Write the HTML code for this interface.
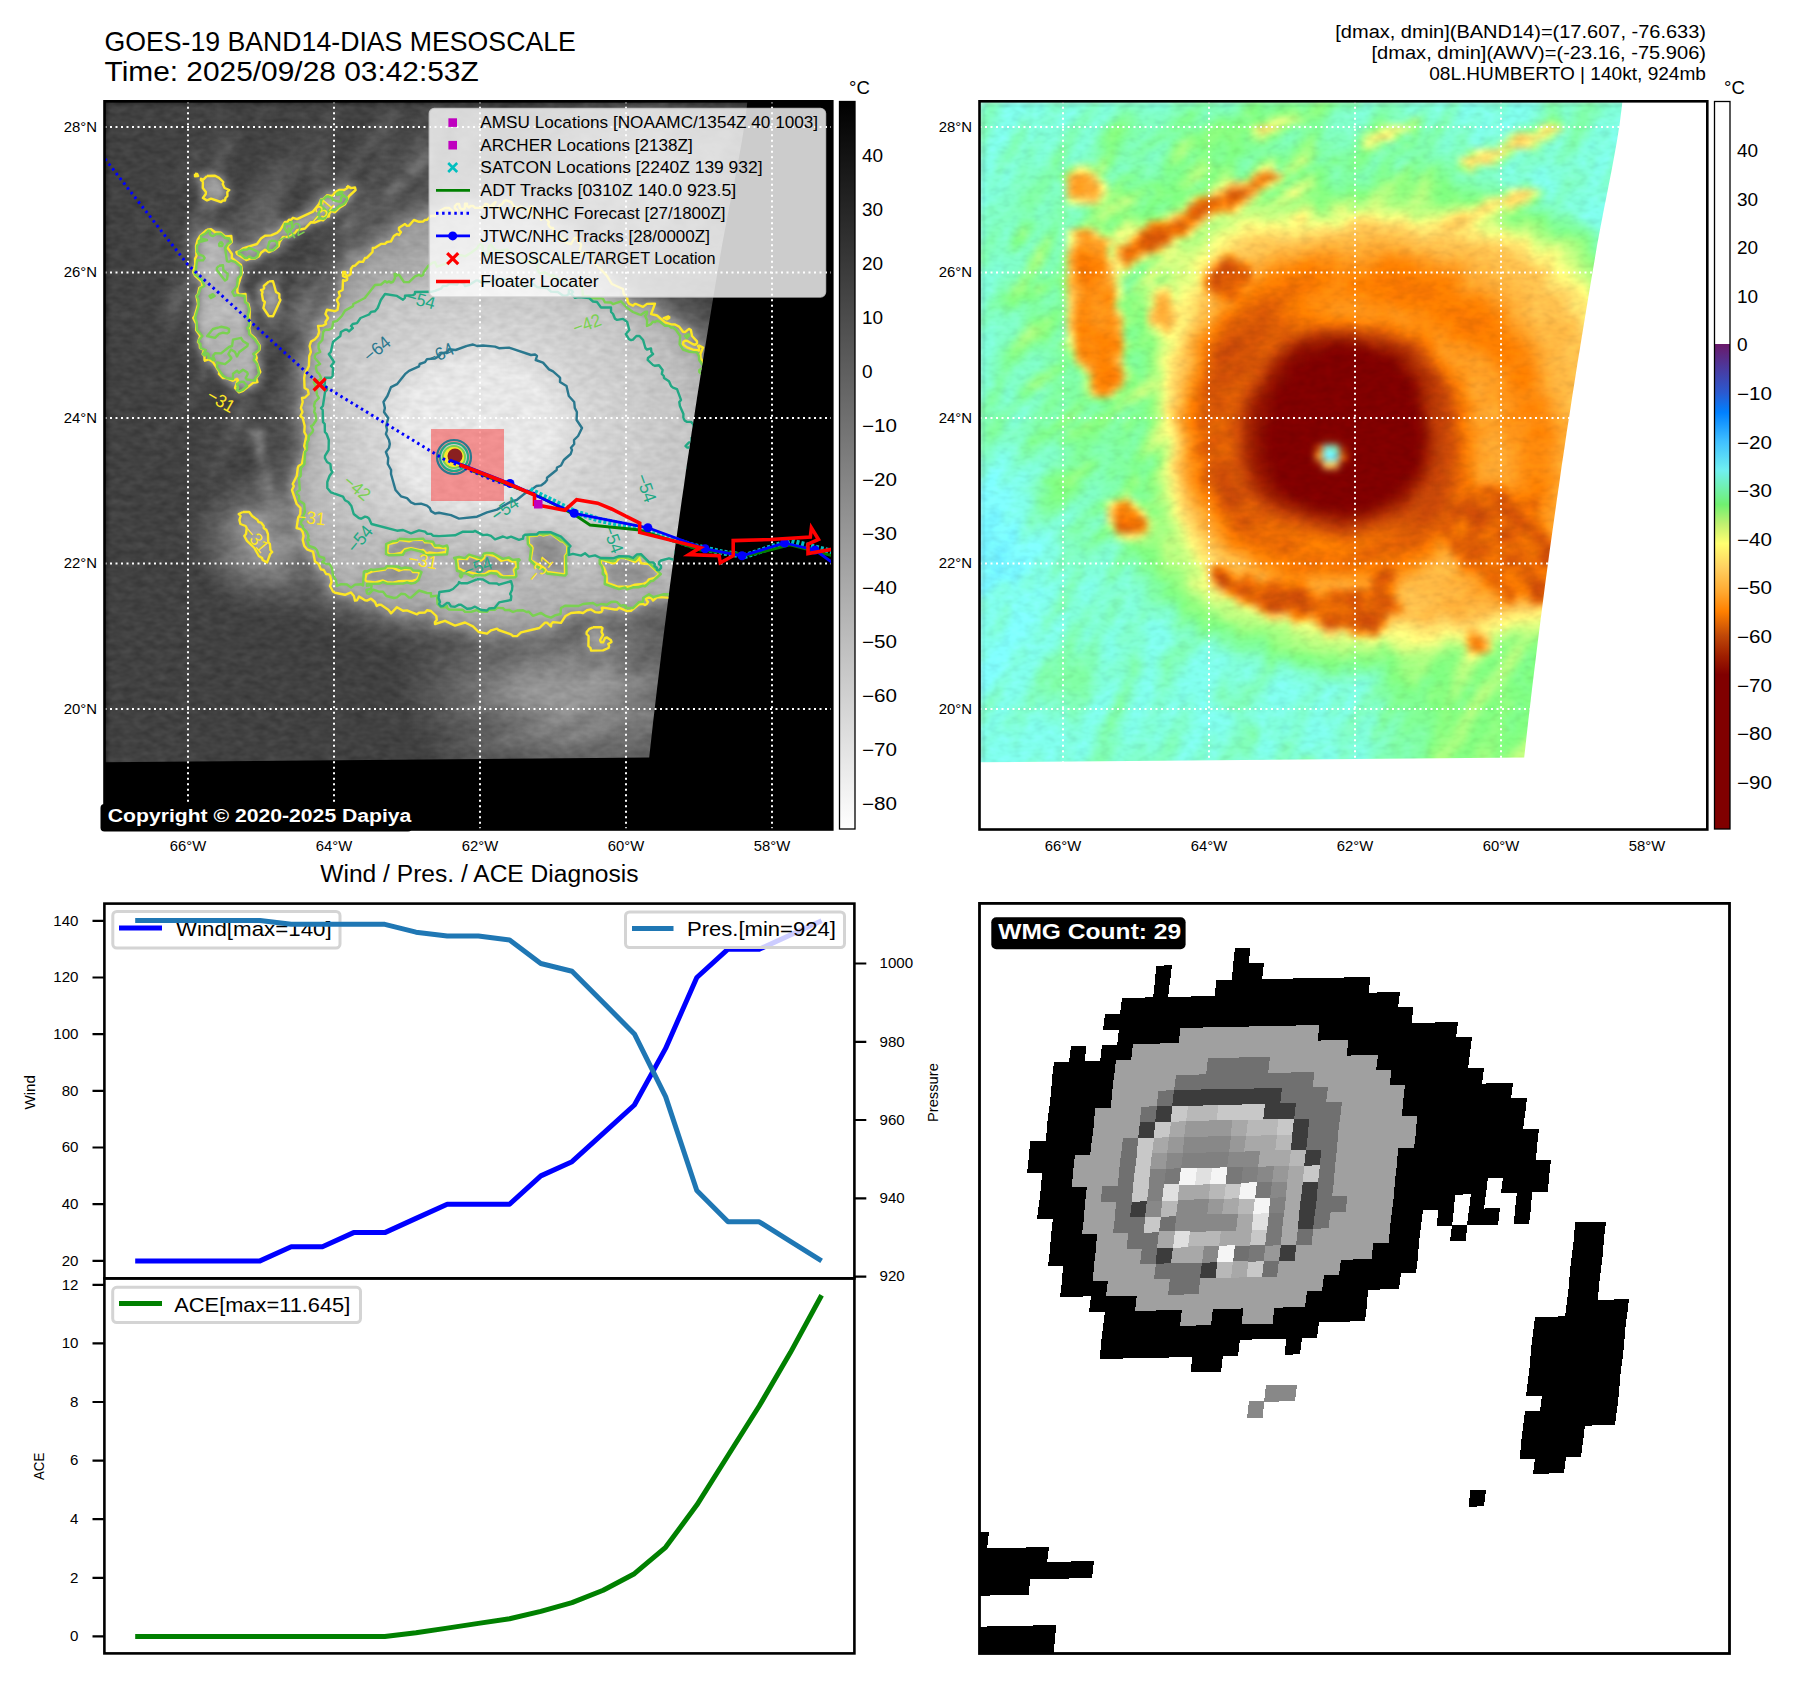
<!DOCTYPE html><html><head><meta charset="utf-8"><title>GOES-19 BAND14 Humberto</title><style>html,body{margin:0;padding:0;background:#fff;overflow:hidden}svg{display:block}</style></head><body>
<svg xmlns="http://www.w3.org/2000/svg" width="1797" height="1690" viewBox="0 0 1797 1690" font-family="'Liberation Sans', sans-serif">
<defs>
<clipPath id="clip0"><rect x="104.5" y="101.3" width="727.8" height="728.2"/></clipPath>
<clipPath id="clip1"><rect x="979.5" y="101.3" width="727.8" height="728.2"/></clipPath>
<clipPath id="clipw"><rect x="979.5" y="903.4" width="750" height="750.1"/></clipPath>
<linearGradient id="cb0" x1="0" y1="0" x2="0" y2="1"><stop offset="0" stop-color="#000"/><stop offset="1" stop-color="#fff"/></linearGradient>
<linearGradient id="cb1" x1="0" y1="0" x2="0" y2="1"><stop offset="0.0000" stop-color="#ffffff"/><stop offset="0.3337" stop-color="#ffffff"/><stop offset="0.3338" stop-color="#6a1a6a"/><stop offset="0.3672" stop-color="#4a3aa0"/><stop offset="0.4005" stop-color="#2a5ad0"/><stop offset="0.4273" stop-color="#0080ff"/><stop offset="0.4673" stop-color="#40c0ff"/><stop offset="0.5074" stop-color="#70f0f0"/><stop offset="0.5541" stop-color="#70f070"/><stop offset="0.5808" stop-color="#c0f070"/><stop offset="0.6075" stop-color="#ffff70"/><stop offset="0.6409" stop-color="#ffd060"/><stop offset="0.6743" stop-color="#ffa830"/><stop offset="0.7010" stop-color="#ff8000"/><stop offset="0.7343" stop-color="#c04808"/><stop offset="0.7610" stop-color="#a02000"/><stop offset="0.7877" stop-color="#800000"/><stop offset="1.0000" stop-color="#800000"/></linearGradient>
<clipPath id="data0"><path d="M100.0 90.0 L748.5 90.0 L746.8 107.1 L744.6 124.2 L741.9 141.3 L738.8 158.5 L735.6 175.6 L732.2 192.7 L728.8 209.8 L725.5 226.9 L722.3 244.0 L719.4 261.2 L716.5 278.3 L713.6 295.4 L710.8 312.5 L708.0 329.6 L705.2 346.7 L702.4 363.8 L699.7 381.0 L697.0 398.1 L694.4 415.2 L691.7 432.3 L689.2 449.4 L686.6 466.5 L684.2 483.7 L681.7 500.8 L679.3 517.9 L676.9 535.0 L674.5 552.1 L672.2 569.2 L669.9 586.3 L667.7 603.5 L665.5 620.6 L663.3 637.7 L661.2 654.8 L659.1 671.9 L657.0 689.0 L655.0 706.2 L653.0 723.3 L651.1 740.4 L649.2 757.5 L100.0 762.3Z"/></clipPath><clipPath id="data1"><path d="M975.0 90.0 L1623.5 90.0 L1621.8 107.1 L1619.6 124.2 L1616.9 141.3 L1613.8 158.5 L1610.6 175.6 L1607.2 192.7 L1603.8 209.8 L1600.5 226.9 L1597.3 244.0 L1594.4 261.2 L1591.5 278.3 L1588.6 295.4 L1585.8 312.5 L1583.0 329.6 L1580.2 346.7 L1577.4 363.8 L1574.7 381.0 L1572.0 398.1 L1569.4 415.2 L1566.7 432.3 L1564.2 449.4 L1561.6 466.5 L1559.2 483.7 L1556.7 500.8 L1554.3 517.9 L1551.9 535.0 L1549.5 552.1 L1547.2 569.2 L1544.9 586.3 L1542.7 603.5 L1540.5 620.6 L1538.3 637.7 L1536.2 654.8 L1534.1 671.9 L1532.0 689.0 L1530.0 706.2 L1528.0 723.3 L1526.1 740.4 L1524.2 757.5 L975.0 762.3Z"/></clipPath><filter id="blur0" filterUnits="userSpaceOnUse" x="100" y="95" width="740" height="740" color-interpolation-filters="sRGB"><feGaussianBlur in="SourceGraphic" stdDeviation="3.5" result="b"/><feTurbulence type="fractalNoise" baseFrequency="0.09 0.16" numOctaves="2" seed="7" result="n"/><feColorMatrix in="n" type="matrix" values="1 0 0 0 0 1 0 0 0 0 1 0 0 0 0 0 0 0 0 1" result="ng"/><feComposite in="b" in2="ng" operator="arithmetic" k1="0" k2="1" k3="0.11" k4="-0.055"/></filter><filter id="blur1" filterUnits="userSpaceOnUse" x="975" y="95" width="740" height="740" color-interpolation-filters="sRGB"><feGaussianBlur in="SourceGraphic" stdDeviation="3.5" result="b"/><feTurbulence type="fractalNoise" baseFrequency="0.09 0.16" numOctaves="2" seed="9" result="n"/><feColorMatrix in="n" type="matrix" values="1 0 0 0 0 1 0 0 0 0 1 0 0 0 0 0 0 0 0 1" result="ng"/><feComposite in="b" in2="ng" operator="arithmetic" k1="0.16" k2="0.92" k3="0" k4="0"/></filter>
</defs>
<rect width="1797" height="1690" fill="#fff"/>
<text x="104.5" y="51.0" font-size="27.56" textLength="471.3" lengthAdjust="spacingAndGlyphs">GOES-19 BAND14-DIAS MESOSCALE</text>
<text x="104.5" y="81.0" font-size="27.56" textLength="374.2" lengthAdjust="spacingAndGlyphs">Time: 2025/09/28 03:42:53Z</text>
<text x="1706.0" y="38.4" font-size="18.44" textLength="370.7" lengthAdjust="spacingAndGlyphs" text-anchor="end">[dmax, dmin](BAND14)=(17.607, -76.633)</text>
<text x="1706.0" y="59.2" font-size="18.44" textLength="334.5" lengthAdjust="spacingAndGlyphs" text-anchor="end">[dmax, dmin](AWV)=(-23.16, -75.906)</text>
<text x="1706.0" y="80.0" font-size="18.44" textLength="276.8" lengthAdjust="spacingAndGlyphs" text-anchor="end">08L.HUMBERTO | 140kt, 924mb</text>
<g clip-path="url(#clip0)">
<rect x="104" y="101" width="729" height="729" fill="#000"/><g clip-path="url(#data0)"><g filter="url(#blur0)"><path fill="#414141" d="M104 101h112v8h-112zM232 101h32v8h-32zM280 101h24v8h-24zM312 101h16v8h-16zM344 101h32v8h-32zM384 101h8v8h-8zM408 101h16v8h-16zM456 101h16v8h-16zM488 101h48v8h-48zM736 101h96v8h-96zM104 109h96v8h-96zM232 109h24v8h-24zM272 109h24v8h-24zM304 109h16v8h-16zM336 109h40v8h-40zM408 109h8v8h-8zM456 109h16v8h-16zM480 109h56v8h-56zM744 109h88v8h-88zM104 117h88v8h-88zM200 117h8v8h-8zM232 117h24v8h-24zM264 117h32v8h-32zM304 117h16v8h-16zM336 117h32v8h-32zM400 117h8v8h-8zM448 117h16v8h-16zM488 117h40v8h-40zM744 117h88v8h-88zM104 125h112v8h-112zM240 125h48v8h-48zM304 125h8v8h-8zM336 125h32v8h-32zM448 125h8v8h-8zM496 125h32v8h-32zM752 125h80v8h-80zM104 133h96v8h-96zM208 133h8v8h-8zM240 133h32v8h-32zM280 133h8v8h-8zM336 133h24v8h-24zM440 133h16v8h-16zM496 133h24v8h-24zM760 133h72v8h-72zM104 141h96v8h-96zM240 141h16v8h-16zM264 141h8v8h-8zM336 141h16v8h-16zM440 141h16v8h-16zM496 141h16v8h-16zM768 141h64v8h-64zM104 149h88v8h-88zM232 149h32v8h-32zM272 149h8v8h-8zM336 149h16v8h-16zM440 149h8v8h-8zM472 149h8v8h-8zM768 149h64v8h-64zM104 157h80v8h-80zM200 157h8v8h-8zM232 157h32v8h-32zM328 157h8v8h-8zM368 157h8v8h-8zM432 157h16v8h-16zM768 157h64v8h-64zM104 165h72v8h-72zM232 165h24v8h-24zM360 165h8v8h-8zM768 165h64v8h-64zM104 173h64v8h-64zM232 173h24v8h-24zM360 173h8v8h-8zM776 173h56v8h-56zM104 181h64v8h-64zM184 181h8v8h-8zM232 181h16v8h-16zM296 181h16v8h-16zM776 181h56v8h-56zM104 189h56v8h-56zM176 189h24v8h-24zM232 189h8v8h-8zM296 189h16v8h-16zM776 189h56v8h-56zM104 197h56v8h-56zM168 197h24v8h-24zM232 197h8v8h-8zM288 197h16v8h-16zM776 197h56v8h-56zM104 205h40v8h-40zM160 205h16v8h-16zM184 205h8v8h-8zM224 205h8v8h-8zM288 205h8v8h-8zM776 205h56v8h-56zM104 213h32v8h-32zM160 213h16v8h-16zM768 213h64v8h-64zM104 221h32v8h-32zM152 221h16v8h-16zM176 221h8v8h-8zM768 221h64v8h-64zM104 229h32v8h-32zM144 229h16v8h-16zM168 229h8v8h-8zM312 229h8v8h-8zM768 229h64v8h-64zM104 237h32v8h-32zM144 237h8v8h-8zM160 237h16v8h-16zM296 237h16v8h-16zM760 237h72v8h-72zM104 245h48v8h-48zM160 245h16v8h-16zM288 245h24v8h-24zM760 245h72v8h-72zM104 253h40v8h-40zM160 253h16v8h-16zM288 253h16v8h-16zM752 253h80v8h-80zM104 261h40v8h-40zM152 261h16v8h-16zM288 261h16v8h-16zM736 261h96v8h-96zM104 269h32v8h-32zM144 269h24v8h-24zM288 269h8v8h-8zM728 269h104v8h-104zM104 277h32v8h-32zM144 277h24v8h-24zM248 277h8v8h-8zM728 277h104v8h-104zM104 285h56v8h-56zM280 285h8v8h-8zM712 285h120v8h-120zM104 293h56v8h-56zM712 293h120v8h-120zM104 301h56v8h-56zM728 301h104v8h-104zM104 309h16v8h-16zM128 309h24v8h-24zM728 309h104v8h-104zM104 317h8v8h-8zM128 317h16v8h-16zM152 317h8v8h-8zM744 317h88v8h-88zM104 325h8v8h-8zM120 325h24v8h-24zM152 325h8v8h-8zM176 325h16v8h-16zM744 325h88v8h-88zM104 333h32v8h-32zM144 333h16v8h-16zM168 333h24v8h-24zM760 333h72v8h-72zM104 341h32v8h-32zM144 341h8v8h-8zM168 341h16v8h-16zM760 341h72v8h-72zM104 349h48v8h-48zM160 349h24v8h-24zM760 349h72v8h-72zM104 357h96v8h-96zM264 357h16v8h-16zM760 357h72v8h-72zM104 365h96v8h-96zM264 365h8v8h-8zM760 365h72v8h-72zM104 373h88v8h-88zM208 373h8v8h-8zM264 373h8v8h-8zM768 373h64v8h-64zM104 381h56v8h-56zM168 381h24v8h-24zM208 381h16v8h-16zM264 381h8v8h-8zM776 381h56v8h-56zM104 389h56v8h-56zM168 389h16v8h-16zM200 389h24v8h-24zM768 389h64v8h-64zM104 397h72v8h-72zM200 397h32v8h-32zM768 397h64v8h-64zM104 405h72v8h-72zM192 405h40v8h-40zM256 405h8v8h-8zM776 405h56v8h-56zM104 413h64v8h-64zM184 413h40v8h-40zM768 413h64v8h-64zM104 421h64v8h-64zM176 421h32v8h-32zM768 421h8v8h-8zM784 421h48v8h-48zM104 429h56v8h-56zM168 429h40v8h-40zM784 429h48v8h-48zM104 437h48v8h-48zM168 437h32v8h-32zM784 437h48v8h-48zM104 445h48v8h-48zM160 445h40v8h-40zM208 445h8v8h-8zM232 445h16v8h-16zM784 445h48v8h-48zM104 453h88v8h-88zM208 453h8v8h-8zM232 453h16v8h-16zM784 453h48v8h-48zM104 461h88v8h-88zM200 461h8v8h-8zM224 461h32v8h-32zM784 461h48v8h-48zM104 469h96v8h-96zM224 469h16v8h-16zM792 469h40v8h-40zM104 477h96v8h-96zM216 477h8v8h-8zM792 477h40v8h-40zM104 485h96v8h-96zM792 485h40v8h-40zM104 493h96v8h-96zM792 493h40v8h-40zM104 501h96v8h-96zM784 501h48v8h-48zM104 509h88v8h-88zM784 509h48v8h-48zM104 517h88v8h-88zM776 517h56v8h-56zM104 525h88v8h-88zM776 525h56v8h-56zM104 533h88v8h-88zM776 533h56v8h-56zM104 541h88v8h-88zM776 541h56v8h-56zM104 549h88v8h-88zM776 549h56v8h-56zM104 557h88v8h-88zM776 557h56v8h-56zM104 565h96v8h-96zM776 565h56v8h-56zM104 573h96v8h-96zM776 573h56v8h-56zM104 581h104v8h-104zM768 581h64v8h-64zM104 589h112v8h-112zM760 589h72v8h-72zM104 597h120v8h-120zM752 597h8v8h-8zM768 597h64v8h-64zM104 605h136v8h-136zM760 605h72v8h-72zM104 613h200v8h-200zM760 613h72v8h-72zM104 621h200v8h-200zM312 621h16v8h-16zM760 621h72v8h-72zM104 629h240v8h-240zM752 629h80v8h-80zM104 637h264v8h-264zM736 637h96v8h-96zM104 645h288v8h-288zM736 645h96v8h-96zM104 653h304v8h-304zM744 653h88v8h-88zM104 661h296v8h-296zM744 661h88v8h-88zM104 669h296v8h-296zM752 669h80v8h-80zM104 677h296v8h-296zM752 677h80v8h-80zM104 685h296v8h-296zM752 685h80v8h-80zM104 693h296v8h-296zM752 693h80v8h-80zM104 701h296v8h-296zM752 701h80v8h-80zM104 709h304v8h-304zM744 709h88v8h-88zM104 717h304v8h-304zM744 717h88v8h-88zM104 725h312v8h-312zM736 725h96v8h-96zM104 733h312v8h-312zM736 733h96v8h-96zM104 741h320v8h-320zM728 741h104v8h-104zM104 749h328v8h-328zM720 749h112v8h-112zM104 757h336v8h-336zM704 757h128v8h-128zM104 765h352v8h-352zM696 765h136v8h-136zM104 773h360v8h-360zM680 773h152v8h-152zM104 781h384v8h-384zM656 781h176v8h-176zM104 789h424v8h-424zM640 789h192v8h-192zM104 797h728v8h-728zM104 805h728v8h-728zM104 813h728v8h-728zM104 821h728v8h-728z"/>
<path fill="#454545" d="M216 101h16v8h-16zM264 101h16v8h-16zM304 101h8v8h-8zM336 101h8v8h-8zM376 101h8v8h-8zM400 101h8v8h-8zM440 101h16v8h-16zM472 101h16v8h-16zM536 101h16v8h-16zM568 101h8v8h-8zM688 101h8v8h-8zM712 101h24v8h-24zM200 109h16v8h-16zM224 109h8v8h-8zM256 109h16v8h-16zM296 109h8v8h-8zM320 109h8v8h-8zM400 109h8v8h-8zM432 109h8v8h-8zM448 109h8v8h-8zM536 109h8v8h-8zM736 109h8v8h-8zM192 117h8v8h-8zM208 117h8v8h-8zM224 117h8v8h-8zM256 117h8v8h-8zM296 117h8v8h-8zM368 117h8v8h-8zM408 117h8v8h-8zM424 117h8v8h-8zM480 117h8v8h-8zM528 117h8v8h-8zM216 125h24v8h-24zM288 125h16v8h-16zM328 125h8v8h-8zM400 125h8v8h-8zM416 125h8v8h-8zM440 125h8v8h-8zM456 125h8v8h-8zM480 125h16v8h-16zM528 125h8v8h-8zM744 125h8v8h-8zM200 133h8v8h-8zM272 133h8v8h-8zM296 133h8v8h-8zM328 133h8v8h-8zM408 133h8v8h-8zM480 133h8v8h-8zM520 133h8v8h-8zM744 133h16v8h-16zM208 141h8v8h-8zM256 141h8v8h-8zM272 141h16v8h-16zM296 141h8v8h-8zM352 141h8v8h-8zM400 141h8v8h-8zM432 141h8v8h-8zM472 141h16v8h-16zM512 141h8v8h-8zM744 141h24v8h-24zM264 149h8v8h-8zM280 149h16v8h-16zM328 149h8v8h-8zM368 149h8v8h-8zM448 149h8v8h-8zM488 149h32v8h-32zM760 149h8v8h-8zM336 157h16v8h-16zM488 157h24v8h-24zM760 157h8v8h-8zM192 165h16v8h-16zM224 165h8v8h-8zM328 165h8v8h-8zM440 165h8v8h-8zM168 173h8v8h-8zM184 173h8v8h-8zM296 173h16v8h-16zM352 173h8v8h-8zM768 173h8v8h-8zM176 181h8v8h-8zM768 181h8v8h-8zM160 189h16v8h-16zM240 189h8v8h-8zM288 189h8v8h-8zM768 189h8v8h-8zM160 197h8v8h-8zM192 197h8v8h-8zM760 197h16v8h-16zM144 205h16v8h-16zM176 205h8v8h-8zM296 205h8v8h-8zM760 205h16v8h-16zM136 213h8v8h-8zM152 213h8v8h-8zM176 213h16v8h-16zM216 213h8v8h-8zM280 213h8v8h-8zM760 213h8v8h-8zM136 221h16v8h-16zM168 221h8v8h-8zM760 221h8v8h-8zM136 229h8v8h-8zM160 229h8v8h-8zM176 229h8v8h-8zM304 229h8v8h-8zM752 229h16v8h-16zM136 237h8v8h-8zM152 237h8v8h-8zM744 237h16v8h-16zM152 245h8v8h-8zM312 245h8v8h-8zM744 245h16v8h-16zM144 253h16v8h-16zM184 253h8v8h-8zM736 253h16v8h-16zM144 261h8v8h-8zM168 261h8v8h-8zM184 261h8v8h-8zM264 261h8v8h-8zM728 261h8v8h-8zM136 269h8v8h-8zM168 269h8v8h-8zM264 269h8v8h-8zM280 269h8v8h-8zM136 277h8v8h-8zM280 277h16v8h-16zM712 277h16v8h-16zM160 285h8v8h-8zM240 285h16v8h-16zM696 285h16v8h-16zM160 293h8v8h-8zM704 293h8v8h-8zM184 301h8v8h-8zM280 301h8v8h-8zM704 301h24v8h-24zM120 309h8v8h-8zM152 309h8v8h-8zM184 309h8v8h-8zM112 317h16v8h-16zM144 317h8v8h-8zM160 317h8v8h-8zM184 317h8v8h-8zM728 317h16v8h-16zM112 325h8v8h-8zM144 325h8v8h-8zM160 325h8v8h-8zM744 333h16v8h-16zM136 341h8v8h-8zM152 341h16v8h-16zM184 341h8v8h-8zM264 341h8v8h-8zM752 341h8v8h-8zM152 349h8v8h-8zM192 349h8v8h-8zM264 349h24v8h-24zM272 365h8v8h-8zM760 373h8v8h-8zM160 381h8v8h-8zM760 381h16v8h-16zM160 389h8v8h-8zM184 389h8v8h-8zM224 389h8v8h-8zM264 389h8v8h-8zM760 389h8v8h-8zM176 397h8v8h-8zM192 397h8v8h-8zM232 397h8v8h-8zM256 397h8v8h-8zM760 397h8v8h-8zM184 405h8v8h-8zM760 405h16v8h-16zM168 413h16v8h-16zM248 413h16v8h-16zM760 413h8v8h-8zM168 421h8v8h-8zM208 421h16v8h-16zM776 421h8v8h-8zM768 429h16v8h-16zM160 437h8v8h-8zM200 437h8v8h-8zM216 437h8v8h-8zM240 437h8v8h-8zM776 437h8v8h-8zM152 445h8v8h-8zM776 445h8v8h-8zM192 453h16v8h-16zM248 453h8v8h-8zM192 461h8v8h-8zM200 469h8v8h-8zM216 469h8v8h-8zM240 469h8v8h-8zM224 477h8v8h-8zM784 477h8v8h-8zM208 485h16v8h-16zM784 485h8v8h-8zM200 493h8v8h-8zM784 493h8v8h-8zM200 501h8v8h-8zM192 509h8v8h-8zM776 509h8v8h-8zM768 517h8v8h-8zM768 533h8v8h-8zM768 541h8v8h-8zM192 549h8v8h-8zM768 549h8v8h-8zM192 557h8v8h-8zM768 557h8v8h-8zM768 565h8v8h-8zM200 573h8v8h-8zM760 573h16v8h-16zM208 581h8v8h-8zM760 581h8v8h-8zM216 589h8v8h-8zM752 589h8v8h-8zM224 597h8v8h-8zM744 597h8v8h-8zM760 597h8v8h-8zM240 605h24v8h-24zM752 605h8v8h-8zM752 613h8v8h-8zM304 621h8v8h-8zM328 621h16v8h-16zM752 621h8v8h-8zM344 629h16v8h-16zM720 629h32v8h-32zM368 637h8v8h-8zM728 637h8v8h-8zM392 645h8v8h-8zM728 645h8v8h-8zM408 653h8v8h-8zM736 653h8v8h-8zM400 661h8v8h-8zM400 669h8v8h-8zM744 669h8v8h-8zM400 677h8v8h-8zM744 677h8v8h-8zM400 685h8v8h-8zM744 685h8v8h-8zM400 693h8v8h-8zM744 693h8v8h-8zM400 701h8v8h-8zM744 701h8v8h-8zM408 709h8v8h-8zM736 709h8v8h-8zM408 717h8v8h-8zM736 717h8v8h-8zM416 725h8v8h-8zM728 725h8v8h-8zM416 733h16v8h-16zM728 733h8v8h-8zM424 741h8v8h-8zM712 741h16v8h-16zM432 749h8v8h-8zM712 749h8v8h-8zM440 757h8v8h-8zM696 757h8v8h-8zM456 765h8v8h-8zM688 765h8v8h-8zM464 773h16v8h-16zM664 773h16v8h-16zM488 781h24v8h-24zM648 781h8v8h-8zM528 789h32v8h-32zM608 789h32v8h-32z"/>
<path fill="#494949" d="M392 101h8v8h-8zM432 101h8v8h-8zM552 101h16v8h-16zM680 101h8v8h-8zM696 101h16v8h-16zM216 109h8v8h-8zM376 109h8v8h-8zM416 109h8v8h-8zM440 109h8v8h-8zM472 109h8v8h-8zM544 109h8v8h-8zM560 109h16v8h-16zM680 109h8v8h-8zM696 109h40v8h-40zM216 117h8v8h-8zM416 117h8v8h-8zM464 117h8v8h-8zM536 117h8v8h-8zM560 117h8v8h-8zM696 117h8v8h-8zM736 117h8v8h-8zM312 125h8v8h-8zM392 125h8v8h-8zM408 125h8v8h-8zM536 125h8v8h-8zM736 125h8v8h-8zM232 133h8v8h-8zM288 133h8v8h-8zM304 133h8v8h-8zM320 133h8v8h-8zM360 133h8v8h-8zM392 133h16v8h-16zM456 133h8v8h-8zM488 133h8v8h-8zM528 133h8v8h-8zM736 133h8v8h-8zM200 141h8v8h-8zM232 141h8v8h-8zM288 141h8v8h-8zM328 141h8v8h-8zM488 141h8v8h-8zM520 141h16v8h-16zM544 141h8v8h-8zM736 141h8v8h-8zM200 149h16v8h-16zM304 149h16v8h-16zM392 149h8v8h-8zM480 149h8v8h-8zM520 149h8v8h-8zM736 149h24v8h-24zM184 157h8v8h-8zM208 157h8v8h-8zM224 157h8v8h-8zM264 157h8v8h-8zM304 157h8v8h-8zM360 157h8v8h-8zM448 157h8v8h-8zM464 157h16v8h-16zM512 157h32v8h-32zM736 157h8v8h-8zM752 157h8v8h-8zM176 165h16v8h-16zM256 165h16v8h-16zM304 165h8v8h-8zM336 165h8v8h-8zM368 165h8v8h-8zM384 165h8v8h-8zM424 165h16v8h-16zM736 165h8v8h-8zM752 165h16v8h-16zM176 173h8v8h-8zM224 173h8v8h-8zM320 173h16v8h-16zM760 173h8v8h-8zM168 181h8v8h-8zM248 181h8v8h-8zM360 181h8v8h-8zM728 181h8v8h-8zM760 181h8v8h-8zM400 189h8v8h-8zM760 189h8v8h-8zM728 197h8v8h-8zM216 205h8v8h-8zM232 205h8v8h-8zM144 213h8v8h-8zM224 213h8v8h-8zM720 213h8v8h-8zM752 213h8v8h-8zM216 221h8v8h-8zM752 221h8v8h-8zM232 229h8v8h-8zM328 229h8v8h-8zM176 237h8v8h-8zM312 237h16v8h-16zM320 245h8v8h-8zM736 245h8v8h-8zM280 253h8v8h-8zM304 253h16v8h-16zM728 253h8v8h-8zM272 261h16v8h-16zM312 261h8v8h-8zM176 269h8v8h-8zM248 269h16v8h-16zM720 269h8v8h-8zM168 277h8v8h-8zM256 277h8v8h-8zM672 277h8v8h-8zM688 277h24v8h-24zM168 285h8v8h-8zM680 285h16v8h-16zM248 293h8v8h-8zM280 293h8v8h-8zM696 293h8v8h-8zM696 301h8v8h-8zM720 309h8v8h-8zM176 317h8v8h-8zM256 317h8v8h-8zM736 325h8v8h-8zM136 333h8v8h-8zM160 333h8v8h-8zM280 333h8v8h-8zM736 333h8v8h-8zM280 341h8v8h-8zM744 341h8v8h-8zM184 349h8v8h-8zM752 349h8v8h-8zM280 357h8v8h-8zM752 357h8v8h-8zM280 365h8v8h-8zM752 365h8v8h-8zM192 373h8v8h-8zM272 373h8v8h-8zM752 373h8v8h-8zM200 381h8v8h-8zM272 381h8v8h-8zM752 381h8v8h-8zM248 389h16v8h-16zM752 389h8v8h-8zM264 397h8v8h-8zM752 397h8v8h-8zM176 405h8v8h-8zM264 405h8v8h-8zM752 405h8v8h-8zM224 413h8v8h-8zM264 413h8v8h-8zM248 421h8v8h-8zM264 421h8v8h-8zM760 421h8v8h-8zM160 429h8v8h-8zM208 429h16v8h-16zM264 429h8v8h-8zM760 429h8v8h-8zM152 437h8v8h-8zM208 437h8v8h-8zM264 437h16v8h-16zM768 437h8v8h-8zM200 445h8v8h-8zM248 445h8v8h-8zM264 445h16v8h-16zM768 445h8v8h-8zM224 453h8v8h-8zM776 453h8v8h-8zM776 461h8v8h-8zM248 469h8v8h-8zM776 469h16v8h-16zM200 477h8v8h-8zM776 477h8v8h-8zM200 485h8v8h-8zM208 493h8v8h-8zM776 493h8v8h-8zM776 501h8v8h-8zM768 509h8v8h-8zM192 517h8v8h-8zM192 525h8v8h-8zM768 525h8v8h-8zM192 533h8v8h-8zM192 541h8v8h-8zM760 541h8v8h-8zM760 549h8v8h-8zM760 557h8v8h-8zM200 565h8v8h-8zM760 565h8v8h-8zM208 573h8v8h-8zM752 573h8v8h-8zM216 581h8v8h-8zM752 581h8v8h-8zM744 589h8v8h-8zM232 597h16v8h-16zM264 605h48v8h-48zM744 605h8v8h-8zM304 613h24v8h-24zM736 613h16v8h-16zM344 621h8v8h-8zM736 621h16v8h-16zM360 629h8v8h-8zM712 629h8v8h-8zM376 637h32v8h-32zM712 637h16v8h-16zM400 645h24v8h-24zM728 653h8v8h-8zM408 661h8v8h-8zM736 661h8v8h-8zM408 669h8v8h-8zM736 669h8v8h-8zM408 677h8v8h-8zM736 677h8v8h-8zM408 701h8v8h-8zM736 701h8v8h-8zM416 709h8v8h-8zM416 717h8v8h-8zM728 717h8v8h-8zM424 725h8v8h-8zM720 725h8v8h-8zM432 733h8v8h-8zM712 733h16v8h-16zM432 741h8v8h-8zM704 741h8v8h-8zM696 749h16v8h-16zM448 757h16v8h-16zM688 757h8v8h-8zM464 765h16v8h-16zM672 765h16v8h-16zM480 773h16v8h-16zM648 773h16v8h-16zM512 781h24v8h-24zM552 781h16v8h-16zM624 781h24v8h-24zM560 789h48v8h-48z"/>
<path fill="#4d4d4d" d="M328 101h8v8h-8zM424 101h8v8h-8zM576 101h8v8h-8zM592 101h24v8h-24zM328 109h8v8h-8zM384 109h8v8h-8zM424 109h8v8h-8zM552 109h8v8h-8zM688 109h8v8h-8zM320 117h16v8h-16zM392 117h8v8h-8zM432 117h16v8h-16zM472 117h8v8h-8zM544 117h16v8h-16zM680 117h8v8h-8zM704 117h32v8h-32zM368 125h8v8h-8zM432 125h8v8h-8zM552 125h8v8h-8zM688 125h32v8h-32zM216 133h8v8h-8zM312 133h8v8h-8zM384 133h8v8h-8zM432 133h8v8h-8zM472 133h8v8h-8zM536 133h24v8h-24zM216 141h8v8h-8zM304 141h24v8h-24zM376 141h24v8h-24zM408 141h8v8h-8zM536 141h8v8h-8zM728 141h8v8h-8zM192 149h8v8h-8zM296 149h8v8h-8zM352 149h8v8h-8zM376 149h8v8h-8zM400 149h8v8h-8zM432 149h8v8h-8zM528 149h24v8h-24zM728 149h8v8h-8zM192 157h8v8h-8zM272 157h24v8h-24zM376 157h8v8h-8zM392 157h8v8h-8zM720 157h16v8h-16zM744 157h8v8h-8zM392 165h8v8h-8zM464 165h8v8h-8zM488 165h56v8h-56zM720 165h16v8h-16zM744 165h8v8h-8zM256 173h8v8h-8zM376 173h24v8h-24zM416 173h24v8h-24zM536 173h8v8h-8zM712 173h48v8h-48zM192 181h8v8h-8zM288 181h8v8h-8zM312 181h16v8h-16zM376 181h16v8h-16zM408 181h16v8h-16zM736 181h8v8h-8zM752 181h8v8h-8zM408 189h8v8h-8zM720 189h24v8h-24zM752 189h8v8h-8zM240 197h8v8h-8zM352 197h8v8h-8zM392 197h8v8h-8zM720 197h8v8h-8zM752 197h8v8h-8zM280 205h8v8h-8zM720 205h16v8h-16zM752 205h8v8h-8zM336 213h8v8h-8zM712 213h8v8h-8zM320 221h16v8h-16zM720 221h8v8h-8zM744 229h8v8h-8zM328 237h8v8h-8zM736 237h8v8h-8zM176 245h8v8h-8zM264 253h16v8h-16zM320 253h8v8h-8zM176 261h8v8h-8zM256 261h8v8h-8zM720 261h8v8h-8zM184 269h8v8h-8zM312 269h8v8h-8zM664 269h24v8h-24zM704 269h16v8h-16zM176 277h8v8h-8zM304 277h8v8h-8zM656 277h16v8h-16zM680 277h8v8h-8zM680 293h16v8h-16zM160 301h8v8h-8zM160 309h8v8h-8zM704 309h16v8h-16zM712 317h16v8h-16zM168 325h8v8h-8zM728 325h8v8h-8zM272 333h8v8h-8zM728 333h8v8h-8zM272 341h8v8h-8zM288 341h8v8h-8zM736 341h8v8h-8zM736 349h16v8h-16zM736 357h16v8h-16zM192 381h8v8h-8zM192 389h8v8h-8zM272 389h8v8h-8zM184 397h8v8h-8zM272 397h8v8h-8zM248 405h8v8h-8zM272 413h8v8h-8zM752 413h8v8h-8zM224 421h8v8h-8zM240 421h8v8h-8zM272 421h8v8h-8zM240 429h8v8h-8zM272 429h8v8h-8zM232 437h8v8h-8zM280 437h8v8h-8zM760 437h8v8h-8zM216 445h8v8h-8zM760 445h8v8h-8zM768 453h8v8h-8zM208 461h8v8h-8zM768 461h8v8h-8zM768 469h8v8h-8zM208 477h8v8h-8zM232 477h8v8h-8zM224 485h8v8h-8zM768 485h16v8h-16zM216 493h8v8h-8zM760 493h16v8h-16zM208 501h8v8h-8zM760 501h16v8h-16zM200 509h8v8h-8zM752 509h16v8h-16zM760 517h8v8h-8zM752 525h16v8h-16zM760 533h8v8h-8zM200 549h8v8h-8zM752 549h8v8h-8zM200 557h8v8h-8zM752 557h8v8h-8zM752 565h8v8h-8zM744 581h8v8h-8zM224 589h8v8h-8zM248 597h8v8h-8zM264 597h16v8h-16zM736 597h8v8h-8zM312 605h8v8h-8zM728 605h16v8h-16zM328 613h8v8h-8zM344 613h8v8h-8zM728 613h8v8h-8zM352 621h8v8h-8zM688 621h16v8h-16zM712 621h24v8h-24zM368 629h8v8h-8zM384 629h16v8h-16zM704 629h8v8h-8zM408 637h8v8h-8zM704 637h8v8h-8zM424 645h8v8h-8zM712 645h16v8h-16zM416 653h16v8h-16zM416 661h8v8h-8zM728 661h8v8h-8zM416 669h8v8h-8zM728 669h8v8h-8zM416 677h8v8h-8zM728 677h8v8h-8zM408 685h8v8h-8zM728 685h16v8h-16zM408 693h8v8h-8zM736 693h8v8h-8zM416 701h8v8h-8zM424 709h8v8h-8zM728 709h8v8h-8zM424 717h8v8h-8zM720 717h8v8h-8zM432 725h16v8h-16zM440 733h8v8h-8zM440 741h8v8h-8zM696 741h8v8h-8zM440 749h16v8h-16zM680 749h16v8h-16zM464 757h16v8h-16zM672 757h16v8h-16zM480 765h8v8h-8zM656 765h16v8h-16zM496 773h16v8h-16zM624 773h24v8h-24zM536 781h16v8h-16zM568 781h8v8h-8zM600 781h24v8h-24z"/>
<path fill="#515151" d="M584 101h8v8h-8zM616 101h16v8h-16zM664 101h16v8h-16zM392 109h8v8h-8zM592 109h16v8h-16zM376 117h8v8h-8zM568 117h8v8h-8zM584 117h8v8h-8zM688 117h8v8h-8zM320 125h8v8h-8zM424 125h8v8h-8zM464 125h8v8h-8zM544 125h8v8h-8zM560 125h8v8h-8zM672 125h8v8h-8zM728 125h8v8h-8zM224 133h8v8h-8zM416 133h16v8h-16zM696 133h8v8h-8zM728 133h8v8h-8zM360 141h8v8h-8zM216 149h8v8h-8zM384 149h8v8h-8zM464 149h8v8h-8zM296 157h8v8h-8zM312 157h16v8h-16zM384 157h8v8h-8zM400 157h8v8h-8zM480 157h8v8h-8zM544 157h8v8h-8zM288 165h8v8h-8zM320 165h8v8h-8zM352 165h8v8h-8zM400 165h8v8h-8zM448 165h8v8h-8zM472 165h16v8h-16zM264 173h8v8h-8zM440 173h8v8h-8zM456 173h16v8h-16zM480 173h24v8h-24zM520 173h16v8h-16zM264 181h8v8h-8zM368 181h8v8h-8zM424 181h16v8h-16zM528 181h8v8h-8zM712 181h16v8h-16zM744 181h8v8h-8zM248 189h8v8h-8zM280 189h8v8h-8zM368 189h16v8h-16zM416 189h16v8h-16zM704 189h8v8h-8zM744 189h8v8h-8zM280 197h8v8h-8zM400 197h8v8h-8zM696 197h8v8h-8zM736 197h16v8h-16zM192 205h8v8h-8zM344 205h8v8h-8zM376 205h8v8h-8zM712 205h8v8h-8zM208 213h8v8h-8zM240 213h8v8h-8zM368 213h16v8h-16zM680 213h8v8h-8zM728 213h8v8h-8zM184 221h8v8h-8zM232 221h8v8h-8zM672 221h8v8h-8zM704 221h16v8h-16zM744 221h8v8h-8zM320 229h8v8h-8zM352 229h8v8h-8zM712 229h8v8h-8zM736 229h8v8h-8zM288 237h8v8h-8zM336 237h8v8h-8zM328 245h8v8h-8zM728 245h8v8h-8zM176 253h8v8h-8zM328 253h8v8h-8zM624 253h8v8h-8zM672 253h8v8h-8zM720 253h8v8h-8zM320 261h8v8h-8zM616 261h8v8h-8zM664 261h32v8h-32zM712 261h8v8h-8zM296 269h8v8h-8zM656 269h8v8h-8zM688 269h16v8h-16zM648 277h8v8h-8zM288 285h8v8h-8zM648 285h32v8h-32zM672 293h8v8h-8zM688 301h8v8h-8zM176 309h8v8h-8zM256 309h8v8h-8zM720 325h8v8h-8zM288 333h8v8h-8zM720 333h8v8h-8zM728 341h8v8h-8zM208 365h8v8h-8zM736 365h16v8h-16zM280 373h8v8h-8zM744 373h8v8h-8zM744 381h8v8h-8zM744 389h8v8h-8zM240 397h16v8h-16zM744 397h8v8h-8zM232 405h8v8h-8zM272 405h16v8h-16zM280 413h8v8h-8zM744 413h8v8h-8zM256 421h8v8h-8zM280 421h8v8h-8zM752 421h8v8h-8zM224 429h8v8h-8zM280 429h8v8h-8zM744 429h16v8h-16zM752 437h8v8h-8zM224 445h8v8h-8zM280 445h8v8h-8zM752 445h8v8h-8zM264 453h24v8h-24zM752 453h16v8h-16zM216 461h8v8h-8zM256 461h16v8h-16zM760 461h8v8h-8zM208 469h8v8h-8zM272 469h8v8h-8zM760 469h8v8h-8zM240 477h16v8h-16zM760 477h16v8h-16zM232 485h8v8h-8zM760 485h8v8h-8zM200 517h8v8h-8zM752 517h8v8h-8zM200 525h8v8h-8zM200 533h8v8h-8zM752 533h8v8h-8zM752 541h8v8h-8zM744 557h8v8h-8zM216 573h8v8h-8zM744 573h8v8h-8zM224 581h8v8h-8zM736 581h8v8h-8zM736 589h8v8h-8zM256 597h8v8h-8zM280 597h32v8h-32zM728 597h8v8h-8zM320 605h8v8h-8zM336 613h8v8h-8zM720 613h8v8h-8zM360 621h24v8h-24zM672 621h16v8h-16zM704 621h8v8h-8zM376 629h8v8h-8zM696 629h8v8h-8zM416 637h24v8h-24zM696 637h8v8h-8zM432 645h16v8h-16zM704 645h8v8h-8zM432 653h8v8h-8zM720 653h8v8h-8zM424 661h8v8h-8zM720 661h8v8h-8zM424 669h16v8h-16zM720 669h8v8h-8zM424 677h8v8h-8zM720 677h8v8h-8zM416 685h8v8h-8zM720 685h8v8h-8zM416 693h8v8h-8zM728 693h8v8h-8zM424 701h8v8h-8zM728 701h8v8h-8zM432 709h8v8h-8zM720 709h8v8h-8zM432 717h8v8h-8zM448 725h8v8h-8zM712 725h8v8h-8zM448 733h8v8h-8zM704 733h8v8h-8zM688 741h8v8h-8zM456 749h8v8h-8zM672 749h8v8h-8zM480 757h16v8h-16zM504 757h8v8h-8zM656 757h16v8h-16zM488 765h16v8h-16zM632 765h24v8h-24zM512 773h32v8h-32zM568 773h8v8h-8zM608 773h16v8h-16zM576 781h24v8h-24z"/>
<path fill="#555555" d="M632 101h8v8h-8zM648 101h16v8h-16zM576 109h16v8h-16zM608 109h16v8h-16zM656 109h24v8h-24zM672 117h8v8h-8zM376 125h16v8h-16zM472 125h8v8h-8zM680 125h8v8h-8zM720 125h8v8h-8zM376 133h8v8h-8zM560 133h8v8h-8zM680 133h16v8h-16zM704 133h16v8h-16zM224 141h8v8h-8zM368 141h8v8h-8zM424 141h8v8h-8zM456 141h8v8h-8zM552 141h8v8h-8zM688 141h8v8h-8zM224 149h8v8h-8zM320 149h8v8h-8zM408 149h8v8h-8zM456 149h8v8h-8zM720 149h8v8h-8zM208 165h8v8h-8zM296 165h8v8h-8zM312 165h8v8h-8zM344 165h8v8h-8zM376 165h8v8h-8zM456 165h8v8h-8zM544 165h8v8h-8zM712 165h8v8h-8zM280 173h16v8h-16zM336 173h8v8h-8zM368 173h8v8h-8zM448 173h8v8h-8zM504 173h8v8h-8zM576 173h8v8h-8zM256 181h8v8h-8zM280 181h8v8h-8zM456 181h8v8h-8zM520 181h8v8h-8zM536 181h8v8h-8zM568 181h8v8h-8zM704 181h8v8h-8zM256 189h8v8h-8zM360 189h8v8h-8zM528 189h8v8h-8zM568 189h8v8h-8zM712 189h8v8h-8zM272 197h8v8h-8zM304 197h8v8h-8zM368 197h16v8h-16zM560 197h8v8h-8zM712 197h8v8h-8zM384 205h8v8h-8zM560 205h16v8h-16zM688 205h8v8h-8zM736 205h16v8h-16zM344 213h8v8h-8zM624 213h8v8h-8zM736 213h16v8h-16zM240 221h8v8h-8zM336 221h8v8h-8zM360 221h16v8h-16zM728 221h16v8h-16zM336 229h8v8h-8zM704 229h8v8h-8zM720 229h16v8h-16zM712 237h8v8h-8zM728 237h8v8h-8zM184 245h8v8h-8zM280 245h8v8h-8zM680 245h8v8h-8zM720 245h8v8h-8zM616 253h8v8h-8zM680 253h24v8h-24zM712 253h8v8h-8zM248 261h8v8h-8zM696 261h16v8h-16zM304 269h8v8h-8zM240 277h8v8h-8zM640 277h8v8h-8zM296 285h8v8h-8zM640 285h8v8h-8zM168 293h8v8h-8zM184 293h8v8h-8zM288 293h8v8h-8zM680 301h8v8h-8zM280 309h8v8h-8zM696 309h8v8h-8zM168 317h8v8h-8zM696 317h16v8h-16zM264 325h8v8h-8zM280 325h8v8h-8zM712 325h8v8h-8zM264 333h8v8h-8zM288 349h8v8h-8zM728 349h8v8h-8zM728 357h8v8h-8zM200 373h8v8h-8zM280 381h8v8h-8zM736 381h8v8h-8zM280 389h8v8h-8zM736 389h8v8h-8zM280 397h8v8h-8zM736 405h8v8h-8zM240 413h8v8h-8zM744 421h8v8h-8zM232 429h8v8h-8zM224 437h8v8h-8zM288 437h8v8h-8zM744 437h8v8h-8zM288 445h8v8h-8zM216 453h8v8h-8zM272 461h16v8h-16zM752 461h8v8h-8zM752 469h8v8h-8zM272 477h8v8h-8zM752 477h8v8h-8zM752 485h8v8h-8zM224 493h8v8h-8zM752 493h8v8h-8zM216 501h8v8h-8zM752 501h8v8h-8zM208 509h8v8h-8zM744 525h8v8h-8zM744 533h8v8h-8zM200 541h8v8h-8zM208 549h8v8h-8zM744 549h8v8h-8zM208 565h8v8h-8zM744 565h8v8h-8zM736 573h8v8h-8zM728 581h8v8h-8zM232 589h48v8h-48zM728 589h8v8h-8zM312 597h8v8h-8zM328 605h8v8h-8zM352 613h8v8h-8zM672 613h16v8h-16zM696 613h8v8h-8zM712 613h8v8h-8zM400 629h24v8h-24zM688 629h8v8h-8zM440 637h16v8h-16zM448 645h8v8h-8zM696 645h8v8h-8zM440 653h8v8h-8zM696 653h24v8h-24zM432 661h16v8h-16zM440 669h8v8h-8zM432 677h8v8h-8zM712 677h8v8h-8zM424 685h8v8h-8zM712 685h8v8h-8zM424 693h8v8h-8zM720 693h8v8h-8zM432 701h16v8h-16zM720 701h8v8h-8zM440 709h8v8h-8zM440 717h8v8h-8zM704 717h16v8h-16zM456 725h8v8h-8zM704 725h8v8h-8zM456 733h8v8h-8zM696 733h8v8h-8zM448 741h16v8h-16zM680 741h8v8h-8zM464 749h8v8h-8zM496 757h8v8h-8zM648 757h8v8h-8zM504 765h8v8h-8zM536 765h16v8h-16zM544 773h8v8h-8zM560 773h8v8h-8zM576 773h32v8h-32z"/>
<path fill="#595959" d="M640 101h8v8h-8zM624 109h8v8h-8zM640 109h16v8h-16zM384 117h8v8h-8zM592 117h24v8h-24zM632 117h16v8h-16zM656 117h8v8h-8zM568 125h24v8h-24zM368 133h8v8h-8zM464 133h8v8h-8zM624 133h8v8h-8zM672 133h8v8h-8zM416 141h8v8h-8zM464 141h8v8h-8zM616 141h8v8h-8zM680 141h8v8h-8zM704 141h8v8h-8zM720 141h8v8h-8zM360 149h8v8h-8zM416 149h8v8h-8zM552 149h8v8h-8zM616 149h8v8h-8zM688 149h8v8h-8zM216 157h8v8h-8zM352 157h8v8h-8zM408 157h8v8h-8zM456 157h8v8h-8zM216 165h8v8h-8zM272 165h16v8h-16zM576 165h8v8h-8zM688 165h8v8h-8zM272 173h8v8h-8zM408 173h8v8h-8zM680 173h16v8h-16zM224 181h8v8h-8zM328 181h8v8h-8zM440 181h16v8h-16zM464 181h16v8h-16zM496 181h8v8h-8zM688 181h8v8h-8zM536 189h8v8h-8zM224 197h8v8h-8zM248 197h16v8h-16zM360 197h8v8h-8zM408 197h8v8h-8zM568 197h8v8h-8zM680 197h8v8h-8zM704 197h8v8h-8zM240 205h16v8h-16zM264 205h8v8h-8zM352 205h16v8h-16zM392 205h8v8h-8zM680 205h8v8h-8zM696 205h8v8h-8zM192 213h8v8h-8zM232 213h8v8h-8zM672 213h8v8h-8zM688 213h8v8h-8zM704 213h8v8h-8zM200 221h8v8h-8zM224 221h8v8h-8zM584 221h16v8h-16zM616 221h8v8h-8zM680 221h8v8h-8zM184 229h8v8h-8zM296 229h8v8h-8zM584 229h8v8h-8zM664 229h16v8h-16zM696 229h8v8h-8zM344 237h16v8h-16zM608 237h8v8h-8zM664 237h8v8h-8zM696 237h16v8h-16zM720 237h8v8h-8zM336 245h8v8h-8zM624 245h8v8h-8zM688 245h32v8h-32zM704 253h8v8h-8zM304 261h8v8h-8zM608 261h8v8h-8zM624 261h8v8h-8zM656 261h8v8h-8zM272 269h8v8h-8zM624 269h32v8h-32zM312 277h8v8h-8zM304 285h8v8h-8zM296 293h8v8h-8zM664 293h8v8h-8zM672 301h8v8h-8zM168 309h8v8h-8zM680 309h16v8h-16zM264 317h24v8h-24zM272 325h8v8h-8zM288 325h8v8h-8zM296 341h8v8h-8zM712 341h8v8h-8zM712 349h8v8h-8zM288 357h8v8h-8zM200 365h8v8h-8zM728 365h8v8h-8zM736 373h8v8h-8zM224 381h8v8h-8zM256 381h8v8h-8zM736 397h8v8h-8zM744 405h8v8h-8zM232 413h8v8h-8zM736 413h8v8h-8zM288 421h8v8h-8zM288 429h8v8h-8zM736 437h8v8h-8zM288 453h8v8h-8zM744 453h8v8h-8zM744 461h8v8h-8zM280 469h8v8h-8zM280 477h8v8h-8zM240 485h16v8h-16zM232 493h8v8h-8zM224 501h8v8h-8zM216 509h8v8h-8zM208 517h8v8h-8zM208 525h8v8h-8zM208 541h8v8h-8zM208 557h8v8h-8zM224 573h8v8h-8zM232 581h8v8h-8zM312 581h8v8h-8zM280 589h40v8h-40zM336 605h16v8h-16zM720 605h8v8h-8zM704 613h8v8h-8zM384 621h16v8h-16zM424 629h8v8h-8zM672 629h16v8h-16zM456 637h8v8h-8zM688 637h8v8h-8zM456 645h8v8h-8zM688 645h8v8h-8zM448 653h8v8h-8zM448 661h8v8h-8zM712 661h8v8h-8zM712 669h8v8h-8zM704 677h8v8h-8zM432 685h8v8h-8zM704 685h8v8h-8zM432 693h8v8h-8zM712 693h8v8h-8zM448 701h8v8h-8zM712 701h8v8h-8zM704 709h16v8h-16zM448 717h16v8h-16zM696 717h8v8h-8zM464 725h16v8h-16zM696 725h8v8h-8zM464 733h8v8h-8zM680 733h16v8h-16zM464 741h16v8h-16zM672 741h8v8h-8zM472 749h16v8h-16zM504 749h24v8h-24zM664 749h8v8h-8zM512 757h8v8h-8zM552 757h8v8h-8zM640 757h8v8h-8zM512 765h24v8h-24zM552 765h8v8h-8zM608 765h24v8h-24zM552 773h8v8h-8z"/>
<path fill="#5d5d5d" d="M632 109h8v8h-8zM576 117h8v8h-8zM616 117h8v8h-8zM592 125h16v8h-16zM624 125h16v8h-16zM568 133h16v8h-16zM720 133h8v8h-8zM560 141h8v8h-8zM672 141h8v8h-8zM696 141h8v8h-8zM680 149h8v8h-8zM696 149h8v8h-8zM552 157h8v8h-8zM680 157h24v8h-24zM712 157h8v8h-8zM680 165h8v8h-8zM696 165h8v8h-8zM344 173h8v8h-8zM472 173h8v8h-8zM512 173h8v8h-8zM544 173h8v8h-8zM696 173h16v8h-16zM400 181h8v8h-8zM480 181h8v8h-8zM576 181h8v8h-8zM672 181h16v8h-16zM264 189h16v8h-16zM312 189h8v8h-8zM432 189h8v8h-8zM552 189h16v8h-16zM688 189h16v8h-16zM384 197h8v8h-8zM416 197h8v8h-8zM552 197h8v8h-8zM632 197h8v8h-8zM688 197h8v8h-8zM200 205h16v8h-16zM400 205h8v8h-8zM600 205h8v8h-8zM624 205h8v8h-8zM704 205h8v8h-8zM200 213h8v8h-8zM256 213h8v8h-8zM328 213h8v8h-8zM360 213h8v8h-8zM384 213h8v8h-8zM568 213h8v8h-8zM592 213h8v8h-8zM192 221h8v8h-8zM208 221h8v8h-8zM312 221h8v8h-8zM376 221h8v8h-8zM240 229h8v8h-8zM360 229h8v8h-8zM616 229h8v8h-8zM184 237h8v8h-8zM232 237h8v8h-8zM648 237h8v8h-8zM688 237h8v8h-8zM600 245h24v8h-24zM648 245h8v8h-8zM672 245h8v8h-8zM336 253h8v8h-8zM600 253h16v8h-16zM648 253h8v8h-8zM664 253h8v8h-8zM328 261h8v8h-8zM640 261h16v8h-16zM328 269h8v8h-8zM616 269h8v8h-8zM184 277h8v8h-8zM296 277h8v8h-8zM328 277h8v8h-8zM632 277h8v8h-8zM176 285h8v8h-8zM320 293h8v8h-8zM656 293h8v8h-8zM168 301h16v8h-16zM288 309h8v8h-8zM256 325h8v8h-8zM192 333h8v8h-8zM296 333h8v8h-8zM712 333h8v8h-8zM720 341h8v8h-8zM720 357h8v8h-8zM288 373h8v8h-8zM232 389h8v8h-8zM288 389h8v8h-8zM240 405h8v8h-8zM232 421h8v8h-8zM736 429h8v8h-8zM248 437h8v8h-8zM744 445h8v8h-8zM256 469h8v8h-8zM744 469h8v8h-8zM256 485h8v8h-8zM240 493h24v8h-24zM232 501h8v8h-8zM744 509h8v8h-8zM744 517h8v8h-8zM208 533h8v8h-8zM736 549h8v8h-8zM216 565h8v8h-8zM728 573h8v8h-8zM288 581h24v8h-24zM320 597h8v8h-8zM720 597h8v8h-8zM688 613h8v8h-8zM648 621h24v8h-24zM664 629h8v8h-8zM464 637h8v8h-8zM672 637h16v8h-16zM464 645h8v8h-8zM680 645h8v8h-8zM456 653h8v8h-8zM688 653h8v8h-8zM456 661h8v8h-8zM688 661h24v8h-24zM448 669h8v8h-8zM696 669h16v8h-16zM440 677h8v8h-8zM696 677h8v8h-8zM440 685h8v8h-8zM696 685h8v8h-8zM440 693h8v8h-8zM704 693h8v8h-8zM704 701h8v8h-8zM448 709h8v8h-8zM696 709h8v8h-8zM464 717h24v8h-24zM680 717h16v8h-16zM480 725h16v8h-16zM664 725h32v8h-32zM472 733h16v8h-16zM672 733h8v8h-8zM664 741h8v8h-8zM488 749h16v8h-16zM648 749h16v8h-16zM520 757h8v8h-8zM544 757h8v8h-8zM560 757h16v8h-16zM624 757h16v8h-16zM560 765h32v8h-32z"/>
<path fill="#616161" d="M624 117h8v8h-8zM648 117h8v8h-8zM664 117h8v8h-8zM608 125h8v8h-8zM592 133h16v8h-16zM616 133h8v8h-8zM664 133h8v8h-8zM568 141h8v8h-8zM664 141h8v8h-8zM712 141h8v8h-8zM560 149h8v8h-8zM672 149h8v8h-8zM704 149h16v8h-16zM584 157h8v8h-8zM704 165h8v8h-8zM312 173h8v8h-8zM400 173h8v8h-8zM272 181h8v8h-8zM336 181h8v8h-8zM352 181h8v8h-8zM488 181h8v8h-8zM552 181h8v8h-8zM696 181h8v8h-8zM440 189h8v8h-8zM456 189h8v8h-8zM472 189h8v8h-8zM520 189h8v8h-8zM544 189h8v8h-8zM576 189h8v8h-8zM672 189h16v8h-16zM424 197h8v8h-8zM576 197h8v8h-8zM608 197h8v8h-8zM272 205h8v8h-8zM632 205h8v8h-8zM248 213h8v8h-8zM272 213h8v8h-8zM584 213h8v8h-8zM600 213h8v8h-8zM616 213h8v8h-8zM696 213h8v8h-8zM248 221h16v8h-16zM352 221h8v8h-8zM696 221h8v8h-8zM248 229h8v8h-8zM344 229h8v8h-8zM592 229h8v8h-8zM240 237h8v8h-8zM360 237h8v8h-8zM624 237h16v8h-16zM656 237h8v8h-8zM672 237h16v8h-16zM632 245h8v8h-8zM656 245h16v8h-16zM632 253h16v8h-16zM656 253h8v8h-8zM632 261h8v8h-8zM320 269h8v8h-8zM624 277h8v8h-8zM184 285h16v8h-16zM320 285h8v8h-8zM648 293h8v8h-8zM248 301h8v8h-8zM288 301h8v8h-8zM312 309h8v8h-8zM688 317h8v8h-8zM704 325h8v8h-8zM720 349h8v8h-8zM288 365h8v8h-8zM288 397h8v8h-8zM288 413h8v8h-8zM736 421h8v8h-8zM744 477h8v8h-8zM272 485h16v8h-16zM744 485h8v8h-8zM240 501h8v8h-8zM224 509h8v8h-8zM216 517h8v8h-8zM216 541h8v8h-8zM216 549h8v8h-8zM736 557h8v8h-8zM304 573h8v8h-8zM240 581h8v8h-8zM368 613h16v8h-16zM648 613h16v8h-16zM640 621h8v8h-8zM432 629h16v8h-16zM576 629h8v8h-8zM656 629h8v8h-8zM656 637h16v8h-16zM472 645h8v8h-8zM648 645h32v8h-32zM464 653h8v8h-8zM640 653h8v8h-8zM664 653h8v8h-8zM680 653h8v8h-8zM464 661h8v8h-8zM456 669h8v8h-8zM688 669h8v8h-8zM448 677h8v8h-8zM672 677h24v8h-24zM688 685h8v8h-8zM448 693h8v8h-8zM456 701h8v8h-8zM688 709h8v8h-8zM488 717h8v8h-8zM496 725h8v8h-8zM488 733h8v8h-8zM664 733h8v8h-8zM480 741h8v8h-8zM656 741h8v8h-8zM528 749h8v8h-8zM568 749h16v8h-16zM632 749h16v8h-16zM528 757h16v8h-16zM576 757h8v8h-8zM616 757h8v8h-8zM592 765h16v8h-16z"/>
<path fill="#656565" d="M640 125h32v8h-32zM584 133h8v8h-8zM632 133h8v8h-8zM648 133h8v8h-8zM576 141h8v8h-8zM592 141h8v8h-8zM624 141h8v8h-8zM568 149h8v8h-8zM584 149h8v8h-8zM568 157h8v8h-8zM608 157h8v8h-8zM704 157h8v8h-8zM560 165h8v8h-8zM584 165h8v8h-8zM608 165h8v8h-8zM552 173h16v8h-16zM584 173h8v8h-8zM504 181h16v8h-16zM544 181h8v8h-8zM320 189h8v8h-8zM352 189h8v8h-8zM392 189h8v8h-8zM464 189h8v8h-8zM504 189h8v8h-8zM608 189h8v8h-8zM264 197h8v8h-8zM312 197h8v8h-8zM536 197h8v8h-8zM600 197h8v8h-8zM256 205h8v8h-8zM408 205h8v8h-8zM552 205h8v8h-8zM592 205h8v8h-8zM672 205h8v8h-8zM264 213h8v8h-8zM288 213h8v8h-8zM352 213h8v8h-8zM392 213h8v8h-8zM560 213h8v8h-8zM272 221h8v8h-8zM576 221h8v8h-8zM624 221h8v8h-8zM664 221h8v8h-8zM192 229h8v8h-8zM608 229h8v8h-8zM632 229h8v8h-8zM648 229h16v8h-16zM680 229h16v8h-16zM248 237h8v8h-8zM616 237h8v8h-8zM640 245h8v8h-8zM240 261h8v8h-8zM336 261h8v8h-8zM192 277h8v8h-8zM272 277h8v8h-8zM320 277h8v8h-8zM328 285h8v8h-8zM632 285h8v8h-8zM176 293h8v8h-8zM312 293h8v8h-8zM640 293h8v8h-8zM312 301h8v8h-8zM664 301h8v8h-8zM288 317h8v8h-8zM296 325h8v8h-8zM696 325h8v8h-8zM256 333h8v8h-8zM704 333h8v8h-8zM192 341h8v8h-8zM704 341h8v8h-8zM256 357h8v8h-8zM712 357h8v8h-8zM216 373h8v8h-8zM240 389h8v8h-8zM296 445h8v8h-8zM736 461h8v8h-8zM248 501h8v8h-8zM744 501h8v8h-8zM744 541h8v8h-8zM216 557h8v8h-8zM224 565h8v8h-8zM304 565h8v8h-8zM736 565h8v8h-8zM232 573h8v8h-8zM296 573h8v8h-8zM248 581h24v8h-24zM280 581h8v8h-8zM328 597h8v8h-8zM352 605h8v8h-8zM664 605h8v8h-8zM680 605h8v8h-8zM360 613h8v8h-8zM640 613h8v8h-8zM416 621h8v8h-8zM608 621h8v8h-8zM632 621h8v8h-8zM448 629h8v8h-8zM568 629h8v8h-8zM648 629h8v8h-8zM472 637h8v8h-8zM648 637h8v8h-8zM480 645h8v8h-8zM496 645h16v8h-16zM640 645h8v8h-8zM472 653h40v8h-40zM648 653h16v8h-16zM672 653h8v8h-8zM472 661h16v8h-16zM680 661h8v8h-8zM680 669h8v8h-8zM448 685h8v8h-8zM664 685h24v8h-24zM456 693h16v8h-16zM656 693h8v8h-8zM696 693h8v8h-8zM696 701h8v8h-8zM456 709h24v8h-24zM672 717h8v8h-8zM504 725h8v8h-8zM656 725h8v8h-8zM648 733h16v8h-16zM488 741h8v8h-8zM520 741h16v8h-16zM640 741h16v8h-16zM552 749h16v8h-16zM584 749h32v8h-32zM584 757h16v8h-16z"/>
<path fill="#696969" d="M616 125h8v8h-8zM584 141h8v8h-8zM576 149h8v8h-8zM592 149h8v8h-8zM608 149h8v8h-8zM664 149h8v8h-8zM560 157h8v8h-8zM576 157h8v8h-8zM552 165h8v8h-8zM568 173h8v8h-8zM560 181h8v8h-8zM584 181h8v8h-8zM600 181h8v8h-8zM448 189h8v8h-8zM600 189h8v8h-8zM616 189h8v8h-8zM632 189h8v8h-8zM432 197h8v8h-8zM544 197h8v8h-8zM672 197h8v8h-8zM304 205h8v8h-8zM576 205h8v8h-8zM264 221h8v8h-8zM600 221h8v8h-8zM632 221h8v8h-8zM656 221h8v8h-8zM688 221h8v8h-8zM256 229h8v8h-8zM624 229h8v8h-8zM640 237h8v8h-8zM344 245h8v8h-8zM240 269h8v8h-8zM296 301h8v8h-8zM304 309h8v8h-8zM672 309h8v8h-8zM304 317h8v8h-8zM248 325h8v8h-8zM256 349h8v8h-8zM720 365h8v8h-8zM728 373h8v8h-8zM288 381h8v8h-8zM728 389h8v8h-8zM728 397h8v8h-8zM288 405h8v8h-8zM728 405h8v8h-8zM736 469h8v8h-8zM280 493h8v8h-8zM744 493h8v8h-8zM216 525h8v8h-8zM736 525h8v8h-8zM216 533h8v8h-8zM224 541h8v8h-8zM736 541h8v8h-8zM296 557h8v8h-8zM296 565h8v8h-8zM240 573h8v8h-8zM288 573h8v8h-8zM272 581h8v8h-8zM672 605h8v8h-8zM696 605h8v8h-8zM664 613h8v8h-8zM408 621h8v8h-8zM424 621h8v8h-8zM576 621h16v8h-16zM616 621h16v8h-16zM456 629h8v8h-8zM608 629h8v8h-8zM640 629h8v8h-8zM552 637h24v8h-24zM640 637h8v8h-8zM488 645h8v8h-8zM512 645h8v8h-8zM632 645h8v8h-8zM512 653h8v8h-8zM632 653h8v8h-8zM488 661h16v8h-16zM632 661h32v8h-32zM464 669h8v8h-8zM456 677h8v8h-8zM664 677h8v8h-8zM456 685h8v8h-8zM664 693h16v8h-16zM480 709h16v8h-16zM496 717h24v8h-24zM512 725h8v8h-8zM496 733h8v8h-8zM608 733h8v8h-8zM640 733h8v8h-8zM496 741h8v8h-8zM512 741h8v8h-8zM536 741h8v8h-8zM584 741h32v8h-32zM624 741h16v8h-16zM536 749h16v8h-16zM616 749h16v8h-16zM600 757h16v8h-16z"/>
<path fill="#6d6d6d" d="M608 133h8v8h-8zM600 141h16v8h-16zM656 149h8v8h-8zM592 157h8v8h-8zM616 157h8v8h-8zM664 157h16v8h-16zM568 165h8v8h-8zM592 165h8v8h-8zM672 173h8v8h-8zM496 189h8v8h-8zM512 189h8v8h-8zM640 189h8v8h-8zM664 189h8v8h-8zM528 197h8v8h-8zM592 197h8v8h-8zM624 197h8v8h-8zM664 197h8v8h-8zM368 205h8v8h-8zM608 205h16v8h-16zM656 205h8v8h-8zM400 213h8v8h-8zM576 213h8v8h-8zM632 213h8v8h-8zM384 221h8v8h-8zM608 221h8v8h-8zM648 221h8v8h-8zM368 229h8v8h-8zM576 229h8v8h-8zM368 237h8v8h-8zM584 237h24v8h-24zM616 277h8v8h-8zM312 285h8v8h-8zM256 301h8v8h-8zM320 301h8v8h-8zM248 309h8v8h-8zM248 317h8v8h-8zM296 317h8v8h-8zM296 349h8v8h-8zM704 349h8v8h-8zM256 373h8v8h-8zM728 381h8v8h-8zM296 421h8v8h-8zM728 421h8v8h-8zM296 437h8v8h-8zM288 461h8v8h-8zM256 477h8v8h-8zM736 477h8v8h-8zM736 485h8v8h-8zM256 501h8v8h-8zM736 501h8v8h-8zM224 517h8v8h-8zM736 533h8v8h-8zM728 549h8v8h-8zM304 557h8v8h-8zM232 565h8v8h-8zM248 573h8v8h-8zM312 573h8v8h-8zM320 581h8v8h-8zM320 589h8v8h-8zM720 589h8v8h-8zM344 597h8v8h-8zM360 605h8v8h-8zM656 605h8v8h-8zM712 605h8v8h-8zM632 613h8v8h-8zM400 621h8v8h-8zM568 621h8v8h-8zM560 629h8v8h-8zM616 629h24v8h-24zM496 637h16v8h-16zM520 637h8v8h-8zM576 637h8v8h-8zM520 645h8v8h-8zM536 645h24v8h-24zM520 653h8v8h-8zM624 661h8v8h-8zM664 661h16v8h-16zM472 669h16v8h-16zM672 669h8v8h-8zM464 677h8v8h-8zM464 685h16v8h-16zM656 685h8v8h-8zM472 693h8v8h-8zM648 693h8v8h-8zM680 693h16v8h-16zM464 701h8v8h-8zM688 701h8v8h-8zM496 709h8v8h-8zM680 709h8v8h-8zM520 717h8v8h-8zM656 717h16v8h-16zM600 733h8v8h-8zM616 733h8v8h-8zM504 741h8v8h-8zM576 741h8v8h-8zM616 741h8v8h-8z"/>
<path fill="#717171" d="M640 133h8v8h-8zM656 133h8v8h-8zM648 141h8v8h-8zM424 149h8v8h-8zM600 149h8v8h-8zM424 157h8v8h-8zM600 157h8v8h-8zM656 157h8v8h-8zM416 165h8v8h-8zM192 173h8v8h-8zM216 173h8v8h-8zM600 173h8v8h-8zM344 181h8v8h-8zM624 181h8v8h-8zM480 189h16v8h-16zM584 189h8v8h-8zM520 197h8v8h-8zM616 197h8v8h-8zM640 197h8v8h-8zM416 205h8v8h-8zM584 205h8v8h-8zM608 213h8v8h-8zM640 213h8v8h-8zM656 213h16v8h-16zM640 221h8v8h-8zM224 229h8v8h-8zM376 229h8v8h-8zM600 229h8v8h-8zM640 229h8v8h-8zM280 237h8v8h-8zM592 245h8v8h-8zM256 253h8v8h-8zM600 261h8v8h-8zM608 269h8v8h-8zM624 285h8v8h-8zM304 293h8v8h-8zM192 301h8v8h-8zM680 317h8v8h-8zM696 333h8v8h-8zM200 357h8v8h-8zM720 373h8v8h-8zM720 381h8v8h-8zM296 389h8v8h-8zM728 413h8v8h-8zM248 429h8v8h-8zM256 453h8v8h-8zM736 453h8v8h-8zM264 469h8v8h-8zM264 493h8v8h-8zM736 509h8v8h-8zM224 533h8v8h-8zM224 549h8v8h-8zM296 549h8v8h-8zM224 557h8v8h-8zM288 557h8v8h-8zM728 557h8v8h-8zM288 565h8v8h-8zM728 565h8v8h-8zM256 573h16v8h-16zM336 597h8v8h-8zM712 597h8v8h-8zM368 605h8v8h-8zM648 605h8v8h-8zM688 605h8v8h-8zM704 605h8v8h-8zM584 613h8v8h-8zM608 613h8v8h-8zM480 637h16v8h-16zM512 637h8v8h-8zM528 637h8v8h-8zM544 637h8v8h-8zM632 637h8v8h-8zM528 645h8v8h-8zM560 645h8v8h-8zM624 645h8v8h-8zM624 653h8v8h-8zM504 661h8v8h-8zM472 677h8v8h-8zM480 685h8v8h-8zM640 701h16v8h-16zM680 701h8v8h-8zM664 709h16v8h-16zM648 717h8v8h-8zM616 725h40v8h-40zM504 733h8v8h-8zM624 733h16v8h-16zM544 741h8v8h-8z"/>
<path fill="#757575" d="M632 141h16v8h-16zM656 141h8v8h-8zM640 149h8v8h-8zM672 165h8v8h-8zM592 173h8v8h-8zM608 173h8v8h-8zM624 173h8v8h-8zM608 181h16v8h-16zM640 181h8v8h-8zM384 189h8v8h-8zM592 189h8v8h-8zM200 197h8v8h-8zM440 197h8v8h-8zM584 197h8v8h-8zM656 197h8v8h-8zM336 205h8v8h-8zM640 205h8v8h-8zM664 205h8v8h-8zM552 213h8v8h-8zM648 213h8v8h-8zM568 221h8v8h-8zM384 229h8v8h-8zM352 245h8v8h-8zM592 253h8v8h-8zM264 277h8v8h-8zM256 293h8v8h-8zM328 293h8v8h-8zM632 293h8v8h-8zM304 301h8v8h-8zM272 309h8v8h-8zM304 325h8v8h-8zM304 333h8v8h-8zM296 381h8v8h-8zM296 429h8v8h-8zM736 445h8v8h-8zM288 469h8v8h-8zM272 493h8v8h-8zM736 493h8v8h-8zM280 501h8v8h-8zM232 509h8v8h-8zM736 517h8v8h-8zM224 525h8v8h-8zM280 525h16v8h-16zM720 557h8v8h-8zM240 565h8v8h-8zM720 565h8v8h-8zM280 573h8v8h-8zM720 573h8v8h-8zM384 613h8v8h-8zM576 613h8v8h-8zM592 613h8v8h-8zM600 621h8v8h-8zM552 629h8v8h-8zM536 637h8v8h-8zM624 637h8v8h-8zM568 645h8v8h-8zM616 645h8v8h-8zM528 653h8v8h-8zM592 653h16v8h-16zM616 653h8v8h-8zM512 661h8v8h-8zM488 669h8v8h-8zM632 669h40v8h-40zM480 677h8v8h-8zM656 677h8v8h-8zM648 685h8v8h-8zM640 693h8v8h-8zM472 701h16v8h-16zM496 701h8v8h-8zM656 701h24v8h-24zM504 709h8v8h-8zM656 709h8v8h-8zM528 717h8v8h-8zM520 725h8v8h-8zM560 725h16v8h-16zM512 733h8v8h-8zM528 733h32v8h-32zM552 741h8v8h-8zM568 741h8v8h-8z"/>
<path fill="#797979" d="M624 149h16v8h-16zM648 149h8v8h-8zM416 157h8v8h-8zM632 157h8v8h-8zM648 157h8v8h-8zM408 165h8v8h-8zM600 165h8v8h-8zM624 165h16v8h-16zM664 165h8v8h-8zM624 189h8v8h-8zM648 189h8v8h-8zM448 197h8v8h-8zM472 197h8v8h-8zM424 205h8v8h-8zM544 205h8v8h-8zM568 229h8v8h-8zM232 245h8v8h-8zM360 245h8v8h-8zM192 293h8v8h-8zM328 301h8v8h-8zM656 301h8v8h-8zM296 309h8v8h-8zM664 309h8v8h-8zM264 477h8v8h-8zM728 477h8v8h-8zM728 493h8v8h-8zM264 501h8v8h-8zM288 501h8v8h-8zM728 501h8v8h-8zM288 517h8v8h-8zM232 533h8v8h-8zM232 541h8v8h-8zM728 541h8v8h-8zM232 557h8v8h-8zM280 565h8v8h-8zM272 573h8v8h-8zM640 605h8v8h-8zM392 613h8v8h-8zM560 621h8v8h-8zM464 629h8v8h-8zM616 637h8v8h-8zM576 645h8v8h-8zM608 645h8v8h-8zM536 653h16v8h-16zM608 653h8v8h-8zM616 661h8v8h-8zM496 669h8v8h-8zM624 669h8v8h-8zM488 677h16v8h-16zM488 685h8v8h-8zM480 693h8v8h-8zM632 693h8v8h-8zM488 701h8v8h-8zM632 701h8v8h-8zM512 709h16v8h-16zM576 717h16v8h-16zM640 717h8v8h-8zM608 725h8v8h-8zM520 733h8v8h-8zM560 733h8v8h-8zM592 733h8v8h-8zM560 741h8v8h-8z"/>
<path fill="#7d7d7d" d="M624 157h8v8h-8zM640 157h8v8h-8zM616 165h8v8h-8zM648 165h16v8h-16zM616 173h8v8h-8zM632 173h8v8h-8zM392 181h8v8h-8zM592 181h8v8h-8zM224 189h8v8h-8zM208 197h8v8h-8zM344 197h8v8h-8zM512 197h8v8h-8zM648 205h8v8h-8zM408 213h8v8h-8zM344 221h8v8h-8zM392 221h8v8h-8zM560 221h8v8h-8zM272 245h8v8h-8zM344 261h8v8h-8zM272 285h8v8h-8zM304 341h8v8h-8zM256 365h8v8h-8zM296 365h8v8h-8zM712 365h8v8h-8zM296 373h8v8h-8zM712 381h8v8h-8zM720 389h8v8h-8zM256 437h8v8h-8zM296 453h8v8h-8zM272 501h8v8h-8zM728 509h8v8h-8zM232 517h8v8h-8zM272 525h8v8h-8zM232 549h8v8h-8zM720 549h8v8h-8zM248 565h8v8h-8zM264 565h16v8h-16zM720 581h8v8h-8zM408 613h8v8h-8zM568 613h8v8h-8zM600 613h8v8h-8zM616 613h16v8h-16zM536 629h8v8h-8zM552 653h8v8h-8zM576 653h16v8h-16zM520 661h8v8h-8zM536 661h8v8h-8zM584 661h16v8h-16zM504 669h8v8h-8zM616 669h8v8h-8zM504 677h8v8h-8zM648 677h8v8h-8zM640 685h8v8h-8zM624 693h8v8h-8zM504 701h8v8h-8zM616 701h16v8h-16zM528 709h8v8h-8zM624 709h16v8h-16zM648 709h8v8h-8zM536 717h8v8h-8zM568 717h8v8h-8zM624 717h16v8h-16zM528 725h8v8h-8zM552 725h8v8h-8zM576 725h8v8h-8z"/>
<path fill="#828282" d="M648 173h16v8h-16zM632 181h8v8h-8zM648 181h8v8h-8zM664 181h8v8h-8zM328 189h8v8h-8zM648 197h8v8h-8zM432 205h8v8h-8zM416 213h8v8h-8zM264 229h8v8h-8zM192 237h8v8h-8zM344 253h8v8h-8zM336 269h8v8h-8zM256 285h8v8h-8zM672 317h8v8h-8zM192 325h8v8h-8zM688 325h8v8h-8zM296 357h8v8h-8zM704 357h8v8h-8zM256 429h8v8h-8zM728 429h8v8h-8zM256 445h8v8h-8zM728 469h8v8h-8zM288 477h8v8h-8zM264 485h8v8h-8zM272 509h24v8h-24zM280 517h8v8h-8zM232 525h8v8h-8zM240 549h8v8h-8zM288 549h8v8h-8zM240 557h8v8h-8zM280 557h8v8h-8zM312 565h8v8h-8zM320 573h8v8h-8zM712 589h8v8h-8zM656 597h16v8h-16zM376 605h8v8h-8zM424 613h8v8h-8zM440 621h8v8h-8zM592 621h8v8h-8zM496 629h8v8h-8zM528 629h8v8h-8zM560 653h16v8h-16zM528 661h8v8h-8zM544 661h8v8h-8zM560 661h24v8h-24zM512 669h8v8h-8zM640 677h8v8h-8zM496 685h8v8h-8zM488 693h8v8h-8zM608 701h8v8h-8zM536 709h16v8h-16zM584 709h16v8h-16zM608 709h16v8h-16zM640 709h8v8h-8zM592 717h8v8h-8zM616 717h8v8h-8zM536 725h16v8h-16zM568 733h8v8h-8zM584 733h8v8h-8z"/>
<path fill="#868686" d="M640 165h8v8h-8zM200 173h8v8h-8zM640 173h8v8h-8zM664 173h8v8h-8zM656 181h8v8h-8zM200 189h8v8h-8zM456 197h8v8h-8zM376 237h8v8h-8zM192 245h8v8h-8zM320 309h8v8h-8zM656 309h8v8h-8zM312 317h8v8h-8zM256 341h8v8h-8zM304 349h8v8h-8zM296 397h8v8h-8zM728 445h8v8h-8zM288 493h8v8h-8zM248 509h24v8h-24zM272 517h8v8h-8zM728 517h8v8h-8zM728 525h8v8h-8zM272 533h16v8h-16zM728 533h8v8h-8zM240 541h8v8h-8zM296 541h8v8h-8zM720 541h8v8h-8zM248 557h8v8h-8zM272 557h8v8h-8zM256 565h8v8h-8zM328 589h8v8h-8zM704 589h8v8h-8zM680 597h8v8h-8zM704 597h8v8h-8zM400 613h8v8h-8zM416 613h8v8h-8zM488 629h8v8h-8zM544 629h8v8h-8zM608 637h8v8h-8zM584 645h8v8h-8zM552 661h8v8h-8zM600 661h16v8h-16zM520 669h24v8h-24zM576 669h8v8h-8zM624 677h16v8h-16zM632 685h8v8h-8zM496 693h16v8h-16zM616 693h8v8h-8zM600 701h8v8h-8zM600 709h8v8h-8zM544 717h8v8h-8zM600 717h16v8h-16zM584 725h8v8h-8zM600 725h8v8h-8zM576 733h8v8h-8z"/>
<path fill="#8a8a8a" d="M656 189h8v8h-8zM216 197h8v8h-8zM464 197h8v8h-8zM480 197h8v8h-8zM536 205h8v8h-8zM296 213h8v8h-8zM560 229h8v8h-8zM232 253h8v8h-8zM336 277h8v8h-8zM336 285h8v8h-8zM624 293h8v8h-8zM312 325h8v8h-8zM720 397h8v8h-8zM296 405h8v8h-8zM296 413h8v8h-8zM728 485h8v8h-8zM264 525h8v8h-8zM248 549h8v8h-8zM280 549h8v8h-8zM304 549h8v8h-8zM352 597h16v8h-16zM432 621h8v8h-8zM472 629h8v8h-8zM600 629h8v8h-8zM584 637h8v8h-8zM544 669h16v8h-16zM568 669h8v8h-8zM584 669h8v8h-8zM512 677h8v8h-8zM616 677h8v8h-8zM616 685h16v8h-16zM512 693h8v8h-8zM608 693h8v8h-8zM512 701h8v8h-8zM528 701h8v8h-8zM592 701h8v8h-8zM560 717h8v8h-8zM592 725h8v8h-8z"/>
<path fill="#8e8e8e" d="M488 197h16v8h-16zM304 221h8v8h-8zM392 229h8v8h-8zM384 237h8v8h-8zM368 245h8v8h-8zM584 245h8v8h-8zM192 253h8v8h-8zM352 253h16v8h-16zM192 309h8v8h-8zM680 325h8v8h-8zM200 349h8v8h-8zM304 357h8v8h-8zM232 381h8v8h-8zM248 381h8v8h-8zM728 437h8v8h-8zM720 493h8v8h-8zM264 517h8v8h-8zM240 525h8v8h-8zM240 533h8v8h-8zM288 533h8v8h-8zM288 541h8v8h-8zM392 541h40v8h-40zM536 541h24v8h-24zM272 549h8v8h-8zM536 549h24v8h-24zM488 557h8v8h-8zM536 557h24v8h-24zM472 565h16v8h-16zM504 565h8v8h-8zM712 565h8v8h-8zM368 573h48v8h-48zM712 581h8v8h-8zM368 597h8v8h-8zM632 605h8v8h-8zM448 621h16v8h-16zM552 621h8v8h-8zM520 629h8v8h-8zM584 629h8v8h-8zM560 669h8v8h-8zM608 669h8v8h-8zM504 685h8v8h-8zM520 701h8v8h-8zM536 701h8v8h-8zM552 709h8v8h-8zM576 709h8v8h-8zM552 717h8v8h-8z"/>
<path fill="#929292" d="M504 197h8v8h-8zM312 205h8v8h-8zM440 205h8v8h-8zM528 205h8v8h-8zM424 213h8v8h-8zM544 213h8v8h-8zM280 221h8v8h-8zM552 221h8v8h-8zM216 229h8v8h-8zM272 229h8v8h-8zM568 237h16v8h-16zM600 269h8v8h-8zM608 277h8v8h-8zM640 301h8v8h-8zM320 317h8v8h-8zM696 341h8v8h-8zM712 373h8v8h-8zM304 389h8v8h-8zM728 453h8v8h-8zM296 461h8v8h-8zM728 461h8v8h-8zM720 477h8v8h-8zM288 485h8v8h-8zM720 501h8v8h-8zM720 509h8v8h-8zM256 517h8v8h-8zM296 533h8v8h-8zM544 533h8v8h-8zM720 533h8v8h-8zM256 557h16v8h-16zM464 557h24v8h-24zM464 565h8v8h-8zM488 565h16v8h-16zM544 565h16v8h-16zM608 565h40v8h-40zM608 573h40v8h-40zM704 581h8v8h-8zM648 597h8v8h-8zM672 597h8v8h-8zM464 621h8v8h-8zM544 621h8v8h-8zM480 629h8v8h-8zM504 629h8v8h-8zM592 669h16v8h-16zM520 677h56v8h-56zM608 677h8v8h-8zM512 685h16v8h-16zM608 685h8v8h-8zM520 693h8v8h-8zM600 693h8v8h-8zM544 701h16v8h-16z"/>
<path fill="#969696" d="M208 173h8v8h-8zM200 181h8v8h-8zM448 205h8v8h-8zM472 205h8v8h-8zM520 205h8v8h-8zM400 221h8v8h-8zM544 221h8v8h-8zM200 229h8v8h-8zM552 229h8v8h-8zM256 237h8v8h-8zM224 245h8v8h-8zM240 245h8v8h-8zM576 245h8v8h-8zM352 261h8v8h-8zM592 261h8v8h-8zM344 269h8v8h-8zM272 301h8v8h-8zM632 301h8v8h-8zM648 301h8v8h-8zM264 309h8v8h-8zM192 317h8v8h-8zM664 317h8v8h-8zM312 333h8v8h-8zM688 341h8v8h-8zM208 357h8v8h-8zM304 365h8v8h-8zM720 405h8v8h-8zM720 413h8v8h-8zM720 485h8v8h-8zM240 509h8v8h-8zM296 509h8v8h-8zM264 533h8v8h-8zM536 533h8v8h-8zM272 541h16v8h-16zM528 541h8v8h-8zM560 541h8v8h-8zM560 549h8v8h-8zM456 557h8v8h-8zM496 557h8v8h-8zM616 557h8v8h-8zM712 557h8v8h-8zM648 573h8v8h-8zM712 573h8v8h-8zM688 597h16v8h-16zM600 605h8v8h-8zM432 613h8v8h-8zM592 645h16v8h-16zM576 677h32v8h-32zM528 685h80v8h-80zM528 693h72v8h-72zM560 701h32v8h-32zM560 709h16v8h-16z"/>
<path fill="#9a9a9a" d="M456 205h16v8h-16zM480 205h24v8h-24zM512 205h8v8h-8zM432 213h8v8h-8zM528 213h16v8h-16zM408 221h16v8h-16zM560 237h8v8h-8zM576 253h16v8h-16zM344 277h8v8h-8zM232 285h8v8h-8zM616 285h8v8h-8zM336 293h8v8h-8zM648 309h8v8h-8zM248 333h8v8h-8zM688 333h8v8h-8zM696 349h8v8h-8zM296 525h8v8h-8zM248 541h8v8h-8zM392 549h8v8h-8zM712 549h8v8h-8zM312 557h8v8h-8zM504 557h8v8h-8zM560 557h8v8h-8zM624 557h8v8h-8zM384 565h8v8h-8zM560 565h8v8h-8zM648 565h8v8h-8zM704 573h8v8h-8zM616 581h16v8h-16zM696 581h8v8h-8zM336 589h16v8h-16zM696 589h8v8h-8zM384 605h24v8h-24zM424 605h8v8h-8zM608 605h16v8h-16zM560 613h8v8h-8zM536 621h8v8h-8zM512 629h8v8h-8zM600 637h8v8h-8z"/>
<path fill="#9e9e9e" d="M208 181h8v8h-8zM208 189h8v8h-8zM504 205h8v8h-8zM320 213h8v8h-8zM440 213h24v8h-24zM472 213h8v8h-8zM488 213h40v8h-40zM424 221h8v8h-8zM520 221h24v8h-24zM288 229h8v8h-8zM400 229h24v8h-24zM536 229h16v8h-16zM392 237h32v8h-32zM264 245h8v8h-8zM376 245h24v8h-24zM568 245h8v8h-8zM248 253h8v8h-8zM368 253h8v8h-8zM192 261h8v8h-8zM360 261h8v8h-8zM584 261h8v8h-8zM352 269h8v8h-8zM592 269h8v8h-8zM352 277h8v8h-8zM264 285h8v8h-8zM344 285h8v8h-8zM608 285h8v8h-8zM240 293h8v8h-8zM264 293h8v8h-8zM264 301h8v8h-8zM336 301h8v8h-8zM328 309h8v8h-8zM680 341h8v8h-8zM720 421h8v8h-8zM720 469h8v8h-8zM712 485h8v8h-8zM248 517h8v8h-8zM720 517h8v8h-8zM248 525h8v8h-8zM720 525h8v8h-8zM528 533h8v8h-8zM264 541h8v8h-8zM712 541h8v8h-8zM264 549h8v8h-8zM424 549h16v8h-16zM704 549h8v8h-8zM632 557h8v8h-8zM704 557h8v8h-8zM320 565h8v8h-8zM392 565h8v8h-8zM456 565h8v8h-8zM696 565h16v8h-16zM696 573h8v8h-8zM328 581h8v8h-8zM632 581h8v8h-8zM688 581h8v8h-8zM352 589h8v8h-8zM680 589h16v8h-16zM408 605h16v8h-16zM432 605h8v8h-8zM584 605h8v8h-8zM440 613h8v8h-8zM456 613h8v8h-8zM472 621h8v8h-8zM488 621h8v8h-8zM512 621h16v8h-16z"/>
<path fill="#a2a2a2" d="M216 181h8v8h-8zM216 189h8v8h-8zM336 189h16v8h-16zM464 213h8v8h-8zM480 213h8v8h-8zM432 221h48v8h-48zM488 221h32v8h-32zM424 229h16v8h-16zM520 229h16v8h-16zM424 237h16v8h-16zM536 237h24v8h-24zM400 245h16v8h-16zM536 245h32v8h-32zM240 253h8v8h-8zM376 253h24v8h-24zM552 253h24v8h-24zM368 261h16v8h-16zM568 261h16v8h-16zM192 269h8v8h-8zM360 269h8v8h-8zM576 269h16v8h-16zM592 277h16v8h-16zM352 285h8v8h-8zM600 285h8v8h-8zM624 301h8v8h-8zM304 373h8v8h-8zM304 381h8v8h-8zM712 389h8v8h-8zM304 397h8v8h-8zM304 413h8v8h-8zM304 429h8v8h-8zM720 453h8v8h-8zM720 461h8v8h-8zM296 501h8v8h-8zM712 501h8v8h-8zM712 509h8v8h-8zM240 517h8v8h-8zM712 517h8v8h-8zM256 525h8v8h-8zM712 525h8v8h-8zM712 533h8v8h-8zM256 549h8v8h-8zM384 549h8v8h-8zM440 549h8v8h-8zM528 549h8v8h-8zM600 557h8v8h-8zM696 557h8v8h-8zM400 565h8v8h-8zM600 565h8v8h-8zM328 573h8v8h-8zM504 573h8v8h-8zM608 581h8v8h-8zM680 581h8v8h-8zM376 597h8v8h-8zM624 605h8v8h-8zM448 613h8v8h-8zM472 613h8v8h-8zM480 621h8v8h-8zM496 621h16v8h-16zM528 621h8v8h-8zM592 629h8v8h-8zM592 637h8v8h-8z"/>
<path fill="#a6a6a6" d="M304 213h8v8h-8zM480 221h8v8h-8zM208 229h8v8h-8zM440 229h80v8h-80zM440 237h24v8h-24zM512 237h24v8h-24zM416 245h32v8h-32zM520 245h16v8h-16zM400 253h24v8h-24zM544 253h8v8h-8zM384 261h16v8h-16zM552 261h16v8h-16zM368 269h8v8h-8zM568 269h8v8h-8zM360 277h8v8h-8zM576 277h16v8h-16zM360 285h8v8h-8zM584 285h16v8h-16zM272 293h8v8h-8zM344 293h8v8h-8zM608 293h16v8h-16zM336 309h8v8h-8zM656 317h8v8h-8zM320 325h8v8h-8zM672 325h8v8h-8zM312 341h8v8h-8zM696 357h8v8h-8zM704 365h8v8h-8zM224 373h8v8h-8zM704 381h8v8h-8zM304 405h8v8h-8zM304 421h8v8h-8zM720 429h8v8h-8zM304 437h8v8h-8zM720 445h8v8h-8zM712 477h8v8h-8zM712 493h8v8h-8zM704 509h8v8h-8zM296 517h8v8h-8zM704 517h8v8h-8zM704 525h8v8h-8zM248 533h16v8h-16zM552 533h8v8h-8zM256 541h8v8h-8zM384 541h8v8h-8zM704 541h8v8h-8zM312 549h8v8h-8zM696 549h8v8h-8zM528 557h8v8h-8zM640 557h8v8h-8zM376 565h8v8h-8zM408 565h8v8h-8zM512 565h8v8h-8zM688 565h8v8h-8zM360 573h8v8h-8zM416 573h8v8h-8zM688 573h8v8h-8zM640 581h8v8h-8zM360 589h8v8h-8zM672 589h8v8h-8zM384 597h48v8h-48zM640 597h8v8h-8zM568 605h16v8h-16zM592 605h8v8h-8zM464 613h8v8h-8zM480 613h16v8h-16zM504 613h24v8h-24z"/>
<path fill="#aaaaaa" d="M320 197h8v8h-8zM328 205h8v8h-8zM312 213h8v8h-8zM296 221h8v8h-8zM280 229h8v8h-8zM224 237h8v8h-8zM264 237h16v8h-16zM464 237h48v8h-48zM248 245h16v8h-16zM448 245h24v8h-24zM512 245h8v8h-8zM224 253h8v8h-8zM424 253h24v8h-24zM520 253h24v8h-24zM400 261h24v8h-24zM544 261h8v8h-8zM376 269h16v8h-16zM400 269h16v8h-16zM552 269h16v8h-16zM368 277h16v8h-16zM568 277h8v8h-8zM352 293h8v8h-8zM600 293h8v8h-8zM344 301h8v8h-8zM640 309h8v8h-8zM328 317h8v8h-8zM648 317h8v8h-8zM680 333h8v8h-8zM232 341h16v8h-16zM312 349h8v8h-8zM216 357h8v8h-8zM312 357h8v8h-8zM232 373h16v8h-16zM312 373h8v8h-8zM712 397h8v8h-8zM720 437h8v8h-8zM304 445h8v8h-8zM712 453h8v8h-8zM296 469h8v8h-8zM304 533h8v8h-8zM704 533h8v8h-8zM304 541h8v8h-8zM432 541h8v8h-8zM696 541h8v8h-8zM400 549h8v8h-8zM512 557h8v8h-8zM608 557h8v8h-8zM368 565h8v8h-8zM336 581h8v8h-8zM352 581h24v8h-24zM384 581h16v8h-16zM672 581h8v8h-8zM368 589h16v8h-16zM416 589h8v8h-8zM440 605h8v8h-8zM560 605h8v8h-8zM496 613h8v8h-8zM528 613h32v8h-32z"/>
<path fill="#aeaeae" d="M336 197h8v8h-8zM320 205h8v8h-8zM288 221h8v8h-8zM200 237h8v8h-8zM216 237h8v8h-8zM472 245h40v8h-40zM200 253h8v8h-8zM448 253h24v8h-24zM512 253h8v8h-8zM216 261h8v8h-8zM232 261h8v8h-8zM424 261h24v8h-24zM528 261h16v8h-16zM216 269h16v8h-16zM392 269h8v8h-8zM416 269h8v8h-8zM536 269h16v8h-16zM200 277h8v8h-8zM224 277h16v8h-16zM384 277h24v8h-24zM200 285h8v8h-8zM368 285h8v8h-8zM576 285h8v8h-8zM208 293h8v8h-8zM232 293h8v8h-8zM360 293h8v8h-8zM592 293h8v8h-8zM632 309h8v8h-8zM216 325h16v8h-16zM208 333h8v8h-8zM208 349h32v8h-32zM688 349h8v8h-8zM224 357h8v8h-8zM216 365h8v8h-8zM240 365h8v8h-8zM312 365h8v8h-8zM696 365h8v8h-8zM704 373h8v8h-8zM240 381h8v8h-8zM312 381h8v8h-8zM312 389h8v8h-8zM704 389h8v8h-8zM312 397h8v8h-8zM712 405h8v8h-8zM312 413h8v8h-8zM712 421h8v8h-8zM712 445h8v8h-8zM712 461h8v8h-8zM712 469h8v8h-8zM296 477h8v8h-8zM296 485h8v8h-8zM704 485h8v8h-8zM296 493h8v8h-8zM704 493h8v8h-8zM704 501h8v8h-8zM304 517h8v8h-8zM304 525h8v8h-8zM696 525h8v8h-8zM696 533h8v8h-8zM312 541h8v8h-8zM320 549h8v8h-8zM488 549h8v8h-8zM320 557h16v8h-16zM688 557h8v8h-8zM328 565h8v8h-8zM536 565h8v8h-8zM336 573h8v8h-8zM496 573h8v8h-8zM512 573h8v8h-8zM560 573h8v8h-8zM600 573h8v8h-8zM680 573h8v8h-8zM344 581h8v8h-8zM376 581h8v8h-8zM400 581h16v8h-16zM384 589h32v8h-32zM424 589h8v8h-8zM648 589h24v8h-24zM432 597h8v8h-8zM576 597h64v8h-64zM496 605h64v8h-64z"/>
<path fill="#b2b2b2" d="M328 197h8v8h-8zM208 237h8v8h-8zM200 245h8v8h-8zM216 245h8v8h-8zM472 253h40v8h-40zM224 261h8v8h-8zM448 261h8v8h-8zM424 269h8v8h-8zM408 277h8v8h-8zM552 277h16v8h-16zM216 285h16v8h-16zM216 293h16v8h-16zM232 301h16v8h-16zM352 301h8v8h-8zM616 301h8v8h-8zM344 309h8v8h-8zM240 317h8v8h-8zM336 317h8v8h-8zM640 317h8v8h-8zM208 325h8v8h-8zM232 325h16v8h-16zM328 325h8v8h-8zM664 325h8v8h-8zM200 333h8v8h-8zM216 333h8v8h-8zM232 333h16v8h-16zM320 333h8v8h-8zM672 333h8v8h-8zM224 341h8v8h-8zM672 341h8v8h-8zM240 349h16v8h-16zM680 349h8v8h-8zM232 357h8v8h-8zM248 357h8v8h-8zM232 365h8v8h-8zM248 365h8v8h-8zM688 365h8v8h-8zM248 373h8v8h-8zM696 373h8v8h-8zM704 397h8v8h-8zM312 405h8v8h-8zM712 413h8v8h-8zM312 421h8v8h-8zM704 421h8v8h-8zM712 429h8v8h-8zM712 437h8v8h-8zM312 445h8v8h-8zM304 453h8v8h-8zM704 453h8v8h-8zM304 461h8v8h-8zM704 469h8v8h-8zM304 477h8v8h-8zM704 477h8v8h-8zM304 493h8v8h-8zM304 501h8v8h-8zM304 509h8v8h-8zM312 517h8v8h-8zM696 517h8v8h-8zM312 525h8v8h-8zM312 533h16v8h-16zM320 541h16v8h-16zM440 541h8v8h-8zM328 549h16v8h-16zM416 549h8v8h-8zM480 549h8v8h-8zM336 557h8v8h-8zM336 565h32v8h-32zM416 565h8v8h-8zM344 573h16v8h-16zM456 573h32v8h-32zM552 573h8v8h-8zM656 573h8v8h-8zM672 573h8v8h-8zM416 581h32v8h-32zM600 581h8v8h-8zM648 581h8v8h-8zM528 589h16v8h-16zM552 589h96v8h-96zM512 597h64v8h-64zM448 605h16v8h-16z"/>
<path fill="#b6b6b6" d="M208 245h8v8h-8zM216 253h8v8h-8zM200 261h16v8h-16zM456 261h32v8h-32zM512 261h16v8h-16zM208 269h8v8h-8zM232 269h8v8h-8zM432 269h8v8h-8zM528 269h8v8h-8zM216 277h8v8h-8zM416 277h16v8h-16zM544 277h8v8h-8zM208 285h8v8h-8zM376 285h16v8h-16zM200 293h8v8h-8zM368 293h8v8h-8zM584 293h8v8h-8zM208 301h16v8h-16zM360 301h8v8h-8zM608 301h8v8h-8zM200 309h8v8h-8zM232 309h16v8h-16zM616 309h16v8h-16zM200 317h8v8h-8zM224 317h16v8h-16zM200 325h8v8h-8zM640 325h24v8h-24zM224 333h8v8h-8zM664 333h8v8h-8zM208 341h16v8h-16zM248 341h8v8h-8zM320 341h8v8h-8zM672 349h8v8h-8zM240 357h8v8h-8zM320 357h8v8h-8zM680 357h16v8h-16zM224 365h8v8h-8zM320 365h8v8h-8zM688 373h8v8h-8zM688 381h16v8h-16zM696 389h8v8h-8zM696 397h8v8h-8zM704 405h8v8h-8zM696 413h16v8h-16zM312 429h8v8h-8zM704 429h8v8h-8zM704 445h8v8h-8zM312 453h8v8h-8zM312 461h8v8h-8zM704 461h8v8h-8zM304 469h16v8h-16zM304 485h8v8h-8zM312 493h8v8h-8zM312 501h8v8h-8zM312 509h8v8h-8zM696 509h8v8h-8zM320 517h8v8h-8zM320 525h16v8h-16zM328 533h16v8h-16zM416 533h8v8h-8zM336 541h16v8h-16zM688 541h8v8h-8zM344 549h24v8h-24zM688 549h8v8h-8zM344 557h32v8h-32zM424 565h8v8h-8zM440 565h8v8h-8zM672 565h16v8h-16zM424 573h32v8h-32zM488 573h8v8h-8zM544 573h8v8h-8zM664 573h8v8h-8zM448 581h8v8h-8zM512 581h88v8h-88zM656 581h16v8h-16zM432 589h8v8h-8zM512 589h16v8h-16zM544 589h8v8h-8z"/>
<path fill="#bababa" d="M208 253h8v8h-8zM488 261h24v8h-24zM200 269h8v8h-8zM440 269h8v8h-8zM456 269h8v8h-8zM512 269h16v8h-16zM208 277h8v8h-8zM536 277h8v8h-8zM392 285h16v8h-16zM568 285h8v8h-8zM200 301h8v8h-8zM368 301h8v8h-8zM600 301h8v8h-8zM208 309h8v8h-8zM224 309h8v8h-8zM352 309h8v8h-8zM208 317h16v8h-16zM632 317h8v8h-8zM648 333h16v8h-16zM200 341h8v8h-8zM664 341h8v8h-8zM320 349h8v8h-8zM672 357h8v8h-8zM672 365h16v8h-16zM320 373h8v8h-8zM680 373h8v8h-8zM680 381h8v8h-8zM688 389h8v8h-8zM696 405h8v8h-8zM696 421h8v8h-8zM312 437h8v8h-8zM704 437h8v8h-8zM312 477h8v8h-8zM312 485h8v8h-8zM696 485h8v8h-8zM320 493h8v8h-8zM696 493h8v8h-8zM320 501h8v8h-8zM696 501h8v8h-8zM320 509h16v8h-16zM328 517h16v8h-16zM336 525h8v8h-8zM344 533h16v8h-16zM400 533h16v8h-16zM688 533h8v8h-8zM352 541h24v8h-24zM368 549h16v8h-16zM408 549h8v8h-8zM464 549h16v8h-16zM376 557h80v8h-80zM680 557h8v8h-8zM432 565h8v8h-8zM448 565h8v8h-8zM520 565h16v8h-16zM664 565h8v8h-8zM520 573h24v8h-24zM568 573h32v8h-32zM472 605h8v8h-8zM488 605h8v8h-8z"/>
<path fill="#bebebe" d="M448 269h8v8h-8zM464 269h48v8h-48zM432 277h16v8h-16zM520 277h16v8h-16zM408 285h8v8h-8zM552 285h16v8h-16zM376 293h8v8h-8zM576 293h8v8h-8zM224 301h8v8h-8zM216 309h8v8h-8zM360 309h8v8h-8zM344 317h8v8h-8zM336 325h8v8h-8zM632 325h8v8h-8zM328 333h8v8h-8zM640 333h8v8h-8zM648 341h16v8h-16zM656 349h16v8h-16zM664 357h8v8h-8zM664 365h8v8h-8zM672 373h8v8h-8zM680 389h8v8h-8zM688 397h8v8h-8zM688 405h8v8h-8zM688 413h8v8h-8zM696 429h8v8h-8zM320 437h8v8h-8zM696 437h8v8h-8zM320 445h8v8h-8zM696 445h8v8h-8zM696 453h8v8h-8zM320 461h8v8h-8zM696 461h8v8h-8zM320 469h8v8h-8zM696 469h8v8h-8zM696 477h8v8h-8zM328 501h8v8h-8zM336 509h8v8h-8zM688 509h8v8h-8zM688 517h8v8h-8zM344 525h16v8h-16zM688 525h8v8h-8zM360 533h24v8h-24zM392 533h8v8h-8zM376 541h8v8h-8zM464 541h8v8h-8zM448 549h16v8h-16zM496 549h32v8h-32zM680 549h8v8h-8zM520 557h8v8h-8zM568 557h8v8h-8zM672 557h8v8h-8zM568 565h32v8h-32zM656 565h8v8h-8zM504 597h8v8h-8zM464 605h8v8h-8z"/>
<path fill="#c2c2c2" d="M448 277h48v8h-48zM504 277h16v8h-16zM416 285h24v8h-24zM544 285h8v8h-8zM400 293h8v8h-8zM568 293h8v8h-8zM376 301h8v8h-8zM592 301h8v8h-8zM368 309h8v8h-8zM608 309h8v8h-8zM352 317h8v8h-8zM616 317h16v8h-16zM344 325h8v8h-8zM624 325h8v8h-8zM624 333h16v8h-16zM328 341h8v8h-8zM640 341h8v8h-8zM648 349h8v8h-8zM328 357h8v8h-8zM648 357h16v8h-16zM328 365h8v8h-8zM328 373h8v8h-8zM664 373h8v8h-8zM320 381h8v8h-8zM672 381h8v8h-8zM320 389h8v8h-8zM320 397h8v8h-8zM680 397h8v8h-8zM320 405h8v8h-8zM680 405h8v8h-8zM320 413h8v8h-8zM680 413h8v8h-8zM320 421h8v8h-8zM688 421h8v8h-8zM320 429h8v8h-8zM688 437h8v8h-8zM320 453h8v8h-8zM688 453h8v8h-8zM688 461h8v8h-8zM688 469h8v8h-8zM320 477h8v8h-8zM688 477h8v8h-8zM320 485h8v8h-8zM688 485h8v8h-8zM328 493h16v8h-16zM688 493h8v8h-8zM336 501h16v8h-16zM688 501h8v8h-8zM344 509h8v8h-8zM344 517h24v8h-24zM680 517h8v8h-8zM360 525h32v8h-32zM680 525h8v8h-8zM384 533h8v8h-8zM424 533h64v8h-64zM520 533h8v8h-8zM680 533h8v8h-8zM448 541h16v8h-16zM472 541h56v8h-56zM680 541h8v8h-8zM672 549h8v8h-8zM576 557h24v8h-24zM648 557h24v8h-24zM480 605h8v8h-8z"/>
<path fill="#c6c6c6" d="M496 277h8v8h-8zM440 285h104v8h-104zM384 293h16v8h-16zM408 293h56v8h-56zM528 293h40v8h-40zM384 301h40v8h-40zM560 301h32v8h-32zM376 309h16v8h-16zM584 309h24v8h-24zM360 317h24v8h-24zM592 317h24v8h-24zM352 325h16v8h-16zM600 325h24v8h-24zM336 333h32v8h-32zM616 333h8v8h-8zM336 341h16v8h-16zM616 341h24v8h-24zM328 349h24v8h-24zM624 349h24v8h-24zM336 357h8v8h-8zM632 357h16v8h-16zM336 365h8v8h-8zM640 365h24v8h-24zM336 373h8v8h-8zM648 373h16v8h-16zM328 381h8v8h-8zM648 381h24v8h-24zM328 389h8v8h-8zM648 389h32v8h-32zM328 397h8v8h-8zM648 397h32v8h-32zM328 405h8v8h-8zM656 405h24v8h-24zM328 413h8v8h-8zM656 413h24v8h-24zM328 421h8v8h-8zM664 421h24v8h-24zM328 429h8v8h-8zM664 429h32v8h-32zM328 437h8v8h-8zM664 437h24v8h-24zM328 445h8v8h-8zM664 445h32v8h-32zM328 453h16v8h-16zM664 453h24v8h-24zM328 461h16v8h-16zM664 461h24v8h-24zM328 469h16v8h-16zM664 469h24v8h-24zM328 477h16v8h-16zM664 477h24v8h-24zM328 485h16v8h-16zM664 485h24v8h-24zM344 493h8v8h-8zM664 493h24v8h-24zM352 501h8v8h-8zM664 501h24v8h-24zM352 509h24v8h-24zM664 509h24v8h-24zM368 517h16v8h-16zM656 517h24v8h-24zM392 525h40v8h-40zM456 525h24v8h-24zM656 525h24v8h-24zM488 533h32v8h-32zM560 533h8v8h-8zM648 533h32v8h-32zM568 541h16v8h-16zM640 541h40v8h-40zM568 549h40v8h-40zM632 549h40v8h-40zM456 581h16v8h-16zM488 581h16v8h-16zM440 589h8v8h-8zM496 597h8v8h-8z"/>
<path fill="#cacaca" d="M464 293h64v8h-64zM424 301h136v8h-136zM392 309h56v8h-56zM456 309h8v8h-8zM536 309h48v8h-48zM384 317h32v8h-32zM560 317h32v8h-32zM368 325h32v8h-32zM568 325h32v8h-32zM368 333h16v8h-16zM576 333h40v8h-40zM352 341h24v8h-24zM600 341h16v8h-16zM352 349h16v8h-16zM600 349h24v8h-24zM344 357h16v8h-16zM608 357h24v8h-24zM344 365h8v8h-8zM608 365h32v8h-32zM344 373h8v8h-8zM616 373h32v8h-32zM336 381h16v8h-16zM624 381h24v8h-24zM336 389h16v8h-16zM624 389h24v8h-24zM336 397h16v8h-16zM632 397h16v8h-16zM336 405h8v8h-8zM632 405h24v8h-24zM336 413h8v8h-8zM632 413h24v8h-24zM336 421h16v8h-16zM640 421h24v8h-24zM336 429h16v8h-16zM640 429h24v8h-24zM336 437h16v8h-16zM640 437h24v8h-24zM336 445h16v8h-16zM640 445h24v8h-24zM344 453h8v8h-8zM632 453h32v8h-32zM344 461h8v8h-8zM640 461h24v8h-24zM344 469h16v8h-16zM640 469h24v8h-24zM344 477h16v8h-16zM632 477h32v8h-32zM344 485h16v8h-16zM632 485h32v8h-32zM352 493h16v8h-16zM632 493h32v8h-32zM360 501h16v8h-16zM632 501h32v8h-32zM376 509h16v8h-16zM624 509h40v8h-40zM384 517h40v8h-40zM616 517h40v8h-40zM432 525h24v8h-24zM480 525h56v8h-56zM616 525h40v8h-40zM568 533h32v8h-32zM608 533h40v8h-40zM584 541h56v8h-56zM608 549h24v8h-24zM472 581h16v8h-16zM504 581h8v8h-8zM448 589h64v8h-64zM440 597h56v8h-56z"/>
<path fill="#cecece" d="M448 309h8v8h-8zM464 309h72v8h-72zM416 317h96v8h-96zM520 317h40v8h-40zM400 325h48v8h-48zM536 325h32v8h-32zM384 333h40v8h-40zM560 333h16v8h-16zM376 341h32v8h-32zM560 341h40v8h-40zM368 349h24v8h-24zM576 349h24v8h-24zM360 357h24v8h-24zM576 357h32v8h-32zM352 365h24v8h-24zM584 365h24v8h-24zM352 373h16v8h-16zM592 373h24v8h-24zM352 381h16v8h-16zM600 381h24v8h-24zM352 389h16v8h-16zM608 389h16v8h-16zM352 397h8v8h-8zM608 397h24v8h-24zM344 405h16v8h-16zM608 405h24v8h-24zM344 413h16v8h-16zM616 413h16v8h-16zM352 421h8v8h-8zM616 421h24v8h-24zM352 429h8v8h-8zM616 429h24v8h-24zM352 437h16v8h-16zM616 437h24v8h-24zM352 445h16v8h-16zM616 445h24v8h-24zM352 453h16v8h-16zM608 453h24v8h-24zM352 461h16v8h-16zM608 461h32v8h-32zM360 469h8v8h-8zM608 469h32v8h-32zM360 477h16v8h-16zM608 477h24v8h-24zM360 485h16v8h-16zM600 485h32v8h-32zM368 493h8v8h-8zM600 493h32v8h-32zM376 501h8v8h-8zM592 501h40v8h-40zM392 509h24v8h-24zM584 509h40v8h-40zM424 517h8v8h-8zM496 517h120v8h-120zM536 525h80v8h-80zM600 533h8v8h-8z"/>
<path fill="#d2d2d2" d="M512 317h8v8h-8zM448 325h88v8h-88zM424 333h56v8h-56zM496 333h64v8h-64zM408 341h32v8h-32zM536 341h24v8h-24zM392 349h32v8h-32zM552 349h24v8h-24zM384 357h24v8h-24zM560 357h16v8h-16zM376 365h16v8h-16zM568 365h16v8h-16zM368 373h24v8h-24zM568 373h24v8h-24zM368 381h16v8h-16zM576 381h24v8h-24zM368 389h8v8h-8zM584 389h24v8h-24zM360 397h16v8h-16zM584 397h24v8h-24zM360 405h16v8h-16zM592 405h16v8h-16zM360 413h16v8h-16zM592 413h24v8h-24zM360 421h16v8h-16zM592 421h24v8h-24zM360 429h16v8h-16zM592 429h24v8h-24zM368 437h16v8h-16zM592 437h24v8h-24zM368 445h16v8h-16zM592 445h24v8h-24zM368 453h8v8h-8zM592 453h16v8h-16zM368 461h16v8h-16zM584 461h24v8h-24zM368 469h16v8h-16zM576 469h32v8h-32zM376 477h8v8h-8zM568 477h40v8h-40zM376 485h16v8h-16zM568 485h32v8h-32zM376 493h16v8h-16zM560 493h40v8h-40zM384 501h24v8h-24zM528 501h64v8h-64zM416 509h16v8h-16zM496 509h88v8h-88zM432 517h64v8h-64z"/>
<path fill="#d7d7d7" d="M480 333h16v8h-16zM440 341h96v8h-96zM424 349h24v8h-24zM520 349h32v8h-32zM408 357h24v8h-24zM536 357h24v8h-24zM392 365h24v8h-24zM544 365h24v8h-24zM392 373h16v8h-16zM552 373h16v8h-16zM384 381h16v8h-16zM560 381h16v8h-16zM376 389h16v8h-16zM568 389h16v8h-16zM376 397h8v8h-8zM568 397h16v8h-16zM376 405h8v8h-8zM576 405h16v8h-16zM376 413h16v8h-16zM576 413h16v8h-16zM376 421h8v8h-8zM576 421h16v8h-16zM376 429h8v8h-8zM576 429h16v8h-16zM384 437h8v8h-8zM568 437h24v8h-24zM384 445h8v8h-8zM568 445h24v8h-24zM376 453h16v8h-16zM568 453h24v8h-24zM384 461h8v8h-8zM560 461h24v8h-24zM384 469h8v8h-8zM552 469h24v8h-24zM384 477h8v8h-8zM544 477h24v8h-24zM392 485h8v8h-8zM528 485h40v8h-40zM392 493h16v8h-16zM520 493h40v8h-40zM408 501h16v8h-16zM504 501h24v8h-24zM432 509h16v8h-16zM480 509h16v8h-16z"/>
<path fill="#dbdbdb" d="M448 349h16v8h-16zM504 349h16v8h-16zM432 357h8v8h-8zM520 357h16v8h-16zM416 365h8v8h-8zM536 365h8v8h-8zM408 373h8v8h-8zM544 373h8v8h-8zM400 381h8v8h-8zM552 381h8v8h-8zM560 389h8v8h-8zM384 397h8v8h-8zM560 397h8v8h-8zM384 405h8v8h-8zM568 405h8v8h-8zM568 413h8v8h-8zM384 421h8v8h-8zM568 421h8v8h-8zM384 429h8v8h-8zM568 429h8v8h-8zM560 445h8v8h-8zM560 453h8v8h-8zM552 461h8v8h-8zM392 469h8v8h-8zM544 469h8v8h-8zM392 477h8v8h-8zM536 477h8v8h-8zM400 485h8v8h-8zM520 485h8v8h-8zM408 493h8v8h-8zM512 493h8v8h-8zM424 501h8v8h-8zM496 501h8v8h-8zM448 509h32v8h-32z"/>
<path fill="#dfdfdf" d="M464 349h40v8h-40zM440 357h16v8h-16zM504 357h16v8h-16zM424 365h8v8h-8zM528 365h8v8h-8zM416 373h8v8h-8zM536 373h8v8h-8zM544 381h8v8h-8zM392 389h8v8h-8zM552 389h8v8h-8zM392 397h8v8h-8zM552 397h8v8h-8zM392 405h8v8h-8zM560 405h8v8h-8zM392 413h8v8h-8zM560 413h8v8h-8zM392 421h8v8h-8zM392 429h8v8h-8zM560 429h8v8h-8zM392 437h8v8h-8zM560 437h8v8h-8zM392 445h8v8h-8zM392 453h8v8h-8zM552 453h8v8h-8zM392 461h8v8h-8zM544 461h8v8h-8zM536 469h8v8h-8zM400 477h8v8h-8zM528 477h8v8h-8zM512 485h8v8h-8zM416 493h16v8h-16zM504 493h8v8h-8zM432 501h24v8h-24zM488 501h8v8h-8z"/>
<path fill="#e3e3e3" d="M456 357h48v8h-48zM432 365h16v8h-16zM504 365h24v8h-24zM424 373h8v8h-8zM528 373h8v8h-8zM408 381h16v8h-16zM536 381h8v8h-8zM400 389h8v8h-8zM544 389h8v8h-8zM400 397h8v8h-8zM544 397h8v8h-8zM552 405h8v8h-8zM552 413h8v8h-8zM552 421h16v8h-16zM400 437h8v8h-8zM552 437h8v8h-8zM400 445h8v8h-8zM552 445h8v8h-8zM400 453h8v8h-8zM544 453h8v8h-8zM400 461h8v8h-8zM536 461h8v8h-8zM400 469h8v8h-8zM528 469h8v8h-8zM408 477h8v8h-8zM520 477h8v8h-8zM408 485h16v8h-16zM504 485h8v8h-8zM432 493h16v8h-16zM488 493h16v8h-16zM456 501h32v8h-32z"/>
<path fill="#e7e7e7" d="M448 365h56v8h-56zM432 373h96v8h-96zM424 381h112v8h-112zM408 389h136v8h-136zM408 397h136v8h-136zM400 405h152v8h-152zM400 413h152v8h-152zM400 421h152v8h-152zM400 429h160v8h-160zM408 437h144v8h-144zM408 445h144v8h-144zM408 453h136v8h-136zM408 461h128v8h-128zM408 469h120v8h-120zM416 477h104v8h-104zM424 485h80v8h-80zM448 493h40v8h-40z"/></g></g>
<path d="M188 101.3V829.5 M334 101.3V829.5 M480 101.3V829.5 M626 101.3V829.5 M772 101.3V829.5 M104.5 127H832.3 M104.5 272.5H832.3 M104.5 418H832.3 M104.5 563.5H832.3 M104.5 709H832.3" stroke="#fff" stroke-width="2" stroke-dasharray="2 3.5" fill="none"/>
<g clip-path="url(#data0)">
<path d="M195.0 173.7 197.2 174.0 198.1 176.0 195.0 176.3 195.0 173.7M207.0 176.0 215.0 175.7 219.0 177.9 223.3 182.0 222.7 184.0 224.6 188.0 229.3 190.0 227.3 192.0 227.4 196.0 225.5 198.0 225.0 200.6 223.0 200.5 221.0 202.0 211.0 198.6 207.0 200.4 202.9 198.0 205.8 194.0 205.9 192.0 202.8 188.0 202.9 182.0 200.9 180.0 201.0 178.8 203.0 179.8 207.0 176.0M347.0 185.7 351.0 188.1 355.0 187.5 355.6 190.0 349.1 196.0 345.0 204.3 339.0 208.1 335.0 212.2 331.0 211.0 329.1 214.0 329.0 216.5 327.0 216.3 323.0 220.3 321.0 219.8 315.0 222.5 311.0 222.2 305.0 228.5 297.0 230.2 295.0 232.9 289.0 236.7 283.0 237.0 279.5 242.0 278.7 246.0 273.8 250.0 269.0 252.1 265.0 249.7 261.0 252.8 259.0 256.2 255.0 258.5 251.0 258.4 246.3 260.0 237.1 254.0 236.3 252.0 239.0 251.5 243.0 248.5 257.0 244.0 261.0 238.5 265.0 235.8 271.0 235.4 277.0 232.9 280.2 230.0 285.0 221.9 287.4 222.0 289.0 219.8 291.0 219.9 293.0 217.8 297.0 219.1 313.0 211.6 319.1 204.0 321.0 199.4 323.0 199.3 327.0 195.3 331.0 196.0 333.0 195.2 335.0 192.2 339.0 190.0 344.2 190.0 347.5 188.0 347.0 185.7M505.0 199.9 511.0 202.0 515.0 207.7 519.0 207.8 521.0 206.5 525.0 209.1 529.0 209.9 529.0 214.0 531.0 215.8 535.0 215.7 537.0 213.8 541.0 213.9 541.2 216.0 539.4 218.0 541.0 219.8 543.0 218.0 547.0 217.9 547.1 220.0 549.0 222.0 548.2 224.0 549.1 226.0 551.0 227.9 553.0 228.0 553.8 232.0 565.0 240.0 565.4 242.0 567.0 243.1 571.0 244.0 574.6 238.0 579.0 238.0 578.2 242.0 581.0 244.0 581.0 246.0 579.2 252.0 581.0 253.9 585.0 252.2 589.0 254.0 589.1 256.0 595.0 261.9 595.6 264.0 607.0 275.8 611.9 284.0 623.0 289.0 623.7 294.0 627.2 298.0 627.8 302.0 629.3 304.0 633.0 305.7 634.6 304.0 636.0 304.0 643.0 306.9 647.0 303.9 655.0 303.7 651.1 314.0 657.0 315.5 665.0 322.3 671.0 324.4 675.0 324.5 679.0 326.6 683.0 331.7 685.0 332.1 689.0 328.9 690.9 330.0 692.0 336.0 697.0 341.4 697.0 343.3 695.0 344.7 693.0 344.3 687.0 340.8 685.0 340.8 683.3 342.0 683.0 344.4 687.0 347.4 693.0 349.7 699.0 350.5 699.0 347.4 697.9 346.0 699.0 345.5 703.0 347.6 700.4 354.0 700.6 358.0 703.0 362.2 707.0 363.6 717.1 374.0 715.3 378.0 712.5 380.0 710.2 384.0 712.6 388.0 718.2 392.0 719.0 396.8 721.7 400.0 725.2 408.0 721.5 414.0 722.3 416.0 725.6 418.0 725.0 428.0 727.1 432.0 731.4 436.0 731.0 442.0 727.5 444.0 727.6 448.0 729.6 452.0 729.4 456.0 733.1 460.0 733.3 462.0 733.0 466.0 729.7 468.0 731.0 470.2 726.4 470.0 725.5 472.0 727.0 474.0 727.0 476.1 721.7 482.0 721.4 484.0 725.0 487.6 731.0 485.6 732.5 488.0 725.0 490.2 721.7 494.0 723.7 498.0 723.4 504.0 720.2 506.0 719.1 510.0 721.0 514.9 723.0 513.6 727.0 517.2 727.6 526.0 729.3 530.0 733.1 532.0 733.2 534.0 728.9 534.0 725.0 532.2 723.0 532.6 720.4 536.0 719.4 540.0 721.1 544.0 721.0 550.9 718.7 552.0 719.0 554.0 716.6 556.0 716.2 566.0 713.3 570.0 713.1 572.0 713.3 574.0 719.0 578.0 719.4 580.0 719.0 581.1 715.0 578.9 713.0 579.5 711.0 582.1 705.0 584.4 703.0 580.0 701.5 584.0 701.9 588.0 699.8 590.0 701.0 592.9 699.3 596.0 701.0 599.6 703.5 600.0 703.1 602.0 701.0 600.2 699.0 602.1 695.0 602.2 693.0 600.5 689.0 599.7 688.3 598.0 683.0 595.2 680.6 596.0 677.0 600.9 671.0 597.9 659.0 597.1 657.0 597.4 653.0 600.5 651.0 597.6 647.0 597.7 646.0 598.0 646.4 600.0 648.0 602.0 646.8 604.0 645.0 605.0 643.0 603.9 639.0 604.4 631.0 610.7 627.0 611.1 619.0 607.7 617.0 609.5 615.0 609.5 603.0 607.6 601.8 608.0 602.5 610.0 601.4 612.0 599.0 612.5 595.0 612.1 591.0 609.4 587.0 610.2 583.0 613.0 579.0 612.2 571.0 613.0 565.5 616.0 561.0 622.9 553.0 622.1 551.2 624.0 551.0 626.5 547.0 622.6 545.0 622.6 539.4 628.0 521.0 632.4 517.0 636.1 513.0 636.0 511.0 634.3 498.5 630.0 497.0 628.6 491.0 630.3 487.0 633.6 478.7 632.0 473.0 626.3 465.0 622.5 455.0 625.6 445.0 620.8 435.0 624.0 434.9 622.0 436.8 620.0 436.3 616.0 431.0 611.0 427.0 610.2 425.0 612.5 419.0 612.8 417.0 614.3 407.0 610.4 403.0 610.8 397.0 607.2 391.0 613.3 388.6 610.0 381.0 604.8 379.0 604.6 376.7 606.0 375.0 602.0 371.0 598.7 367.0 600.6 365.0 600.3 359.0 596.5 357.0 600.3 355.0 600.6 353.9 596.0 351.0 592.4 345.0 594.8 335.0 592.8 333.0 591.5 330.0 586.0 331.6 582.0 330.2 576.0 329.0 574.4 326.1 574.0 323.8 570.0 321.0 569.4 318.5 564.0 315.0 561.6 313.0 551.6 307.0 549.3 304.3 546.0 302.7 540.0 303.6 536.0 302.7 532.0 301.0 529.3 296.6 528.0 298.1 518.0 300.3 514.0 300.5 508.0 296.7 504.0 292.0 490.0 293.9 486.0 292.7 484.0 296.8 476.0 297.8 468.0 298.6 466.0 301.9 464.0 304.2 452.0 305.8 450.0 304.2 446.0 306.4 436.0 304.3 432.0 304.7 426.0 302.7 418.0 300.5 416.0 302.5 412.0 300.9 408.0 302.7 402.0 302.0 398.0 305.0 397.5 308.7 394.0 307.9 390.0 304.6 388.0 304.2 378.0 304.9 374.0 308.9 366.0 309.3 356.0 310.9 352.0 309.6 346.0 311.0 341.6 315.0 339.3 317.8 336.0 319.2 332.0 318.1 326.0 323.0 325.6 326.1 324.0 325.4 322.0 328.1 318.0 325.5 314.0 327.0 309.7 335.0 311.1 337.5 310.0 338.6 304.0 336.8 300.0 340.0 296.0 338.7 292.0 342.6 290.0 343.0 280.2 345.0 280.9 347.0 280.0 347.3 278.0 343.0 276.1 343.0 272.0 345.3 272.0 345.2 274.0 347.0 275.7 349.0 275.4 350.6 274.0 351.0 268.7 353.0 265.9 355.0 265.7 359.0 261.8 363.0 261.9 365.0 258.0 367.0 257.7 372.5 252.0 372.8 248.0 375.0 247.8 381.0 243.9 385.0 243.8 387.0 242.0 391.0 241.4 393.8 236.0 397.0 233.9 399.0 235.0 401.0 232.0 399.0 230.1 399.0 227.7 405.0 224.0 407.0 225.9 409.0 225.6 413.9 220.0 419.0 221.8 423.0 221.6 424.9 220.0 427.0 219.8 430.8 216.0 435.0 216.0 437.8 212.0 445.0 208.0 449.0 207.9 455.0 213.3 456.6 212.0 457.0 210.0 454.8 208.0 454.9 206.0 457.0 203.9 459.1 204.0 459.9 208.0 463.0 209.6 464.9 208.0 465.0 203.8 467.0 203.8 467.0 206.0 469.0 207.5 470.6 206.0 473.0 205.9 475.0 207.9 481.0 207.9 484.6 206.0 485.0 203.9 487.0 203.9 489.0 205.9 491.0 205.6 495.6 202.0 493.1 206.0 493.2 208.0 495.0 209.7 498.2 208.0 499.0 205.7 502.2 204.0 505.0 199.9M531.0 206.0 535.0 208.0 533.0 210.0 530.6 208.0 531.0 206.0M207.0 229.6 211.0 229.1 215.0 232.3 221.0 232.8 225.0 236.4 231.3 236.0 231.8 242.0 227.7 246.0 227.7 248.0 231.9 254.0 231.8 258.0 241.0 265.0 241.7 268.0 241.7 274.0 237.4 288.0 237.3 292.0 239.0 294.6 245.5 294.0 245.6 302.0 248.5 304.0 249.8 310.0 249.4 320.0 250.4 324.0 249.2 328.0 250.3 334.0 255.0 338.2 259.9 346.0 259.4 350.0 255.5 354.0 256.8 358.0 255.9 360.0 260.3 372.0 256.3 378.0 257.4 382.0 253.0 382.9 243.0 390.9 239.0 392.4 235.0 388.0 237.9 380.0 237.0 378.8 233.0 380.8 225.0 377.7 223.0 378.1 218.9 374.0 219.5 372.0 213.0 362.1 209.0 359.4 205.0 360.7 204.5 360.0 204.5 356.0 202.6 354.0 203.9 350.0 200.0 348.0 199.7 344.0 198.0 342.0 200.3 336.0 196.1 330.0 196.4 324.0 193.2 318.0 194.7 316.0 198.1 304.0 196.4 296.0 198.0 294.0 199.3 288.0 202.3 286.0 201.8 282.0 195.0 275.6 193.3 272.0 195.3 264.0 195.0 258.9 196.5 256.0 196.0 246.0 197.6 240.0 200.1 236.0 207.0 229.6M269.0 281.4 273.0 281.2 276.0 292.0 279.3 294.0 279.3 298.0 280.4 300.0 273.0 316.3 268.7 316.0 263.4 308.0 264.9 302.0 263.0 300.3 261.9 294.0 262.6 292.0 261.0 290.0 263.0 289.6 264.2 288.0 263.8 286.0 269.0 281.4M669.0 316.0 669.3 318.0 667.0 319.3 663.8 318.0 669.0 316.0M243.0 512.0 249.2 512.0 252.1 516.0 257.6 520.0 258.5 522.0 261.0 522.6 263.7 526.0 263.7 528.0 266.4 530.0 267.9 534.0 268.2 542.0 269.9 544.0 270.4 550.0 272.2 552.0 270.2 554.0 267.0 562.5 262.6 560.0 262.1 558.0 258.8 556.0 254.4 548.0 247.0 540.8 244.3 536.0 246.0 534.0 246.7 528.0 245.6 526.0 240.4 524.0 239.4 520.0 240.6 516.0 238.7 514.0 243.0 512.0M539.0 533.9 537.0 535.7 528.5 536.0 528.9 544.0 531.7 546.0 532.6 548.0 530.6 560.0 543.0 567.3 547.3 572.0 565.0 574.5 565.0 556.0 567.0 553.3 567.5 546.0 563.0 541.5 561.0 541.4 551.0 533.7 543.0 535.5 539.0 533.9M399.0 539.7 397.0 542.1 388.4 544.0 387.0 552.0 389.0 554.1 393.0 554.5 401.0 552.9 405.0 549.2 411.0 548.1 421.0 550.4 423.0 550.0 427.0 553.7 429.0 552.5 437.0 553.5 446.0 552.0 446.3 548.0 435.0 547.2 430.8 542.0 425.0 542.4 423.0 539.6 413.0 539.9 409.0 541.4 399.0 539.7M469.0 555.7 467.0 559.1 459.0 558.6 457.0 560.0 458.4 568.0 463.0 570.7 479.0 574.6 485.0 574.0 489.0 571.2 495.0 571.1 497.0 571.5 503.0 576.4 515.4 576.0 513.8 570.0 516.7 566.0 515.0 561.5 511.0 561.3 507.0 559.3 501.0 560.8 495.3 556.0 487.0 554.0 485.0 554.7 484.0 558.0 481.0 560.6 469.0 555.7M621.0 557.7 619.6 558.0 615.0 563.0 613.0 563.3 601.0 559.7 600.7 564.0 604.0 568.0 606.4 574.0 607.0 582.8 617.0 586.5 629.0 586.8 635.0 584.7 643.3 584.0 647.0 582.2 649.0 579.3 654.6 578.0 659.5 574.0 649.0 564.1 641.0 563.2 639.0 557.4 638.1 560.0 635.0 562.0 624.5 558.0 621.0 557.7M387.0 567.3 385.0 569.6 373.0 571.2 366.5 574.0 365.0 580.0 367.0 581.4 375.0 582.4 383.0 580.5 387.0 582.2 393.0 582.6 399.0 581.2 413.0 580.7 417.0 579.4 419.8 574.0 417.7 572.0 413.0 572.1 411.0 569.3 403.0 569.3 399.0 570.7 393.0 567.9 387.0 567.3M593.0 627.3 601.0 627.1 602.5 628.0 601.5 632.0 603.0 634.9 600.1 640.0 601.0 642.4 603.0 642.4 605.1 638.0 607.0 637.5 611.0 640.3 611.5 642.0 608.2 644.0 609.1 646.0 608.4 648.0 603.0 650.4 591.0 650.6 590.5 648.0 588.4 646.0 588.6 636.0 586.6 634.0 586.7 632.0 589.0 629.2 593.0 627.3" fill="none" stroke="#fde725" stroke-width="2.4" stroke-linejoin="round"/>
<path d="M339.0 191.9 342.4 192.0 341.0 193.9 337.0 194.9 336.7 194.0 339.0 191.9M327.0 195.8 331.7 198.0 333.0 200.1 339.0 201.7 341.0 201.2 341.0 197.7 343.0 195.0 347.0 198.1 347.1 200.0 343.9 204.0 339.0 206.3 335.0 210.2 331.5 210.0 331.0 208.9 327.7 212.0 325.0 218.1 323.0 218.9 317.7 218.0 319.0 212.3 321.0 210.2 325.6 210.0 321.0 205.9 320.9 200.0 323.0 199.9 327.0 195.8M291.0 221.9 291.9 222.0 292.1 228.0 289.0 231.8 287.0 232.2 284.4 228.0 284.9 224.0 289.0 223.8 291.0 221.9M209.0 229.9 210.3 232.0 209.7 234.0 211.0 235.3 213.0 236.1 216.2 234.0 221.0 233.8 225.0 237.8 229.0 238.5 231.0 242.0 227.7 244.0 225.1 248.0 227.0 261.2 229.0 261.8 231.0 260.7 235.0 261.8 241.0 266.9 241.0 274.8 238.0 278.0 237.0 286.2 232.3 292.0 234.4 296.0 237.0 295.0 244.6 296.0 245.0 302.0 247.6 304.0 249.3 310.0 247.7 316.0 249.3 324.0 249.0 326.2 247.2 328.0 249.0 330.4 249.1 334.0 255.0 339.5 259.3 346.0 259.0 349.6 253.3 354.0 255.0 356.0 253.7 360.0 257.1 364.0 259.1 374.0 255.3 378.0 255.0 380.6 247.0 379.5 245.7 378.0 247.9 374.0 247.0 372.2 243.0 369.8 239.0 372.8 237.0 370.7 233.0 373.8 233.0 379.1 227.0 378.2 223.0 375.7 217.0 367.1 217.0 362.5 225.0 364.2 230.0 360.0 231.3 358.0 228.4 354.0 231.0 349.5 235.0 352.0 237.0 356.4 239.3 352.0 247.4 346.0 247.8 344.0 243.0 341.1 241.0 337.8 233.0 339.6 232.1 346.0 229.0 347.0 221.0 353.4 215.0 353.2 212.9 356.0 214.6 360.0 213.0 360.2 211.0 358.3 208.4 358.0 208.5 354.0 207.0 353.1 205.0 355.5 203.0 354.1 205.8 350.0 200.6 348.0 200.5 344.0 198.6 342.0 199.0 340.0 202.3 336.0 197.0 329.9 196.7 322.0 195.1 318.0 198.6 306.0 198.4 300.0 196.8 296.0 198.5 294.0 200.5 288.0 204.4 286.0 201.8 280.0 195.0 274.4 194.5 272.0 195.8 270.0 197.0 260.3 203.0 260.4 204.6 258.0 203.0 255.8 199.0 254.5 197.0 251.5 197.0 245.9 198.8 244.0 199.0 240.9 201.0 241.7 207.0 240.0 201.0 238.8 201.0 236.0 205.0 233.8 209.0 229.9M221.0 241.5 219.1 244.0 219.3 246.0 221.9 246.0 222.7 244.0 221.0 241.5M271.0 240.7 275.0 240.9 277.0 242.2 277.3 246.0 273.0 250.2 269.0 250.3 267.6 248.0 269.3 242.0 271.0 240.7M479.0 244.7 481.0 244.3 482.6 246.0 483.0 251.8 485.0 254.7 487.0 255.3 489.0 252.9 488.4 248.0 489.0 245.9 491.0 244.6 495.0 249.9 499.0 250.9 507.0 249.4 509.3 252.0 513.0 253.1 515.2 256.0 522.3 260.0 527.0 259.5 529.0 262.4 531.0 262.6 533.0 260.5 535.0 260.5 537.9 262.0 538.3 264.0 536.8 268.0 539.0 272.4 541.0 273.5 545.0 272.2 549.0 275.1 551.0 275.8 553.0 275.1 559.0 280.0 563.0 280.1 565.0 282.1 570.0 284.0 575.0 284.6 579.0 287.0 581.0 286.7 582.4 288.0 582.8 296.0 589.0 296.2 591.0 298.2 601.0 298.2 603.0 298.9 605.0 302.3 611.0 302.5 613.0 304.1 621.0 301.3 627.0 307.8 633.0 312.0 639.0 314.4 641.0 314.7 645.0 311.9 647.0 311.7 646.8 314.0 645.1 316.0 647.1 320.0 647.0 326.0 651.0 324.1 653.0 321.6 655.0 322.1 657.0 320.7 660.4 322.0 665.0 325.8 669.0 325.9 671.0 327.5 673.0 327.4 676.1 330.0 680.2 336.0 679.6 344.0 683.0 349.5 689.0 351.7 697.0 352.4 698.9 356.0 699.2 360.0 703.2 366.0 702.6 368.0 699.3 370.0 699.3 372.0 703.0 375.6 705.0 375.9 709.0 372.3 713.3 376.0 709.3 380.0 707.4 384.0 706.7 392.0 709.0 394.2 713.0 393.6 714.9 396.0 713.6 404.0 717.1 408.0 718.9 412.0 717.4 424.0 715.6 426.0 717.0 427.1 719.0 426.4 721.0 430.0 718.7 434.0 721.4 436.0 722.0 442.0 718.4 448.0 721.0 449.6 721.0 451.8 719.0 450.5 717.0 451.2 713.9 458.0 711.6 460.0 713.0 463.7 717.5 466.0 718.1 468.0 713.4 472.0 715.8 476.0 715.7 478.0 713.5 480.0 711.0 486.0 707.8 490.0 711.9 498.0 709.0 499.6 707.0 497.3 705.4 498.0 705.6 500.0 708.0 502.0 708.0 506.0 704.3 512.0 703.0 517.6 700.7 520.0 701.5 524.0 700.5 530.0 701.5 532.0 700.1 536.0 705.0 536.3 707.1 538.0 705.0 542.2 698.7 542.0 698.6 546.0 696.4 548.0 697.7 552.0 697.3 554.0 694.5 556.0 688.3 566.0 687.9 572.0 684.3 574.0 682.0 580.0 677.0 581.6 673.9 584.0 673.0 594.5 663.0 594.3 653.0 597.1 649.0 594.3 643.1 598.0 643.0 601.7 639.0 602.1 633.0 608.0 625.6 608.0 625.9 606.0 623.0 605.2 621.0 606.0 617.0 602.2 615.0 601.7 611.0 602.0 607.0 604.8 601.0 604.0 597.0 605.5 593.0 603.0 583.0 604.0 578.6 606.0 565.0 605.7 561.0 608.0 560.6 614.0 555.0 615.4 551.0 617.6 545.7 616.0 541.0 612.9 533.0 615.8 529.0 611.8 526.3 612.0 523.0 610.3 517.0 610.5 513.0 612.0 509.0 609.9 505.0 610.1 503.0 608.2 499.0 607.9 497.0 607.8 495.0 609.7 489.0 609.8 487.0 611.9 479.0 611.5 477.0 610.0 471.0 611.9 465.0 611.8 463.0 609.8 449.0 609.5 447.1 608.0 447.0 606.0 445.0 607.4 441.0 607.4 437.5 604.0 437.0 595.6 431.0 596.5 431.0 593.1 427.0 593.0 419.0 590.5 411.0 597.6 409.0 597.5 405.0 594.1 401.0 593.8 397.0 597.4 394.0 598.0 386.4 596.0 383.0 591.7 379.0 591.6 373.0 589.6 369.1 594.0 367.0 593.4 366.4 590.0 371.0 588.9 371.6 586.0 371.0 585.1 367.0 585.9 367.0 583.9 379.0 583.8 383.0 582.0 387.0 583.7 403.0 583.6 407.0 582.3 411.0 583.6 415.0 582.9 418.5 580.0 421.5 572.0 419.0 570.7 413.0 570.6 411.0 568.2 405.0 567.5 401.0 568.6 399.0 566.8 387.0 566.1 385.0 568.4 373.0 570.0 371.0 569.4 367.0 571.6 365.0 570.9 363.8 572.0 363.0 585.6 361.0 584.2 355.0 584.6 351.0 587.6 347.0 584.5 341.0 584.1 337.0 586.0 335.9 580.0 333.0 575.4 331.9 568.0 329.5 564.0 326.2 564.0 322.1 562.0 324.4 560.0 324.1 558.0 319.0 556.3 316.9 550.0 315.0 548.0 309.0 546.0 307.0 540.4 309.1 540.0 308.0 538.0 308.5 536.0 306.8 532.0 303.0 528.1 302.8 526.0 301.0 524.0 301.0 521.3 304.4 518.0 303.0 516.0 304.8 512.0 304.2 504.0 299.0 500.4 299.1 496.0 297.0 494.0 296.7 492.0 299.8 490.0 298.9 478.0 300.6 476.0 300.9 468.0 304.4 464.0 305.0 452.0 306.9 450.0 307.0 442.6 308.6 440.0 308.7 436.0 312.5 432.0 313.1 430.0 311.0 426.0 313.0 425.0 316.3 420.0 315.4 414.0 314.1 412.0 315.0 408.0 314.0 406.0 315.0 401.9 318.9 398.0 317.0 394.8 315.6 386.0 313.7 382.0 319.6 380.0 321.1 378.0 319.3 374.0 316.9 372.0 316.0 368.0 316.1 366.0 320.1 364.0 314.8 358.0 314.8 356.0 315.9 354.0 320.2 352.0 318.5 348.0 318.6 344.0 322.3 340.0 323.2 332.0 325.0 329.8 329.0 329.7 332.1 328.0 333.2 322.0 337.0 320.8 341.8 316.0 345.0 310.6 353.0 306.1 353.3 304.0 364.8 298.0 375.0 285.0 381.0 284.5 385.0 281.1 387.0 282.5 389.0 281.4 391.0 282.6 393.0 281.8 395.0 278.0 394.6 274.0 395.9 274.0 395.8 276.0 399.0 274.7 404.0 282.0 409.0 282.1 415.0 276.4 419.0 274.8 421.0 276.1 423.0 275.0 423.8 272.0 428.2 266.0 433.0 262.6 435.0 262.1 437.0 266.7 450.6 262.0 453.0 260.3 455.0 256.3 461.0 255.2 465.0 256.4 471.0 252.8 477.4 248.0 479.0 244.7M243.0 249.8 247.0 249.6 249.0 248.0 253.0 249.4 258.5 252.0 257.6 256.0 255.0 258.1 251.8 258.0 249.0 256.4 247.0 258.1 245.0 258.0 241.0 254.3 238.8 254.0 238.7 252.0 243.0 249.8M219.0 265.7 216.9 268.0 216.8 270.0 225.0 280.4 227.0 279.2 227.8 274.0 223.3 270.0 223.0 265.2 219.0 265.7M211.0 294.8 209.6 296.0 211.0 298.0 214.7 296.0 213.0 294.2 211.0 294.8M219.0 327.4 213.0 329.0 207.1 336.0 215.0 337.9 219.0 333.9 223.0 332.7 227.0 333.4 229.0 332.0 229.0 329.1 227.1 328.0 221.0 326.8 219.0 327.4M689.0 333.7 689.0 335.6 687.0 338.0 685.0 336.0 689.0 333.7M241.0 381.6 243.8 382.0 247.1 386.0 242.5 390.0 239.0 391.3 236.7 390.0 238.2 388.0 236.9 384.0 241.0 381.6M539.0 533.1 537.0 535.0 529.0 535.0 527.4 536.0 527.9 544.0 531.2 548.0 529.7 560.0 537.0 566.8 543.0 569.1 547.0 573.5 565.0 575.6 566.5 574.0 566.0 556.0 567.9 554.0 568.4 546.0 563.0 540.5 561.0 540.2 551.0 533.0 543.0 534.5 539.0 533.1M399.0 538.8 397.0 540.9 393.0 541.2 386.1 544.0 386.0 554.0 389.0 555.3 403.0 554.8 405.0 551.0 411.0 549.2 423.0 552.0 425.0 555.1 447.0 554.4 447.9 548.0 447.0 545.5 443.0 546.6 439.0 545.4 435.0 545.7 433.0 541.7 425.0 541.0 423.0 538.6 409.0 539.5 399.0 538.8M483.0 553.8 483.0 556.2 481.0 558.3 469.0 554.7 465.0 558.1 459.0 557.0 454.1 558.0 455.8 560.0 457.0 570.9 461.3 572.0 459.8 576.0 461.0 577.4 462.2 576.0 461.5 574.0 465.0 573.0 473.0 576.8 475.0 575.3 485.0 575.4 491.0 573.0 497.0 573.7 499.0 576.3 503.0 577.5 515.0 577.4 516.4 576.0 515.6 570.0 518.1 568.0 517.8 562.0 519.7 560.0 519.0 559.3 512.7 560.0 509.0 557.5 503.0 558.9 493.0 553.3 487.0 552.9 483.0 553.8M639.0 555.3 635.0 560.1 623.0 557.0 617.0 557.9 615.0 560.9 613.0 561.2 601.0 558.9 599.6 560.0 599.8 564.0 601.7 566.0 602.9 570.0 602.7 574.0 605.1 576.0 604.7 584.0 619.0 589.1 625.0 587.5 627.0 589.4 633.0 587.3 639.0 587.2 643.0 585.6 645.0 586.3 651.0 581.0 653.0 580.9 660.8 574.0 641.0 555.1 639.0 555.3" fill="none" stroke="#7ad151" stroke-width="2.4" stroke-linejoin="round"/>
<path d="M477.0 280.0 481.0 282.5 483.0 281.8 487.0 282.6 497.0 279.0 505.0 279.5 511.0 280.9 515.0 284.7 517.0 285.2 519.0 283.8 525.0 287.3 533.0 283.9 537.0 287.1 547.0 288.0 551.0 291.6 557.8 292.0 563.0 295.6 567.0 295.4 568.8 294.0 568.9 290.0 571.0 289.9 573.0 292.0 571.0 294.0 575.0 297.9 579.0 297.1 589.0 298.0 593.0 301.5 597.0 302.0 601.0 307.5 611.0 307.5 611.1 312.0 613.1 314.0 615.0 318.8 617.0 319.9 623.0 318.9 627.2 322.0 629.3 330.0 625.8 334.0 629.0 339.2 631.0 340.1 633.0 339.6 636.4 336.0 639.5 336.0 643.1 340.0 645.4 348.0 647.0 349.5 651.0 348.4 651.4 352.0 653.1 354.0 648.0 358.0 647.7 360.0 653.0 365.0 655.0 365.8 659.0 365.3 662.6 370.0 661.8 374.0 663.8 376.0 664.0 378.0 669.0 381.2 671.1 386.0 673.0 387.6 677.0 389.1 681.0 399.9 679.3 402.0 679.9 406.0 683.4 414.0 683.3 418.0 685.0 420.8 687.0 421.9 691.0 421.9 693.0 423.9 695.3 432.0 695.0 434.5 691.4 438.0 691.0 442.4 689.0 442.4 685.5 446.0 687.0 447.5 691.0 447.5 695.0 449.5 696.2 452.0 691.4 460.0 690.5 464.0 691.3 466.0 687.4 468.0 688.6 470.0 687.2 474.0 689.0 475.5 691.0 475.5 692.7 474.0 693.0 469.9 695.3 470.0 697.1 472.0 694.1 476.0 691.5 484.0 693.4 488.0 691.3 492.0 693.2 494.0 694.2 498.0 689.4 504.0 691.1 506.0 691.0 508.3 686.5 510.0 687.1 518.0 685.1 520.0 685.1 528.0 683.0 528.1 679.2 532.0 681.6 536.0 681.0 544.0 683.1 546.0 683.0 548.0 681.0 548.2 675.3 552.0 675.2 556.0 677.1 558.0 675.0 560.0 669.0 558.3 661.0 560.5 659.2 562.0 659.0 564.0 661.0 565.8 661.0 568.0 659.0 570.1 657.0 570.0 656.9 568.0 654.4 566.0 654.8 564.0 653.0 562.4 649.0 562.1 641.0 554.1 637.0 554.4 633.0 558.0 629.0 556.4 619.0 556.2 613.0 558.3 600.6 558.0 595.0 555.4 589.0 556.6 585.0 553.3 581.0 555.6 573.0 553.8 569.0 554.9 568.9 548.0 570.5 546.0 561.0 536.7 551.0 532.3 539.0 532.3 537.0 534.2 525.0 534.8 523.4 536.0 523.0 538.7 519.0 539.8 511.0 536.7 507.0 538.0 503.0 536.5 495.0 539.4 491.0 535.9 487.0 534.6 483.0 535.1 475.0 530.9 473.0 531.8 463.0 531.7 455.0 535.3 439.0 536.1 433.0 535.7 431.0 533.9 427.0 533.7 425.0 531.6 419.0 530.4 411.0 533.3 403.0 530.0 397.0 530.7 371.5 524.0 369.0 518.4 367.0 517.1 365.0 516.6 361.0 518.7 358.8 518.0 353.7 514.0 351.4 506.0 348.3 502.0 345.0 500.3 343.0 496.6 331.0 492.4 327.3 488.0 327.3 482.0 329.5 476.0 332.4 472.0 331.0 469.9 330.4 464.0 327.0 462.0 324.9 458.0 325.0 455.9 328.6 450.0 328.8 440.0 326.7 434.0 324.9 432.0 324.7 424.0 323.0 422.0 322.7 410.0 321.0 408.0 322.9 406.0 325.0 392.0 326.9 390.0 326.9 388.0 325.0 386.1 323.0 386.0 324.8 384.0 325.0 377.7 331.0 377.7 332.6 376.0 333.0 368.0 331.0 366.0 334.1 362.0 328.8 354.0 330.8 352.0 333.0 341.9 340.3 336.0 340.9 332.0 345.0 329.8 347.0 329.8 349.0 331.4 352.8 328.0 351.0 326.0 352.7 324.0 357.0 323.1 360.5 318.0 369.0 314.5 371.0 311.9 375.0 311.3 377.7 308.0 380.8 300.0 385.0 294.0 397.0 295.9 403.0 299.7 404.8 298.0 405.0 295.8 413.0 295.1 414.9 294.0 415.0 292.0 431.0 291.8 435.0 290.8 441.0 288.7 443.0 285.9 447.0 285.7 449.0 283.9 457.0 284.5 459.0 281.5 464.3 284.0 465.0 286.0 469.0 285.0 477.0 280.0M477.0 579.3 483.0 579.4 489.0 583.1 497.0 583.5 499.0 584.7 511.0 581.2 512.4 586.0 512.0 590.0 510.1 594.0 511.3 596.0 510.8 600.0 499.0 602.4 494.6 608.0 489.0 608.5 487.0 610.5 481.4 610.0 475.0 606.7 471.0 608.5 467.0 608.7 461.0 604.8 459.0 604.6 455.0 606.8 451.0 606.4 449.0 603.3 447.0 602.9 443.1 606.0 441.0 606.4 439.0 604.0 440.0 602.0 438.5 598.0 439.4 592.0 449.0 590.8 453.0 589.0 458.3 584.0 459.0 582.1 461.0 583.2 467.0 583.3 477.0 579.3" fill="none" stroke="#22a884" stroke-width="2.4" stroke-linejoin="round"/>
<path d="M467.0 345.8 473.0 344.5 477.0 346.0 483.0 345.5 495.0 346.6 499.0 348.2 509.0 347.6 531.0 355.0 535.0 354.5 537.0 356.0 535.7 360.0 543.0 362.6 549.0 369.4 553.0 371.3 559.0 376.6 560.1 378.0 560.0 382.0 566.5 386.0 568.8 396.0 574.2 402.0 574.8 408.0 576.9 412.0 576.6 420.0 582.0 428.0 578.1 436.0 574.0 440.0 574.2 444.0 571.0 447.7 572.0 450.0 570.7 454.0 563.8 460.0 561.0 465.5 557.0 467.5 556.6 470.0 547.0 477.8 547.0 480.0 545.0 482.6 541.0 485.4 536.5 486.0 529.0 491.4 527.0 491.8 517.0 499.8 510.2 502.0 497.0 509.6 487.0 512.4 477.0 516.7 459.0 518.6 451.0 515.1 439.0 512.8 435.0 513.5 431.0 511.1 429.8 508.0 427.0 505.6 421.0 503.7 415.0 504.1 411.0 502.4 407.0 498.2 401.0 496.3 395.5 490.0 391.0 474.0 391.1 470.0 387.8 464.0 388.2 458.0 385.9 452.0 389.0 447.9 389.8 444.0 389.0 440.0 385.9 434.0 387.1 430.0 386.2 426.0 388.2 418.0 384.0 412.0 384.9 408.0 383.5 402.0 387.4 396.0 391.0 387.1 397.0 384.2 405.0 374.2 409.0 370.8 419.0 366.3 419.7 364.0 425.0 362.2 427.0 359.1 435.0 358.5 439.2 356.0 441.0 353.5 447.0 352.3 449.0 349.2 455.6 350.0 467.0 345.8" fill="none" stroke="#2a788e" stroke-width="2.4" stroke-linejoin="round"/>
<text x="421" y="306" font-size="18" fill="#22a884" text-anchor="middle" transform="rotate(15 421 300)" textLength="29" lengthAdjust="spacingAndGlyphs">−54</text>
<text x="377" y="355" font-size="18" fill="#2a788e" text-anchor="middle" transform="rotate(-40 377 349)" textLength="29" lengthAdjust="spacingAndGlyphs">−64</text>
<text x="440" y="360" font-size="18" fill="#2a788e" text-anchor="middle" transform="rotate(-25 440 354)" textLength="29" lengthAdjust="spacingAndGlyphs">−64</text>
<text x="587" y="330" font-size="18" fill="#7ad151" text-anchor="middle" transform="rotate(-20 587 324)" textLength="29" lengthAdjust="spacingAndGlyphs">−42</text>
<text x="505" y="515" font-size="18" fill="#22a884" text-anchor="middle" transform="rotate(-35 505 509)" textLength="29" lengthAdjust="spacingAndGlyphs">−54</text>
<text x="357" y="494" font-size="18" fill="#7ad151" text-anchor="middle" transform="rotate(40 357 488)" textLength="29" lengthAdjust="spacingAndGlyphs">−42</text>
<text x="311" y="524" font-size="18" fill="#fde725" text-anchor="middle" transform="rotate(5 311 518)" textLength="29" lengthAdjust="spacingAndGlyphs">−31</text>
<text x="360" y="545" font-size="18" fill="#22a884" text-anchor="middle" transform="rotate(-50 360 539)" textLength="29" lengthAdjust="spacingAndGlyphs">−54</text>
<text x="423" y="567" font-size="18" fill="#fde725" text-anchor="middle" transform="rotate(10 423 561)" textLength="29" lengthAdjust="spacingAndGlyphs">−31</text>
<text x="478" y="573" font-size="18" fill="#22a884" text-anchor="middle" transform="rotate(-20 478 567)" textLength="29" lengthAdjust="spacingAndGlyphs">−54</text>
<text x="540" y="575" font-size="18" fill="#fde725" text-anchor="middle" transform="rotate(-50 540 569)" textLength="29" lengthAdjust="spacingAndGlyphs">−31</text>
<text x="613" y="545" font-size="18" fill="#22a884" text-anchor="middle" transform="rotate(70 613 539)" textLength="29" lengthAdjust="spacingAndGlyphs">−54</text>
<text x="646" y="494" font-size="18" fill="#22a884" text-anchor="middle" transform="rotate(70 646 488)" textLength="29" lengthAdjust="spacingAndGlyphs">−54</text>
<text x="221" y="407" font-size="18" fill="#fde725" text-anchor="middle" transform="rotate(30 221 401)" textLength="29" lengthAdjust="spacingAndGlyphs">−31</text>
<text x="256" y="545" font-size="18" fill="#fde725" text-anchor="middle" transform="rotate(50 256 539)" textLength="29" lengthAdjust="spacingAndGlyphs">−31</text>
<text x="290" y="240" font-size="18" fill="#7ad151" text-anchor="middle" transform="rotate(-30 290 234)" textLength="29" lengthAdjust="spacingAndGlyphs">−42</text>
<text x="321" y="218" font-size="18" fill="#fde725" text-anchor="middle" transform="rotate(-50 321 212)" textLength="29" lengthAdjust="spacingAndGlyphs">−31</text>
</g>
<rect x="431" y="429" width="73" height="72" fill="#ff0000" fill-opacity="0.38"/>
<circle cx="454" cy="457" r="17" fill="none" stroke="#2a788e" stroke-width="2.2"/>
<circle cx="454" cy="457" r="14" fill="#d0d0d0" stroke="#22a884" stroke-width="2.2"/>
<circle cx="454" cy="457" r="11" fill="#f0e060" stroke="#7ad151" stroke-width="2"/>
<circle cx="454" cy="457" r="9" fill="#f8e840" stroke="#fde725" stroke-width="2"/>
<circle cx="455" cy="456" r="7.5" fill="#8a2020"/>
<polyline points="530,490 575,512 600,520 640,528 690,545 720,552 745,556 790,541 833,552" fill="none" stroke="#00bfbf" stroke-width="6" stroke-dasharray="3 2" stroke-linejoin="round"/>
<polyline points="470,470 540,497 575,515 590,525 640,530 700,550 750,555 790,545 833,556" fill="none" stroke="#008000" stroke-width="2.8" stroke-linejoin="round"/>
<polyline points="105,159 188,265 316,381 443,458.6 492,480 536,494" fill="none" stroke="#0000ff" stroke-width="3" stroke-dasharray="2.5 3.5"/>
<polyline points="450,460 510,483.4 574.2,513.3 647.9,527.8 705.1,548.8 742,555.8 784.6,543 815,550 833,563" fill="none" stroke="#0000ff" stroke-width="2.8" stroke-linejoin="round"/>
<circle cx="510" cy="483.4" r="4.5" fill="#0000ff"/>
<circle cx="574.2" cy="513.3" r="4.5" fill="#0000ff"/>
<circle cx="647.9" cy="527.8" r="4.5" fill="#0000ff"/>
<circle cx="705.1" cy="548.8" r="4.5" fill="#0000ff"/>
<circle cx="742" cy="555.8" r="4.5" fill="#0000ff"/>
<circle cx="784.6" cy="543" r="4.5" fill="#0000ff"/>
<circle cx="815" cy="550" r="4.5" fill="#0000ff"/>
<polyline points="459.7,464.7 501.8,481 534.5,495 534.5,504.4 564.9,510.2 576.6,499.7 597.6,503.2 611.6,509 639.7,523.1 639.7,532.4 700.4,547.6 688.8,554.6 719.1,555.8 720.3,562.8 733.2,555.8 733.2,540.6 770.5,539.5 810.3,537.1 811.4,527.8 818.5,539.5 808,544.1 808,553.5 835,548.8" fill="none" stroke="#ff0000" stroke-width="3.6" stroke-linejoin="miter"/>
<rect x="534" y="500" width="8.5" height="8.5" fill="#bf00bf"/>
<path d="M313.6 378.5l12 12M325.6 378.5l-12 12" stroke="#ff0000" stroke-width="3.2"/>
</g>
<rect x="104.5" y="101.3" width="727.8" height="728.2" fill="none" stroke="#000" stroke-width="2.6"/>
<text x="97.0" y="131.8" font-size="13.99" textLength="33.3" lengthAdjust="spacingAndGlyphs" text-anchor="end">28°N</text>
<text x="97.0" y="277.3" font-size="13.99" textLength="33.3" lengthAdjust="spacingAndGlyphs" text-anchor="end">26°N</text>
<text x="97.0" y="422.8" font-size="13.99" textLength="33.3" lengthAdjust="spacingAndGlyphs" text-anchor="end">24°N</text>
<text x="97.0" y="568.3" font-size="13.99" textLength="33.3" lengthAdjust="spacingAndGlyphs" text-anchor="end">22°N</text>
<text x="97.0" y="713.8" font-size="13.99" textLength="33.3" lengthAdjust="spacingAndGlyphs" text-anchor="end">20°N</text>
<text x="188.0" y="850.8" font-size="13.99" textLength="36.4" lengthAdjust="spacingAndGlyphs" text-anchor="middle">66°W</text>
<text x="334.0" y="850.8" font-size="13.99" textLength="36.4" lengthAdjust="spacingAndGlyphs" text-anchor="middle">64°W</text>
<text x="480.0" y="850.8" font-size="13.99" textLength="36.4" lengthAdjust="spacingAndGlyphs" text-anchor="middle">62°W</text>
<text x="626.0" y="850.8" font-size="13.99" textLength="36.4" lengthAdjust="spacingAndGlyphs" text-anchor="middle">60°W</text>
<text x="772.0" y="850.8" font-size="13.99" textLength="36.4" lengthAdjust="spacingAndGlyphs" text-anchor="middle">58°W</text>
<rect x="429.3" y="108.6" width="396.2" height="188.4" rx="5" fill="#fff" fill-opacity="0.8" stroke="#cccccc" stroke-opacity="0.8" stroke-width="1.5"/>
<rect x="100.5" y="804" width="311.5" height="27.5" rx="4" fill="#000"/>
<g clip-path="url(#clip0)"><rect x="100.5" y="804" width="311.5" height="27.5" rx="4" fill="#000"/></g>
<text x="107.8" y="822.2" font-size="18.44" textLength="303.6" lengthAdjust="spacingAndGlyphs" font-weight="bold" fill="#fff">Copyright © 2020-2025 Dapiya</text>
<text x="480.3" y="128.3" font-size="16.59" textLength="337.8" lengthAdjust="spacingAndGlyphs">AMSU Locations [NOAAMC/1354Z 40 1003]</text>
<text x="480.3" y="150.9" font-size="16.59" textLength="212.4" lengthAdjust="spacingAndGlyphs">ARCHER Locations [2138Z]</text>
<text x="480.3" y="173.2" font-size="16.59" textLength="282.2" lengthAdjust="spacingAndGlyphs">SATCON Locations [2240Z 139 932]</text>
<text x="480.3" y="196.0" font-size="16.59" textLength="256.0" lengthAdjust="spacingAndGlyphs">ADT Tracks [0310Z 140.0 923.5]</text>
<text x="480.3" y="218.9" font-size="16.59" textLength="245.3" lengthAdjust="spacingAndGlyphs">JTWC/NHC Forecast [27/1800Z]</text>
<text x="480.3" y="241.6" font-size="16.59" textLength="229.6" lengthAdjust="spacingAndGlyphs">JTWC/NHC Tracks [28/0000Z]</text>
<text x="480.3" y="264.3" font-size="16.59" textLength="235.2" lengthAdjust="spacingAndGlyphs">MESOSCALE/TARGET Location</text>
<text x="480.3" y="287.2" font-size="16.59" textLength="118.4" lengthAdjust="spacingAndGlyphs">Floater Locater</text>
<rect x="448.4" y="118.3" width="8.6" height="8.6" fill="#bf00bf"/>
<rect x="448.4" y="140.89999999999998" width="8.6" height="8.6" fill="#bf00bf"/>
<path d="M448.2 163.0l9 9M457.2 163.0l-9 9" stroke="#00bfbf" stroke-width="2.6"/>
<path d="M436 190.3H470" stroke="#008000" stroke-width="2.8"/>
<path d="M436 213.2H470" stroke="#0000ff" stroke-width="3" stroke-dasharray="2.5 3.6"/>
<path d="M436 235.9H470" stroke="#0000ff" stroke-width="2.8"/><circle cx="452.7" cy="235.9" r="4.5" fill="#0000ff"/>
<path d="M447.2 253.10000000000002l11 11M458.2 253.10000000000002l-11 11" stroke="#ff0000" stroke-width="3.2"/>
<path d="M436 281.5H470" stroke="#ff0000" stroke-width="3.6"/>
<g clip-path="url(#clip1)">
<rect x="979" y="101" width="729" height="729" fill="#fff"/><g clip-path="url(#data1)"><g filter="url(#blur1)"><path fill="#60e0ff" d="M1323 453h16v8h-16z"/>
<path fill="#6beaff" d="M979 549h8v8h-8zM995 549h8v8h-8zM995 557h8v8h-8zM995 565h8v8h-8z"/>
<path fill="#75f4ff" d="M987 477h8v8h-8zM979 493h8v8h-8zM987 509h16v8h-16zM979 517h24v8h-24zM979 525h16v8h-16zM1011 525h8v8h-8zM979 533h16v8h-16zM1003 533h16v8h-16zM979 541h32v8h-32zM1003 549h8v8h-8zM979 557h16v8h-16zM1003 557h8v8h-8zM1019 557h8v8h-8zM987 565h8v8h-8zM1011 565h16v8h-16zM987 573h32v8h-32zM979 581h16v8h-16zM979 589h8v8h-8z"/>
<path fill="#80ffff" d="M987 469h16v8h-16zM979 485h16v8h-16zM1003 485h8v8h-8zM987 493h24v8h-24zM979 501h32v8h-32zM979 509h8v8h-8zM1011 517h8v8h-8zM995 525h16v8h-16zM995 533h8v8h-8zM1011 541h8v8h-8zM1027 541h16v8h-16zM987 549h8v8h-8zM1011 549h32v8h-32zM1011 557h8v8h-8zM1027 557h8v8h-8zM979 565h8v8h-8zM1003 565h8v8h-8zM979 573h8v8h-8zM1011 581h8v8h-8zM1035 589h8v8h-8zM1019 597h8v8h-8zM1011 605h8v8h-8zM1011 613h24v8h-24zM1011 621h16v8h-16zM1003 629h24v8h-24zM1003 637h16v8h-16zM995 645h16v8h-16zM987 653h24v8h-24zM979 661h24v8h-24zM979 669h24v8h-24zM979 677h16v8h-16zM979 685h8v8h-8z"/>
<path fill="#80ffed" d="M1003 101h24v8h-24zM1035 101h8v8h-8zM1435 101h8v8h-8zM1459 101h24v8h-24zM1507 101h32v8h-32zM1627 101h8v8h-8zM1003 109h24v8h-24zM1035 109h8v8h-8zM1067 109h8v8h-8zM1459 109h16v8h-16zM1483 109h8v8h-8zM1507 109h24v8h-24zM1627 109h8v8h-8zM1003 117h16v8h-16zM1059 117h8v8h-8zM1459 117h8v8h-8zM1483 117h8v8h-8zM1499 117h32v8h-32zM1619 117h8v8h-8zM1699 117h8v8h-8zM995 125h16v8h-16zM1475 125h16v8h-16zM1499 125h16v8h-16zM1595 125h8v8h-8zM1611 125h8v8h-8zM995 133h16v8h-16zM1027 133h8v8h-8zM1475 133h8v8h-8zM1611 133h8v8h-8zM1691 133h8v8h-8zM987 141h16v8h-16zM1475 141h8v8h-8zM1587 141h8v8h-8zM1611 141h8v8h-8zM1691 141h16v8h-16zM987 149h8v8h-8zM1603 149h8v8h-8zM1683 149h16v8h-16zM987 157h8v8h-8zM1579 157h8v8h-8zM1595 157h16v8h-16zM1675 157h24v8h-24zM987 165h8v8h-8zM1507 165h8v8h-8zM1539 165h8v8h-8zM1595 165h8v8h-8zM1635 165h16v8h-16zM1667 165h40v8h-40zM1003 173h8v8h-8zM1531 173h16v8h-16zM1595 173h8v8h-8zM1627 173h16v8h-16zM1659 173h8v8h-8zM1683 173h16v8h-16zM979 181h8v8h-8zM1539 181h16v8h-16zM1587 181h8v8h-8zM1627 181h16v8h-16zM1651 181h16v8h-16zM1675 181h24v8h-24zM1547 189h8v8h-8zM1619 189h16v8h-16zM1651 189h8v8h-8zM1667 189h24v8h-24zM979 197h8v8h-8zM1587 197h8v8h-8zM1603 197h48v8h-48zM1667 197h16v8h-16zM1587 205h40v8h-40zM1635 205h8v8h-8zM1667 205h16v8h-16zM1579 213h32v8h-32zM1619 213h16v8h-16zM1667 213h8v8h-8zM1595 221h8v8h-8zM1611 221h24v8h-24zM1659 221h16v8h-16zM1659 229h16v8h-16zM1659 237h8v8h-8zM1651 245h8v8h-8zM1683 269h8v8h-8zM1699 269h8v8h-8zM1635 277h8v8h-8zM1683 277h24v8h-24zM1659 285h8v8h-8zM1675 285h24v8h-24zM1651 293h16v8h-16zM1675 293h8v8h-8zM1691 293h8v8h-8zM1643 301h16v8h-16zM1683 301h8v8h-8zM1643 309h8v8h-8zM1667 309h8v8h-8zM1683 309h8v8h-8zM1667 317h8v8h-8zM1699 349h8v8h-8zM1691 357h8v8h-8zM1691 365h8v8h-8zM1683 373h8v8h-8zM1683 381h8v8h-8zM1675 389h8v8h-8zM1699 421h8v8h-8zM1699 429h8v8h-8zM1691 437h8v8h-8zM1323 445h8v8h-8zM995 453h16v8h-16zM1667 453h8v8h-8zM995 461h16v8h-16zM1667 461h8v8h-8zM1019 469h8v8h-8zM979 477h8v8h-8zM995 477h8v8h-8zM1011 477h16v8h-16zM995 485h8v8h-8zM1011 485h8v8h-8zM1011 493h16v8h-16zM1699 493h8v8h-8zM1011 501h16v8h-16zM1691 501h8v8h-8zM1003 509h24v8h-24zM1003 517h8v8h-8zM1019 517h8v8h-8zM1675 517h8v8h-8zM1675 525h8v8h-8zM1027 533h24v8h-24zM1667 533h8v8h-8zM1019 541h8v8h-8zM1043 541h8v8h-8zM1051 549h8v8h-8zM1043 557h8v8h-8zM1683 557h8v8h-8zM1027 565h8v8h-8zM1043 565h8v8h-8zM1019 573h8v8h-8zM1035 573h8v8h-8zM1059 573h8v8h-8zM995 581h8v8h-8zM1035 581h8v8h-8zM1051 581h8v8h-8zM1083 581h16v8h-16zM987 589h8v8h-8zM1003 589h32v8h-32zM1043 589h16v8h-16zM1083 589h8v8h-8zM1675 589h8v8h-8zM987 597h32v8h-32zM1027 597h24v8h-24zM1083 597h8v8h-8zM987 605h16v8h-16zM1019 605h32v8h-32zM979 613h16v8h-16zM1035 613h8v8h-8zM1059 613h8v8h-8zM979 621h16v8h-16zM1003 621h8v8h-8zM1027 621h16v8h-16zM1051 621h16v8h-16zM1115 621h8v8h-8zM1147 621h16v8h-16zM979 629h8v8h-8zM1027 629h8v8h-8zM1051 629h8v8h-8zM1083 629h8v8h-8zM1107 629h8v8h-8zM1147 629h24v8h-24zM979 637h24v8h-24zM1019 637h16v8h-16zM1043 637h16v8h-16zM1107 637h8v8h-8zM1147 637h24v8h-24zM979 645h16v8h-16zM1011 645h8v8h-8zM1027 645h24v8h-24zM1107 645h8v8h-8zM1147 645h16v8h-16zM1203 645h8v8h-8zM1027 653h16v8h-16zM1107 653h8v8h-8zM1147 653h8v8h-8zM1195 653h16v8h-16zM1219 653h8v8h-8zM1003 661h8v8h-8zM1019 661h16v8h-16zM1147 661h8v8h-8zM1187 661h40v8h-40zM1011 669h24v8h-24zM1147 669h8v8h-8zM1187 669h32v8h-32zM1243 669h8v8h-8zM1011 677h16v8h-16zM1139 677h16v8h-16zM1179 677h40v8h-40zM1275 677h16v8h-16zM987 685h8v8h-8zM1003 685h24v8h-24zM1107 685h8v8h-8zM1139 685h16v8h-16zM1179 685h32v8h-32zM1267 685h40v8h-40zM1323 685h16v8h-16zM1355 685h8v8h-8zM979 693h8v8h-8zM1003 693h16v8h-16zM1099 693h16v8h-16zM1139 693h16v8h-16zM1179 693h8v8h-8zM1195 693h16v8h-16zM1267 693h32v8h-32zM1323 693h8v8h-8zM1347 693h8v8h-8zM995 701h16v8h-16zM1091 701h16v8h-16zM1131 701h16v8h-16zM1171 701h8v8h-8zM1195 701h16v8h-16zM1267 701h24v8h-24zM1315 701h16v8h-16zM1347 701h8v8h-8zM995 709h16v8h-16zM1091 709h16v8h-16zM1131 709h16v8h-16zM1171 709h8v8h-8zM1195 709h32v8h-32zM1259 709h8v8h-8zM1275 709h8v8h-8zM1315 709h8v8h-8zM1339 709h8v8h-8zM987 717h16v8h-16zM1027 717h16v8h-16zM1083 717h16v8h-16zM1131 717h8v8h-8zM1163 717h8v8h-8zM1195 717h40v8h-40zM1259 717h8v8h-8zM1307 717h16v8h-16zM1331 717h8v8h-8zM979 725h16v8h-16zM1027 725h32v8h-32zM1083 725h8v8h-8zM1123 725h16v8h-16zM1195 725h32v8h-32zM1283 725h8v8h-8zM1307 725h24v8h-24zM979 733h8v8h-8zM995 733h16v8h-16zM1019 733h48v8h-48zM1083 733h8v8h-8zM1123 733h8v8h-8zM1155 733h8v8h-8zM1187 733h16v8h-16zM1219 733h8v8h-8zM1259 733h8v8h-8zM1307 733h24v8h-24zM987 741h24v8h-24zM1019 741h48v8h-48zM1075 741h16v8h-16zM1187 741h16v8h-16zM1259 741h16v8h-16zM1299 741h16v8h-16zM987 749h48v8h-48zM1043 749h16v8h-16zM1075 749h16v8h-16zM1179 749h16v8h-16zM1211 749h8v8h-8zM1259 749h16v8h-16zM1323 749h16v8h-16zM1355 749h8v8h-8zM979 757h48v8h-48zM1043 757h16v8h-16zM1075 757h8v8h-8zM1179 757h8v8h-8zM1323 757h8v8h-8zM1355 757h8v8h-8zM979 765h40v8h-40zM1043 765h8v8h-8zM1171 765h16v8h-16zM1203 765h8v8h-8zM1227 765h8v8h-8zM1347 765h8v8h-8zM979 773h32v8h-32zM1043 773h8v8h-8zM1171 773h8v8h-8zM1195 773h8v8h-8zM1227 773h8v8h-8zM1315 773h8v8h-8zM1347 773h8v8h-8zM979 781h24v8h-24zM1035 781h8v8h-8zM1171 781h8v8h-8zM1187 781h16v8h-16zM1219 781h16v8h-16zM1243 781h16v8h-16zM1347 781h8v8h-8zM979 789h24v8h-24zM1035 789h8v8h-8zM1179 789h16v8h-16zM1235 789h16v8h-16zM1259 789h8v8h-8zM1307 789h8v8h-8zM1339 789h24v8h-24zM979 797h8v8h-8zM1027 797h8v8h-8zM1171 797h16v8h-16zM1211 797h8v8h-8zM1227 797h16v8h-16zM1323 797h8v8h-8zM1339 797h16v8h-16zM1019 805h8v8h-8zM1075 805h8v8h-8zM1139 805h8v8h-8zM1171 805h8v8h-8zM1227 805h8v8h-8zM1243 805h8v8h-8zM1323 805h8v8h-8zM1339 805h8v8h-8zM987 813h8v8h-8zM1019 813h8v8h-8zM1067 813h8v8h-8zM1091 813h8v8h-8zM1131 813h8v8h-8zM1163 813h16v8h-16zM1219 813h8v8h-8zM1243 813h8v8h-8zM1315 813h8v8h-8zM1331 813h8v8h-8zM987 821h16v8h-16zM1011 821h8v8h-8zM1067 821h8v8h-8zM1131 821h8v8h-8zM1163 821h8v8h-8zM1219 821h8v8h-8zM1235 821h8v8h-8zM1315 821h8v8h-8zM1331 821h8v8h-8zM1355 821h8v8h-8z"/>
<path fill="#80ffdb" d="M979 101h8v8h-8zM1027 101h8v8h-8zM1043 101h8v8h-8zM1067 101h24v8h-24zM1099 101h16v8h-16zM1147 101h24v8h-24zM1363 101h8v8h-8zM1411 101h16v8h-16zM1443 101h8v8h-8zM1483 101h16v8h-16zM1611 101h16v8h-16zM1635 101h8v8h-8zM1651 101h16v8h-16zM1683 101h8v8h-8zM1699 101h8v8h-8zM995 109h8v8h-8zM1027 109h8v8h-8zM1043 109h8v8h-8zM1059 109h8v8h-8zM1075 109h8v8h-8zM1099 109h16v8h-16zM1355 109h16v8h-16zM1403 109h16v8h-16zM1427 109h16v8h-16zM1475 109h8v8h-8zM1491 109h16v8h-16zM1531 109h8v8h-8zM1563 109h8v8h-8zM1603 109h24v8h-24zM1635 109h8v8h-8zM1651 109h8v8h-8zM1675 109h8v8h-8zM1699 109h8v8h-8zM995 117h8v8h-8zM1027 117h16v8h-16zM1051 117h8v8h-8zM1067 117h8v8h-8zM1091 117h16v8h-16zM1355 117h8v8h-8zM1427 117h8v8h-8zM1451 117h8v8h-8zM1467 117h16v8h-16zM1491 117h8v8h-8zM1595 117h24v8h-24zM1627 117h8v8h-8zM1643 117h16v8h-16zM1691 117h8v8h-8zM1011 125h8v8h-8zM1027 125h40v8h-40zM1083 125h16v8h-16zM1451 125h8v8h-8zM1491 125h8v8h-8zM1603 125h8v8h-8zM1619 125h40v8h-40zM1691 125h16v8h-16zM987 133h8v8h-8zM1043 133h16v8h-16zM1083 133h8v8h-8zM1443 133h8v8h-8zM1467 133h8v8h-8zM1483 133h24v8h-24zM1555 133h8v8h-8zM1587 133h24v8h-24zM1619 133h16v8h-16zM1683 133h8v8h-8zM1699 133h8v8h-8zM1003 141h8v8h-8zM1019 141h8v8h-8zM1043 141h16v8h-16zM1075 141h16v8h-16zM1443 141h8v8h-8zM1467 141h8v8h-8zM1547 141h16v8h-16zM1579 141h8v8h-8zM1595 141h16v8h-16zM1619 141h8v8h-8zM1651 141h8v8h-8zM1675 141h16v8h-16zM995 149h8v8h-8zM1019 149h8v8h-8zM1035 149h16v8h-16zM1075 149h8v8h-8zM1515 149h8v8h-8zM1547 149h8v8h-8zM1579 149h24v8h-24zM1611 149h8v8h-8zM1643 149h16v8h-16zM1667 149h16v8h-16zM1699 149h8v8h-8zM979 157h8v8h-8zM1011 157h8v8h-8zM1035 157h8v8h-8zM1067 157h8v8h-8zM1507 157h16v8h-16zM1547 157h8v8h-8zM1571 157h8v8h-8zM1635 157h40v8h-40zM1699 157h8v8h-8zM979 165h8v8h-8zM1003 165h16v8h-16zM1499 165h8v8h-8zM1531 165h8v8h-8zM1547 165h24v8h-24zM1579 165h16v8h-16zM1603 165h8v8h-8zM1627 165h8v8h-8zM1659 165h8v8h-8zM979 173h16v8h-16zM1499 173h32v8h-32zM1547 173h16v8h-16zM1587 173h8v8h-8zM1643 173h16v8h-16zM1667 173h16v8h-16zM1699 173h8v8h-8zM995 181h16v8h-16zM1507 181h8v8h-8zM1531 181h8v8h-8zM1555 181h8v8h-8zM1595 181h8v8h-8zM1611 181h16v8h-16zM1643 181h8v8h-8zM1667 181h8v8h-8zM979 189h24v8h-24zM1571 189h48v8h-48zM1635 189h16v8h-16zM1659 189h8v8h-8zM1691 189h8v8h-8zM987 197h8v8h-8zM1547 197h8v8h-8zM1563 197h24v8h-24zM1595 197h8v8h-8zM1651 197h16v8h-16zM1683 197h16v8h-16zM979 205h8v8h-8zM1563 205h24v8h-24zM1627 205h8v8h-8zM1643 205h8v8h-8zM1659 205h8v8h-8zM1683 205h8v8h-8zM1611 213h8v8h-8zM1635 213h8v8h-8zM1659 213h8v8h-8zM1675 213h8v8h-8zM1587 221h8v8h-8zM1603 221h8v8h-8zM1635 221h8v8h-8zM1651 221h8v8h-8zM1675 221h8v8h-8zM979 229h8v8h-8zM1003 229h8v8h-8zM1603 229h32v8h-32zM1651 229h8v8h-8zM1611 237h8v8h-8zM1627 237h8v8h-8zM1651 237h8v8h-8zM1667 237h8v8h-8zM1619 245h8v8h-8zM1659 245h8v8h-8zM1675 245h8v8h-8zM1699 245h8v8h-8zM1619 253h8v8h-8zM1643 253h16v8h-16zM1667 253h16v8h-16zM1691 253h16v8h-16zM995 261h8v8h-8zM1643 261h16v8h-16zM1667 261h8v8h-8zM1683 261h24v8h-24zM979 269h24v8h-24zM1635 269h16v8h-16zM1659 269h8v8h-8zM1691 269h8v8h-8zM979 277h16v8h-16zM1643 277h24v8h-24zM979 285h16v8h-16zM1627 285h16v8h-16zM1651 285h8v8h-8zM1667 285h8v8h-8zM979 293h8v8h-8zM1667 293h8v8h-8zM1683 293h8v8h-8zM979 301h8v8h-8zM1659 301h24v8h-24zM1691 301h8v8h-8zM1651 309h8v8h-8zM1675 309h8v8h-8zM1675 317h16v8h-16zM987 325h8v8h-8zM1667 325h16v8h-16zM979 333h16v8h-16zM1659 333h24v8h-24zM1699 333h8v8h-8zM979 341h16v8h-16zM1659 341h24v8h-24zM1699 341h8v8h-8zM979 349h16v8h-16zM1659 349h16v8h-16zM979 357h8v8h-8zM1667 357h8v8h-8zM1699 357h8v8h-8zM979 365h8v8h-8zM1667 365h8v8h-8zM1683 365h8v8h-8zM979 373h8v8h-8zM1659 373h8v8h-8zM1691 373h8v8h-8zM987 381h8v8h-8zM1675 381h8v8h-8zM1691 381h8v8h-8zM979 389h8v8h-8zM1003 389h8v8h-8zM1667 389h8v8h-8zM1683 389h8v8h-8zM1003 397h8v8h-8zM1667 397h24v8h-24zM1699 397h8v8h-8zM1019 405h8v8h-8zM1675 405h16v8h-16zM1011 413h16v8h-16zM1675 413h16v8h-16zM1011 421h8v8h-8zM1675 421h8v8h-8zM1675 429h8v8h-8zM1691 429h8v8h-8zM1675 437h16v8h-16zM1699 437h8v8h-8zM995 445h24v8h-24zM1667 445h32v8h-32zM1659 453h8v8h-8zM1675 453h24v8h-24zM979 461h16v8h-16zM1027 461h16v8h-16zM1659 461h8v8h-8zM1683 461h8v8h-8zM1003 469h16v8h-16zM1027 469h16v8h-16zM1659 469h16v8h-16zM1683 469h8v8h-8zM1003 477h8v8h-8zM1027 477h8v8h-8zM1659 477h32v8h-32zM1019 485h8v8h-8zM1659 485h8v8h-8zM1683 485h8v8h-8zM1699 485h8v8h-8zM1027 493h8v8h-8zM1675 493h8v8h-8zM1691 493h8v8h-8zM1027 501h8v8h-8zM1675 501h8v8h-8zM1699 501h8v8h-8zM1067 509h8v8h-8zM1675 509h32v8h-32zM1051 517h24v8h-24zM1683 517h24v8h-24zM1019 525h8v8h-8zM1035 525h24v8h-24zM1667 525h8v8h-8zM1019 533h8v8h-8zM1051 533h8v8h-8zM1675 533h8v8h-8zM1691 533h16v8h-16zM1051 541h8v8h-8zM1667 541h8v8h-8zM1691 541h8v8h-8zM1043 549h8v8h-8zM1107 549h8v8h-8zM1683 549h16v8h-16zM1035 557h8v8h-8zM1051 557h8v8h-8zM1099 557h16v8h-16zM1659 557h8v8h-8zM1035 565h8v8h-8zM1067 565h8v8h-8zM1083 565h24v8h-24zM1123 565h8v8h-8zM1675 565h16v8h-16zM1699 565h8v8h-8zM1027 573h8v8h-8zM1043 573h8v8h-8zM1083 573h24v8h-24zM1123 573h8v8h-8zM1675 573h8v8h-8zM1699 573h8v8h-8zM1003 581h8v8h-8zM1019 581h16v8h-16zM1043 581h8v8h-8zM1059 581h8v8h-8zM1075 581h8v8h-8zM1115 581h16v8h-16zM1675 581h8v8h-8zM1691 581h16v8h-16zM995 589h8v8h-8zM1075 589h8v8h-8zM1091 589h8v8h-8zM1107 589h8v8h-8zM1131 589h8v8h-8zM1691 589h8v8h-8zM979 597h8v8h-8zM1051 597h8v8h-8zM1075 597h8v8h-8zM1099 597h8v8h-8zM1123 597h16v8h-16zM1667 597h16v8h-16zM979 605h8v8h-8zM1067 605h16v8h-16zM1099 605h8v8h-8zM1123 605h16v8h-16zM1667 605h8v8h-8zM995 613h16v8h-16zM1067 613h16v8h-16zM1091 613h8v8h-8zM1115 613h24v8h-24zM1147 613h8v8h-8zM1163 613h8v8h-8zM1091 621h8v8h-8zM1139 621h8v8h-8zM1163 621h8v8h-8zM987 629h16v8h-16zM1035 629h16v8h-16zM1059 629h8v8h-8zM1115 629h8v8h-8zM1139 629h8v8h-8zM1035 637h8v8h-8zM1083 637h8v8h-8zM1099 637h8v8h-8zM1131 637h8v8h-8zM1171 637h8v8h-8zM1019 645h8v8h-8zM1051 645h8v8h-8zM1075 645h8v8h-8zM1099 645h8v8h-8zM1115 645h16v8h-16zM1139 645h8v8h-8zM1163 645h8v8h-8zM1195 645h8v8h-8zM1211 645h8v8h-8zM979 653h8v8h-8zM1011 653h16v8h-16zM1099 653h8v8h-8zM1115 653h8v8h-8zM1139 653h8v8h-8zM1155 653h8v8h-8zM1187 653h8v8h-8zM1211 653h8v8h-8zM1227 653h8v8h-8zM1011 661h8v8h-8zM1035 661h8v8h-8zM1099 661h16v8h-16zM1227 661h32v8h-32zM1003 669h8v8h-8zM1099 669h8v8h-8zM1115 669h8v8h-8zM1139 669h8v8h-8zM1155 669h8v8h-8zM1179 669h8v8h-8zM1219 669h24v8h-24zM1251 669h8v8h-8zM1275 669h24v8h-24zM995 677h16v8h-16zM1027 677h8v8h-8zM1099 677h24v8h-24zM1171 677h8v8h-8zM1227 677h24v8h-24zM1267 677h8v8h-8zM1291 677h24v8h-24zM1355 677h16v8h-16zM1099 685h8v8h-8zM1115 685h8v8h-8zM1131 685h8v8h-8zM1171 685h8v8h-8zM1211 685h8v8h-8zM1227 685h8v8h-8zM1307 685h8v8h-8zM1339 685h16v8h-16zM1363 685h8v8h-8zM1019 693h8v8h-8zM1091 693h8v8h-8zM1131 693h8v8h-8zM1163 693h16v8h-16zM1187 693h8v8h-8zM1259 693h8v8h-8zM1299 693h8v8h-8zM1315 693h8v8h-8zM1331 693h8v8h-8zM1355 693h8v8h-8zM979 701h8v8h-8zM1011 701h16v8h-16zM1035 701h8v8h-8zM1107 701h8v8h-8zM1147 701h8v8h-8zM1163 701h8v8h-8zM1179 701h16v8h-16zM1211 701h8v8h-8zM1251 701h16v8h-16zM1291 701h8v8h-8zM1307 701h8v8h-8zM1339 701h8v8h-8zM987 709h8v8h-8zM1027 709h24v8h-24zM1059 709h8v8h-8zM1083 709h8v8h-8zM1123 709h8v8h-8zM1155 709h16v8h-16zM1187 709h8v8h-8zM1227 709h8v8h-8zM1243 709h16v8h-16zM1267 709h8v8h-8zM1283 709h16v8h-16zM1307 709h8v8h-8zM1323 709h8v8h-8zM1347 709h8v8h-8zM1011 717h8v8h-8zM1043 717h24v8h-24zM1099 717h8v8h-8zM1123 717h8v8h-8zM1139 717h24v8h-24zM1187 717h8v8h-8zM1251 717h8v8h-8zM1267 717h32v8h-32zM1323 717h8v8h-8zM1339 717h8v8h-8zM1363 717h16v8h-16zM995 725h32v8h-32zM1059 725h24v8h-24zM1091 725h8v8h-8zM1139 725h8v8h-8zM1155 725h16v8h-16zM1187 725h8v8h-8zM1227 725h8v8h-8zM1259 725h24v8h-24zM1299 725h8v8h-8zM1331 725h8v8h-8zM1355 725h16v8h-16zM987 733h8v8h-8zM1011 733h8v8h-8zM1067 733h16v8h-16zM1091 733h8v8h-8zM1131 733h24v8h-24zM1179 733h8v8h-8zM1203 733h16v8h-16zM1267 733h24v8h-24zM1299 733h8v8h-8zM1331 733h8v8h-8zM1355 733h16v8h-16zM979 741h8v8h-8zM1011 741h8v8h-8zM1067 741h8v8h-8zM1123 741h16v8h-16zM1147 741h16v8h-16zM1179 741h8v8h-8zM1211 741h16v8h-16zM1275 741h8v8h-8zM1315 741h24v8h-24zM1347 741h24v8h-24zM979 749h8v8h-8zM1035 749h8v8h-8zM1059 749h16v8h-16zM1115 749h16v8h-16zM1147 749h8v8h-8zM1203 749h8v8h-8zM1251 749h8v8h-8zM1291 749h32v8h-32zM1363 749h8v8h-8zM1027 757h16v8h-16zM1059 757h16v8h-16zM1115 757h8v8h-8zM1171 757h8v8h-8zM1187 757h8v8h-8zM1203 757h16v8h-16zM1235 757h8v8h-8zM1251 757h24v8h-24zM1291 757h8v8h-8zM1315 757h8v8h-8zM1331 757h8v8h-8zM1347 757h8v8h-8zM1363 757h8v8h-8zM1019 765h8v8h-8zM1035 765h8v8h-8zM1051 765h32v8h-32zM1107 765h8v8h-8zM1195 765h8v8h-8zM1235 765h8v8h-8zM1251 765h16v8h-16zM1283 765h8v8h-8zM1315 765h16v8h-16zM1339 765h8v8h-8zM1355 765h8v8h-8zM1011 773h8v8h-8zM1035 773h8v8h-8zM1051 773h24v8h-24zM1107 773h8v8h-8zM1147 773h8v8h-8zM1163 773h8v8h-8zM1179 773h16v8h-16zM1203 773h8v8h-8zM1219 773h8v8h-8zM1235 773h56v8h-56zM1339 773h8v8h-8zM1003 781h8v8h-8zM1043 781h8v8h-8zM1059 781h8v8h-8zM1123 781h8v8h-8zM1147 781h24v8h-24zM1179 781h8v8h-8zM1235 781h8v8h-8zM1259 781h16v8h-16zM1307 781h16v8h-16zM1339 781h8v8h-8zM1027 789h8v8h-8zM1115 789h16v8h-16zM1139 789h16v8h-16zM1171 789h8v8h-8zM1195 789h8v8h-8zM1211 789h24v8h-24zM1251 789h8v8h-8zM1315 789h24v8h-24zM1363 789h8v8h-8zM987 797h16v8h-16zM1035 797h8v8h-8zM1083 797h8v8h-8zM1099 797h8v8h-8zM1115 797h8v8h-8zM1139 797h16v8h-16zM1187 797h8v8h-8zM1203 797h8v8h-8zM1243 797h24v8h-24zM1299 797h24v8h-24zM1331 797h8v8h-8zM1355 797h24v8h-24zM979 805h24v8h-24zM1027 805h8v8h-8zM1091 805h16v8h-16zM1115 805h24v8h-24zM1163 805h8v8h-8zM1179 805h8v8h-8zM1203 805h8v8h-8zM1219 805h8v8h-8zM1235 805h8v8h-8zM1251 805h8v8h-8zM1291 805h32v8h-32zM1331 805h8v8h-8zM1347 805h24v8h-24zM995 813h24v8h-24zM1075 813h8v8h-8zM1107 813h24v8h-24zM1139 813h8v8h-8zM1195 813h16v8h-16zM1227 813h16v8h-16zM1251 813h8v8h-8zM1299 813h16v8h-16zM1323 813h8v8h-8zM1339 813h8v8h-8zM1355 813h16v8h-16zM979 821h8v8h-8zM1003 821h8v8h-8zM1019 821h8v8h-8zM1051 821h16v8h-16zM1091 821h8v8h-8zM1107 821h24v8h-24zM1155 821h8v8h-8zM1187 821h16v8h-16zM1211 821h8v8h-8zM1227 821h8v8h-8zM1243 821h16v8h-16zM1267 821h8v8h-8zM1299 821h16v8h-16zM1323 821h8v8h-8z"/>
<path fill="#80ffc9" d="M995 101h8v8h-8zM1051 101h16v8h-16zM1115 101h32v8h-32zM1187 101h8v8h-8zM1219 101h16v8h-16zM1371 101h8v8h-8zM1395 101h16v8h-16zM1427 101h8v8h-8zM1499 101h8v8h-8zM1539 101h8v8h-8zM1563 101h16v8h-16zM1595 101h16v8h-16zM1643 101h8v8h-8zM1675 101h8v8h-8zM979 109h8v8h-8zM1051 109h8v8h-8zM1091 109h8v8h-8zM1139 109h32v8h-32zM1203 109h8v8h-8zM1331 109h24v8h-24zM1451 109h8v8h-8zM1539 109h8v8h-8zM1643 109h8v8h-8zM1659 109h8v8h-8zM1683 109h16v8h-16zM987 117h8v8h-8zM1019 117h8v8h-8zM1043 117h8v8h-8zM1139 117h8v8h-8zM1155 117h8v8h-8zM1331 117h24v8h-24zM1363 117h8v8h-8zM1395 117h8v8h-8zM1435 117h8v8h-8zM1531 117h8v8h-8zM1563 117h8v8h-8zM1635 117h8v8h-8zM1667 117h16v8h-16zM987 125h8v8h-8zM1147 125h8v8h-8zM1331 125h32v8h-32zM1427 125h8v8h-8zM1443 125h8v8h-8zM1459 125h16v8h-16zM1563 125h8v8h-8zM1587 125h8v8h-8zM1659 125h16v8h-16zM1683 125h8v8h-8zM1035 133h8v8h-8zM1059 133h8v8h-8zM1075 133h8v8h-8zM1091 133h8v8h-8zM1139 133h8v8h-8zM1283 133h8v8h-8zM1323 133h8v8h-8zM1347 133h8v8h-8zM1403 133h8v8h-8zM1451 133h8v8h-8zM1563 133h8v8h-8zM1635 133h32v8h-32zM1675 133h8v8h-8zM979 141h8v8h-8zM1027 141h16v8h-16zM1131 141h8v8h-8zM1163 141h8v8h-8zM1339 141h8v8h-8zM1435 141h8v8h-8zM1451 141h8v8h-8zM1491 141h8v8h-8zM1627 141h24v8h-24zM1659 141h16v8h-16zM979 149h8v8h-8zM1067 149h8v8h-8zM1083 149h8v8h-8zM1147 149h16v8h-16zM1435 149h16v8h-16zM1459 149h8v8h-8zM1523 149h8v8h-8zM1539 149h8v8h-8zM1555 149h8v8h-8zM1571 149h8v8h-8zM1619 149h8v8h-8zM1635 149h8v8h-8zM1659 149h8v8h-8zM995 157h8v8h-8zM1019 157h16v8h-16zM1043 157h8v8h-8zM1075 157h8v8h-8zM1147 157h8v8h-8zM1371 157h8v8h-8zM1395 157h8v8h-8zM1523 157h24v8h-24zM1563 157h8v8h-8zM1587 157h8v8h-8zM1611 157h16v8h-16zM1027 165h16v8h-16zM1059 165h8v8h-8zM1115 165h16v8h-16zM1483 165h8v8h-8zM1515 165h16v8h-16zM1571 165h8v8h-8zM1611 165h16v8h-16zM1651 165h8v8h-8zM995 173h8v8h-8zM1011 173h8v8h-8zM1027 173h8v8h-8zM1107 173h8v8h-8zM1459 173h8v8h-8zM1475 173h24v8h-24zM1563 173h24v8h-24zM1603 173h24v8h-24zM987 181h8v8h-8zM1019 181h8v8h-8zM1051 181h8v8h-8zM1499 181h8v8h-8zM1515 181h8v8h-8zM1571 181h16v8h-16zM1603 181h8v8h-8zM1699 181h8v8h-8zM1003 189h16v8h-16zM1051 189h8v8h-8zM1555 189h16v8h-16zM995 197h24v8h-24zM1043 197h8v8h-8zM1539 197h8v8h-8zM995 205h16v8h-16zM1035 205h16v8h-16zM1067 205h8v8h-8zM1555 205h8v8h-8zM1651 205h8v8h-8zM1691 205h8v8h-8zM979 213h24v8h-24zM1011 213h8v8h-8zM1035 213h8v8h-8zM1075 213h8v8h-8zM1571 213h8v8h-8zM1643 213h8v8h-8zM1683 213h8v8h-8zM979 221h16v8h-16zM1003 221h16v8h-16zM1043 221h8v8h-8zM1067 221h8v8h-8zM1035 229h8v8h-8zM1059 229h8v8h-8zM1595 229h8v8h-8zM1635 229h16v8h-16zM1675 229h8v8h-8zM979 237h8v8h-8zM995 237h16v8h-16zM1027 237h8v8h-8zM1059 237h8v8h-8zM1603 237h8v8h-8zM1619 237h8v8h-8zM1643 237h8v8h-8zM1675 237h16v8h-16zM1699 237h8v8h-8zM995 245h8v8h-8zM1019 245h16v8h-16zM1603 245h16v8h-16zM1627 245h24v8h-24zM1667 245h8v8h-8zM1691 245h8v8h-8zM987 253h40v8h-40zM1051 253h8v8h-8zM1603 253h16v8h-16zM1627 253h16v8h-16zM1659 253h8v8h-8zM987 261h8v8h-8zM1003 261h24v8h-24zM1611 261h16v8h-16zM1635 261h8v8h-8zM1659 261h8v8h-8zM1003 269h16v8h-16zM1043 269h8v8h-8zM1651 269h8v8h-8zM1667 269h8v8h-8zM995 277h8v8h-8zM1667 277h16v8h-16zM1643 285h8v8h-8zM1699 285h8v8h-8zM987 293h8v8h-8zM1627 293h8v8h-8zM1643 293h8v8h-8zM1635 301h8v8h-8zM979 309h8v8h-8zM995 309h8v8h-8zM1011 309h8v8h-8zM1635 309h8v8h-8zM1659 309h8v8h-8zM987 317h32v8h-32zM1643 317h24v8h-24zM979 325h8v8h-8zM995 325h24v8h-24zM1643 325h8v8h-8zM1659 325h8v8h-8zM1683 325h8v8h-8zM1699 325h8v8h-8zM995 333h16v8h-16zM995 341h8v8h-8zM1691 341h8v8h-8zM1675 349h8v8h-8zM1691 349h8v8h-8zM987 357h8v8h-8zM1027 357h16v8h-16zM1659 357h8v8h-8zM987 365h8v8h-8zM1011 365h32v8h-32zM1659 365h8v8h-8zM987 373h8v8h-8zM1011 373h16v8h-16zM1667 373h16v8h-16zM979 381h8v8h-8zM1003 381h16v8h-16zM1667 381h8v8h-8zM1011 389h8v8h-8zM1035 389h8v8h-8zM1691 389h16v8h-16zM979 397h8v8h-8zM1027 397h16v8h-16zM1659 397h8v8h-8zM1691 397h8v8h-8zM995 405h8v8h-8zM1027 405h8v8h-8zM1667 405h8v8h-8zM1691 405h16v8h-16zM1051 413h8v8h-8zM1699 413h8v8h-8zM1003 421h8v8h-8zM1683 421h16v8h-16zM1003 429h8v8h-8zM1019 429h8v8h-8zM1683 429h8v8h-8zM995 437h32v8h-32zM1667 437h8v8h-8zM987 445h8v8h-8zM1043 445h16v8h-16zM1331 445h8v8h-8zM1699 445h8v8h-8zM979 453h16v8h-16zM1011 453h8v8h-8zM1035 453h24v8h-24zM1011 461h16v8h-16zM1043 461h8v8h-8zM1675 461h8v8h-8zM1691 461h8v8h-8zM979 469h8v8h-8zM1675 469h8v8h-8zM1691 469h8v8h-8zM1699 477h8v8h-8zM1027 485h8v8h-8zM1091 485h8v8h-8zM1651 485h8v8h-8zM1667 485h16v8h-16zM1083 493h16v8h-16zM1659 493h16v8h-16zM1683 493h8v8h-8zM1067 501h24v8h-24zM1659 501h16v8h-16zM1683 501h8v8h-8zM1027 509h8v8h-8zM1059 509h8v8h-8zM1075 509h8v8h-8zM1667 509h8v8h-8zM1035 517h8v8h-8zM1091 517h16v8h-16zM1667 517h8v8h-8zM1027 525h8v8h-8zM1059 525h8v8h-8zM1091 525h8v8h-8zM1659 525h8v8h-8zM1683 525h24v8h-24zM1083 533h8v8h-8zM1659 533h8v8h-8zM1059 541h16v8h-16zM1099 541h24v8h-24zM1659 541h8v8h-8zM1675 541h16v8h-16zM1699 541h8v8h-8zM1059 549h8v8h-8zM1075 549h8v8h-8zM1091 549h16v8h-16zM1659 549h16v8h-16zM1067 557h32v8h-32zM1675 557h8v8h-8zM1691 557h8v8h-8zM1059 565h8v8h-8zM1651 565h16v8h-16zM1051 573h8v8h-8zM1067 573h8v8h-8zM1115 573h8v8h-8zM1667 573h8v8h-8zM1683 573h8v8h-8zM1099 581h16v8h-16zM1131 581h16v8h-16zM1667 581h8v8h-8zM1683 581h8v8h-8zM1067 589h8v8h-8zM1099 589h8v8h-8zM1115 589h16v8h-16zM1139 589h8v8h-8zM1667 589h8v8h-8zM1683 589h8v8h-8zM1699 589h8v8h-8zM1067 597h8v8h-8zM1091 597h8v8h-8zM1107 597h8v8h-8zM1139 597h8v8h-8zM1683 597h24v8h-24zM1003 605h8v8h-8zM1083 605h16v8h-16zM1115 605h8v8h-8zM1139 605h32v8h-32zM1675 605h24v8h-24zM1043 613h16v8h-16zM1099 613h8v8h-8zM1155 613h8v8h-8zM1171 613h8v8h-8zM1667 613h8v8h-8zM1683 613h16v8h-16zM995 621h8v8h-8zM1067 621h8v8h-8zM1083 621h8v8h-8zM1099 621h16v8h-16zM1123 621h16v8h-16zM1091 629h16v8h-16zM1123 629h16v8h-16zM1171 629h24v8h-24zM1059 637h8v8h-8zM1075 637h8v8h-8zM1115 637h16v8h-16zM1139 637h8v8h-8zM1187 637h8v8h-8zM1203 637h16v8h-16zM1131 645h8v8h-8zM1219 645h8v8h-8zM1043 653h8v8h-8zM1123 653h8v8h-8zM1235 653h24v8h-24zM1115 661h16v8h-16zM1139 661h8v8h-8zM1155 661h8v8h-8zM1171 661h16v8h-16zM1259 661h8v8h-8zM1275 661h16v8h-16zM1091 669h8v8h-8zM1107 669h8v8h-8zM1123 669h8v8h-8zM1171 669h8v8h-8zM1299 669h16v8h-16zM1091 677h8v8h-8zM1131 677h8v8h-8zM1155 677h8v8h-8zM1219 677h8v8h-8zM1251 677h8v8h-8zM1315 677h40v8h-40zM1371 677h8v8h-8zM995 685h8v8h-8zM1027 685h8v8h-8zM1091 685h8v8h-8zM1155 685h16v8h-16zM1235 685h8v8h-8zM1259 685h8v8h-8zM1315 685h8v8h-8zM987 693h16v8h-16zM1035 693h8v8h-8zM1051 693h8v8h-8zM1155 693h8v8h-8zM1211 693h8v8h-8zM1227 693h16v8h-16zM1251 693h8v8h-8zM1307 693h8v8h-8zM1339 693h8v8h-8zM1043 701h24v8h-24zM1083 701h8v8h-8zM1123 701h8v8h-8zM1155 701h8v8h-8zM1219 701h8v8h-8zM1299 701h8v8h-8zM1331 701h8v8h-8zM1355 701h8v8h-8zM1371 701h16v8h-16zM979 709h8v8h-8zM1011 709h16v8h-16zM1051 709h8v8h-8zM1075 709h8v8h-8zM1147 709h8v8h-8zM1179 709h8v8h-8zM1235 709h8v8h-8zM1299 709h8v8h-8zM1331 709h8v8h-8zM1363 709h16v8h-16zM979 717h8v8h-8zM1003 717h8v8h-8zM1019 717h8v8h-8zM1067 717h16v8h-16zM1115 717h8v8h-8zM1171 717h16v8h-16zM1235 717h16v8h-16zM1299 717h8v8h-8zM1355 717h8v8h-8zM1115 725h8v8h-8zM1147 725h8v8h-8zM1171 725h16v8h-16zM1235 725h8v8h-8zM1291 725h8v8h-8zM1339 725h8v8h-8zM1387 725h8v8h-8zM1107 733h16v8h-16zM1163 733h8v8h-8zM1227 733h16v8h-16zM1291 733h8v8h-8zM1339 733h16v8h-16zM1379 733h8v8h-8zM1091 741h8v8h-8zM1115 741h8v8h-8zM1139 741h8v8h-8zM1203 741h8v8h-8zM1227 741h8v8h-8zM1251 741h8v8h-8zM1291 741h8v8h-8zM1339 741h8v8h-8zM1371 741h16v8h-16zM1131 749h16v8h-16zM1155 749h8v8h-8zM1171 749h8v8h-8zM1195 749h8v8h-8zM1219 749h8v8h-8zM1235 749h8v8h-8zM1275 749h8v8h-8zM1339 749h16v8h-16zM1371 749h8v8h-8zM1083 757h8v8h-8zM1107 757h8v8h-8zM1123 757h32v8h-32zM1163 757h8v8h-8zM1195 757h8v8h-8zM1227 757h8v8h-8zM1243 757h8v8h-8zM1283 757h8v8h-8zM1027 765h8v8h-8zM1099 765h8v8h-8zM1115 765h56v8h-56zM1187 765h8v8h-8zM1211 765h16v8h-16zM1243 765h8v8h-8zM1267 765h16v8h-16zM1307 765h8v8h-8zM1019 773h8v8h-8zM1075 773h8v8h-8zM1099 773h8v8h-8zM1123 773h16v8h-16zM1155 773h8v8h-8zM1307 773h8v8h-8zM1323 773h8v8h-8zM1011 781h8v8h-8zM1027 781h8v8h-8zM1051 781h8v8h-8zM1067 781h8v8h-8zM1091 781h32v8h-32zM1131 781h16v8h-16zM1203 781h16v8h-16zM1275 781h8v8h-8zM1323 781h16v8h-16zM1355 781h8v8h-8zM1003 789h16v8h-16zM1043 789h8v8h-8zM1083 789h32v8h-32zM1131 789h8v8h-8zM1155 789h16v8h-16zM1203 789h8v8h-8zM1267 789h8v8h-8zM1299 789h8v8h-8zM1371 789h8v8h-8zM1003 797h8v8h-8zM1019 797h8v8h-8zM1075 797h8v8h-8zM1091 797h8v8h-8zM1107 797h8v8h-8zM1123 797h16v8h-16zM1163 797h8v8h-8zM1195 797h8v8h-8zM1219 797h8v8h-8zM1003 805h8v8h-8zM1059 805h16v8h-16zM1083 805h8v8h-8zM1107 805h8v8h-8zM1187 805h16v8h-16zM1211 805h8v8h-8zM1259 805h16v8h-16zM1371 805h8v8h-8zM979 813h8v8h-8zM1027 813h8v8h-8zM1051 813h16v8h-16zM1083 813h8v8h-8zM1099 813h8v8h-8zM1179 813h16v8h-16zM1211 813h8v8h-8zM1259 813h16v8h-16zM1283 813h16v8h-16zM1347 813h8v8h-8zM1379 813h8v8h-8zM1075 821h16v8h-16zM1099 821h8v8h-8zM1171 821h16v8h-16zM1203 821h8v8h-8zM1259 821h8v8h-8zM1275 821h24v8h-24zM1339 821h16v8h-16zM1363 821h24v8h-24z"/>
<path fill="#80ffb6" d="M987 101h8v8h-8zM1091 101h8v8h-8zM1171 101h16v8h-16zM1211 101h8v8h-8zM1235 101h8v8h-8zM1339 101h8v8h-8zM1355 101h8v8h-8zM1379 101h16v8h-16zM1451 101h8v8h-8zM1555 101h8v8h-8zM1579 101h8v8h-8zM1667 101h8v8h-8zM1691 101h8v8h-8zM987 109h8v8h-8zM1083 109h8v8h-8zM1115 109h8v8h-8zM1131 109h8v8h-8zM1171 109h16v8h-16zM1211 109h24v8h-24zM1371 109h8v8h-8zM1387 109h16v8h-16zM1419 109h8v8h-8zM1443 109h8v8h-8zM1555 109h8v8h-8zM1571 109h8v8h-8zM1587 109h16v8h-16zM1667 109h8v8h-8zM979 117h8v8h-8zM1075 117h16v8h-16zM1107 117h8v8h-8zM1147 117h8v8h-8zM1163 117h8v8h-8zM1195 117h16v8h-16zM1323 117h8v8h-8zM1387 117h8v8h-8zM1539 117h8v8h-8zM1571 117h8v8h-8zM1587 117h8v8h-8zM1659 117h8v8h-8zM1683 117h8v8h-8zM979 125h8v8h-8zM1019 125h8v8h-8zM1067 125h16v8h-16zM1099 125h8v8h-8zM1131 125h8v8h-8zM1155 125h8v8h-8zM1291 125h8v8h-8zM1323 125h8v8h-8zM1419 125h8v8h-8zM1515 125h8v8h-8zM1675 125h8v8h-8zM979 133h8v8h-8zM1011 133h16v8h-16zM1147 133h8v8h-8zM1171 133h8v8h-8zM1291 133h8v8h-8zM1331 133h16v8h-16zM1419 133h8v8h-8zM1435 133h8v8h-8zM1459 133h8v8h-8zM1579 133h8v8h-8zM1667 133h8v8h-8zM1067 141h8v8h-8zM1091 141h8v8h-8zM1123 141h8v8h-8zM1155 141h8v8h-8zM1275 141h16v8h-16zM1315 141h8v8h-8zM1331 141h8v8h-8zM1347 141h8v8h-8zM1387 141h16v8h-16zM1419 141h8v8h-8zM1459 141h8v8h-8zM1483 141h8v8h-8zM1539 141h8v8h-8zM1563 141h8v8h-8zM1003 149h16v8h-16zM1027 149h8v8h-8zM1051 149h8v8h-8zM1091 149h8v8h-8zM1123 149h8v8h-8zM1323 149h16v8h-16zM1379 149h8v8h-8zM1403 149h16v8h-16zM1427 149h8v8h-8zM1451 149h8v8h-8zM1531 149h8v8h-8zM1563 149h8v8h-8zM1627 149h8v8h-8zM1003 157h8v8h-8zM1059 157h8v8h-8zM1083 157h16v8h-16zM1115 157h32v8h-32zM1155 157h8v8h-8zM1243 157h8v8h-8zM1315 157h8v8h-8zM1403 157h8v8h-8zM1427 157h8v8h-8zM1443 157h16v8h-16zM1555 157h8v8h-8zM1627 157h8v8h-8zM995 165h8v8h-8zM1019 165h8v8h-8zM1043 165h8v8h-8zM1147 165h16v8h-16zM1243 165h8v8h-8zM1331 165h8v8h-8zM1363 165h16v8h-16zM1395 165h8v8h-8zM1491 165h8v8h-8zM1019 173h8v8h-8zM1035 173h8v8h-8zM1051 173h8v8h-8zM1139 173h16v8h-16zM1331 173h8v8h-8zM1355 173h16v8h-16zM1451 173h8v8h-8zM1467 173h8v8h-8zM1011 181h8v8h-8zM1027 181h8v8h-8zM1059 181h8v8h-8zM1475 181h24v8h-24zM1563 181h8v8h-8zM1019 189h8v8h-8zM1043 189h8v8h-8zM1059 189h8v8h-8zM1699 189h8v8h-8zM1051 197h16v8h-16zM1555 197h8v8h-8zM987 205h8v8h-8zM1011 205h16v8h-16zM1051 205h8v8h-8zM1075 205h8v8h-8zM1531 205h24v8h-24zM1003 213h8v8h-8zM1019 213h16v8h-16zM1043 213h16v8h-16zM1067 213h8v8h-8zM1555 213h8v8h-8zM1651 213h8v8h-8zM995 221h8v8h-8zM1035 221h8v8h-8zM1059 221h8v8h-8zM1579 221h8v8h-8zM1643 221h8v8h-8zM1683 221h8v8h-8zM987 229h16v8h-16zM1683 229h8v8h-8zM1699 229h8v8h-8zM1035 237h8v8h-8zM1595 237h8v8h-8zM1635 237h8v8h-8zM1691 237h8v8h-8zM979 245h16v8h-16zM1003 245h8v8h-8zM1051 245h16v8h-16zM1595 245h8v8h-8zM1683 245h8v8h-8zM1683 253h8v8h-8zM979 261h8v8h-8zM1043 261h16v8h-16zM1627 261h8v8h-8zM1675 261h8v8h-8zM1611 269h24v8h-24zM1675 269h8v8h-8zM1003 277h16v8h-16zM1619 277h16v8h-16zM995 285h16v8h-16zM1051 285h8v8h-8zM1619 285h8v8h-8zM1043 293h16v8h-16zM1619 293h8v8h-8zM1635 293h8v8h-8zM1699 293h8v8h-8zM1019 301h8v8h-8zM1043 301h8v8h-8zM987 309h8v8h-8zM1019 309h8v8h-8zM1691 309h16v8h-16zM979 317h8v8h-8zM1019 317h8v8h-8zM1691 317h16v8h-16zM1059 325h8v8h-8zM1651 325h8v8h-8zM1011 333h8v8h-8zM1051 333h16v8h-16zM1643 333h8v8h-8zM1683 333h16v8h-16zM1003 341h8v8h-8zM1051 341h8v8h-8zM1651 341h8v8h-8zM995 349h8v8h-8zM1027 349h24v8h-24zM1651 349h8v8h-8zM995 357h8v8h-8zM1019 357h8v8h-8zM1043 357h16v8h-16zM1675 357h16v8h-16zM995 365h8v8h-8zM1067 365h8v8h-8zM1651 365h8v8h-8zM1675 365h8v8h-8zM1699 365h8v8h-8zM1003 373h8v8h-8zM1027 373h8v8h-8zM1059 373h8v8h-8zM1075 373h8v8h-8zM1699 373h8v8h-8zM1019 381h8v8h-8zM1043 381h8v8h-8zM1659 381h8v8h-8zM1699 381h8v8h-8zM1043 389h8v8h-8zM1659 389h8v8h-8zM995 397h8v8h-8zM1011 397h8v8h-8zM1059 397h8v8h-8zM987 405h8v8h-8zM1003 405h8v8h-8zM1035 405h8v8h-8zM1059 405h8v8h-8zM1091 405h8v8h-8zM1659 405h8v8h-8zM979 413h16v8h-16zM1027 413h8v8h-8zM1083 413h8v8h-8zM1115 413h8v8h-8zM1667 413h8v8h-8zM1691 413h8v8h-8zM979 421h8v8h-8zM1019 421h16v8h-16zM1043 421h8v8h-8zM1667 421h8v8h-8zM979 429h8v8h-8zM1011 429h8v8h-8zM1027 429h8v8h-8zM1059 429h8v8h-8zM1667 429h8v8h-8zM979 437h8v8h-8zM1051 437h8v8h-8zM1131 437h8v8h-8zM1659 437h8v8h-8zM979 445h8v8h-8zM1035 445h8v8h-8zM1059 445h16v8h-16zM1091 445h16v8h-16zM1659 445h8v8h-8zM1019 453h16v8h-16zM1059 453h8v8h-8zM1107 453h8v8h-8zM1123 453h8v8h-8zM1699 453h8v8h-8zM1051 461h16v8h-16zM1099 461h8v8h-8zM1043 469h8v8h-8zM1091 469h16v8h-16zM1699 469h8v8h-8zM1035 477h8v8h-8zM1083 477h24v8h-24zM1115 477h8v8h-8zM1651 477h8v8h-8zM1691 477h8v8h-8zM1035 485h8v8h-8zM1083 485h8v8h-8zM1099 485h16v8h-16zM1691 485h8v8h-8zM1075 493h8v8h-8zM1099 493h8v8h-8zM1651 493h8v8h-8zM1035 509h8v8h-8zM1099 509h8v8h-8zM1651 509h8v8h-8zM1027 517h8v8h-8zM1043 517h8v8h-8zM1083 517h8v8h-8zM1083 525h8v8h-8zM1059 533h24v8h-24zM1107 533h8v8h-8zM1683 533h8v8h-8zM1075 541h8v8h-8zM1067 549h8v8h-8zM1083 549h8v8h-8zM1115 549h8v8h-8zM1675 549h8v8h-8zM1059 557h8v8h-8zM1131 557h8v8h-8zM1651 557h8v8h-8zM1667 557h8v8h-8zM1699 557h8v8h-8zM1051 565h8v8h-8zM1075 565h8v8h-8zM1107 565h8v8h-8zM1131 565h8v8h-8zM1667 565h8v8h-8zM1691 565h8v8h-8zM1075 573h8v8h-8zM1131 573h16v8h-16zM1651 573h8v8h-8zM1691 573h8v8h-8zM1651 581h16v8h-16zM1059 589h8v8h-8zM1115 597h8v8h-8zM1147 597h8v8h-8zM1051 605h16v8h-16zM1107 605h8v8h-8zM1171 605h8v8h-8zM1699 605h8v8h-8zM1083 613h8v8h-8zM1107 613h8v8h-8zM1139 613h8v8h-8zM1659 613h8v8h-8zM1675 613h8v8h-8zM1043 621h8v8h-8zM1075 621h8v8h-8zM1171 621h8v8h-8zM1187 621h8v8h-8zM1659 621h32v8h-32zM1067 629h16v8h-16zM1091 637h8v8h-8zM1179 637h8v8h-8zM1195 637h8v8h-8zM1059 645h8v8h-8zM1083 645h16v8h-16zM1171 645h24v8h-24zM1227 645h8v8h-8zM1051 653h8v8h-8zM1067 653h32v8h-32zM1131 653h8v8h-8zM1163 653h24v8h-24zM1259 653h8v8h-8zM1051 661h8v8h-8zM1067 661h8v8h-8zM1083 661h16v8h-16zM1035 669h8v8h-8zM1051 669h8v8h-8zM1163 669h8v8h-8zM1259 669h16v8h-16zM1315 669h8v8h-8zM1339 669h8v8h-8zM1355 669h24v8h-24zM1043 677h8v8h-8zM1123 677h8v8h-8zM1163 677h8v8h-8zM1259 677h8v8h-8zM1035 685h16v8h-16zM1059 685h8v8h-8zM1083 685h8v8h-8zM1219 685h8v8h-8zM1243 685h16v8h-16zM1027 693h8v8h-8zM1043 693h8v8h-8zM1059 693h24v8h-24zM1123 693h8v8h-8zM1219 693h8v8h-8zM1243 693h8v8h-8zM1363 693h16v8h-16zM987 701h8v8h-8zM1027 701h8v8h-8zM1067 701h16v8h-16zM1227 701h24v8h-24zM1363 701h8v8h-8zM1067 709h8v8h-8zM1107 709h8v8h-8zM1355 709h8v8h-8zM1395 709h8v8h-8zM1347 717h8v8h-8zM1387 717h16v8h-16zM1099 725h8v8h-8zM1243 725h16v8h-16zM1347 725h8v8h-8zM1371 725h8v8h-8zM1171 733h8v8h-8zM1243 733h8v8h-8zM1387 733h8v8h-8zM1099 741h16v8h-16zM1163 741h16v8h-16zM1235 741h16v8h-16zM1283 741h8v8h-8zM1403 741h8v8h-8zM1091 749h24v8h-24zM1163 749h8v8h-8zM1227 749h8v8h-8zM1243 749h8v8h-8zM1283 749h8v8h-8zM1379 749h16v8h-16zM1403 749h8v8h-8zM1091 757h8v8h-8zM1155 757h8v8h-8zM1219 757h8v8h-8zM1275 757h8v8h-8zM1339 757h8v8h-8zM1371 757h8v8h-8zM1387 757h8v8h-8zM1403 757h8v8h-8zM1083 765h8v8h-8zM1291 765h8v8h-8zM1331 765h8v8h-8zM1363 765h8v8h-8zM1379 765h8v8h-8zM1027 773h8v8h-8zM1083 773h16v8h-16zM1115 773h8v8h-8zM1139 773h8v8h-8zM1211 773h8v8h-8zM1331 773h8v8h-8zM1355 773h8v8h-8zM1379 773h8v8h-8zM1019 781h8v8h-8zM1083 781h8v8h-8zM1283 781h8v8h-8zM1299 781h8v8h-8zM1371 781h16v8h-16zM1395 781h8v8h-8zM1019 789h8v8h-8zM1051 789h16v8h-16zM1275 789h8v8h-8zM1395 789h8v8h-8zM1011 797h8v8h-8zM1043 797h8v8h-8zM1059 797h16v8h-16zM1155 797h8v8h-8zM1267 797h16v8h-16zM1291 797h8v8h-8zM1387 797h16v8h-16zM1011 805h8v8h-8zM1035 805h8v8h-8zM1051 805h8v8h-8zM1147 805h8v8h-8zM1275 805h16v8h-16zM1379 805h16v8h-16zM1155 813h8v8h-8zM1275 813h8v8h-8zM1371 813h8v8h-8zM1043 821h8v8h-8zM1139 821h8v8h-8zM1403 821h8v8h-8z"/>
<path fill="#80ffa4" d="M1195 101h16v8h-16zM1267 101h8v8h-8zM1299 101h8v8h-8zM1347 101h8v8h-8zM1547 101h8v8h-8zM1587 101h8v8h-8zM1123 109h8v8h-8zM1195 109h8v8h-8zM1235 109h8v8h-8zM1379 109h8v8h-8zM1547 109h8v8h-8zM1579 109h8v8h-8zM1131 117h8v8h-8zM1171 117h8v8h-8zM1403 117h8v8h-8zM1419 117h8v8h-8zM1443 117h8v8h-8zM1579 117h8v8h-8zM1139 125h8v8h-8zM1163 125h8v8h-8zM1179 125h24v8h-24zM1299 125h16v8h-16zM1363 125h8v8h-8zM1523 125h8v8h-8zM1571 125h16v8h-16zM1067 133h8v8h-8zM1123 133h16v8h-16zM1163 133h8v8h-8zM1299 133h8v8h-8zM1355 133h8v8h-8zM1427 133h8v8h-8zM1571 133h8v8h-8zM1011 141h8v8h-8zM1059 141h8v8h-8zM1139 141h8v8h-8zM1267 141h8v8h-8zM1291 141h8v8h-8zM1323 141h8v8h-8zM1411 141h8v8h-8zM1427 141h8v8h-8zM1571 141h8v8h-8zM1099 149h8v8h-8zM1115 149h8v8h-8zM1131 149h16v8h-16zM1163 149h8v8h-8zM1251 149h40v8h-40zM1339 149h16v8h-16zM1371 149h8v8h-8zM1387 149h8v8h-8zM1419 149h8v8h-8zM1187 157h8v8h-8zM1235 157h8v8h-8zM1251 157h8v8h-8zM1323 157h8v8h-8zM1339 157h8v8h-8zM1379 157h8v8h-8zM1419 157h8v8h-8zM1435 157h8v8h-8zM1051 165h8v8h-8zM1107 165h8v8h-8zM1131 165h16v8h-16zM1235 165h8v8h-8zM1275 165h8v8h-8zM1307 165h8v8h-8zM1339 165h8v8h-8zM1387 165h8v8h-8zM1419 165h8v8h-8zM1443 165h16v8h-16zM1475 165h8v8h-8zM1043 173h8v8h-8zM1115 173h8v8h-8zM1155 173h8v8h-8zM1235 173h8v8h-8zM1339 173h16v8h-16zM1035 181h16v8h-16zM1107 181h8v8h-8zM1123 181h16v8h-16zM1195 181h8v8h-8zM1331 181h16v8h-16zM1355 181h16v8h-16zM1451 181h24v8h-24zM1523 181h8v8h-8zM1027 189h16v8h-16zM1147 189h8v8h-8zM1483 189h16v8h-16zM1539 189h8v8h-8zM1019 197h24v8h-24zM1139 197h8v8h-8zM1699 197h8v8h-8zM1027 205h8v8h-8zM1059 205h8v8h-8zM1083 205h8v8h-8zM1155 205h8v8h-8zM1523 205h8v8h-8zM1059 213h8v8h-8zM1547 213h8v8h-8zM1563 213h8v8h-8zM1691 213h8v8h-8zM1051 221h8v8h-8zM1563 221h16v8h-16zM1691 221h16v8h-16zM1011 229h8v8h-8zM1027 229h8v8h-8zM1043 229h8v8h-8zM1587 229h8v8h-8zM1691 229h8v8h-8zM987 237h8v8h-8zM1051 237h8v8h-8zM979 253h8v8h-8zM1595 253h8v8h-8zM1603 261h8v8h-8zM1019 269h8v8h-8zM1035 269h8v8h-8zM1051 269h8v8h-8zM1131 269h8v8h-8zM1035 277h8v8h-8zM1123 277h8v8h-8zM1611 277h8v8h-8zM1123 285h8v8h-8zM1611 285h8v8h-8zM995 293h8v8h-8zM987 301h16v8h-16zM1027 301h16v8h-16zM1051 301h16v8h-16zM1627 301h8v8h-8zM1699 301h8v8h-8zM1003 309h8v8h-8zM1027 309h24v8h-24zM1627 309h8v8h-8zM1059 317h8v8h-8zM1635 317h8v8h-8zM1019 325h8v8h-8zM1691 325h8v8h-8zM1651 333h8v8h-8zM1035 341h16v8h-16zM1683 341h8v8h-8zM1051 349h16v8h-16zM1683 349h8v8h-8zM1131 357h8v8h-8zM1651 357h8v8h-8zM1043 365h8v8h-8zM1643 365h8v8h-8zM995 373h8v8h-8zM1067 373h8v8h-8zM1651 373h8v8h-8zM1051 381h32v8h-32zM987 389h16v8h-16zM1051 389h8v8h-8zM1067 389h16v8h-16zM1019 397h8v8h-8zM1043 397h8v8h-8zM1067 397h8v8h-8zM1651 397h8v8h-8zM979 405h8v8h-8zM1011 405h8v8h-8zM1051 405h8v8h-8zM1083 405h8v8h-8zM1099 405h8v8h-8zM1123 405h16v8h-16zM995 413h16v8h-16zM1035 413h16v8h-16zM1075 413h8v8h-8zM1123 413h8v8h-8zM1659 413h8v8h-8zM987 421h8v8h-8zM1035 421h8v8h-8zM1067 421h8v8h-8zM1107 421h16v8h-16zM1139 421h8v8h-8zM1659 421h8v8h-8zM995 429h8v8h-8zM1099 429h24v8h-24zM1131 429h16v8h-16zM1659 429h8v8h-8zM987 437h8v8h-8zM1043 437h8v8h-8zM1099 437h16v8h-16zM1651 437h8v8h-8zM1019 445h16v8h-16zM1107 445h32v8h-32zM1067 453h8v8h-8zM1083 453h24v8h-24zM1067 461h16v8h-16zM1107 461h16v8h-16zM1147 461h8v8h-8zM1651 461h8v8h-8zM1699 461h8v8h-8zM1115 469h16v8h-16zM1139 469h8v8h-8zM1651 469h8v8h-8zM1107 477h8v8h-8zM1043 485h8v8h-8zM1115 485h8v8h-8zM1035 493h8v8h-8zM1107 493h8v8h-8zM1131 493h8v8h-8zM1035 501h8v8h-8zM1091 501h8v8h-8zM1651 501h8v8h-8zM1043 509h16v8h-16zM1083 509h8v8h-8zM1659 509h8v8h-8zM1075 517h8v8h-8zM1651 517h16v8h-16zM1067 525h16v8h-16zM1083 541h16v8h-16zM1651 541h8v8h-8zM1651 549h8v8h-8zM1699 549h8v8h-8zM1123 557h8v8h-8zM1643 557h8v8h-8zM1115 565h8v8h-8zM1643 565h8v8h-8zM1107 573h8v8h-8zM1147 573h8v8h-8zM1643 573h8v8h-8zM1659 573h8v8h-8zM1067 581h8v8h-8zM1147 581h16v8h-16zM1643 581h8v8h-8zM1147 589h16v8h-16zM1651 589h16v8h-16zM1059 597h8v8h-8zM1155 597h16v8h-16zM1659 597h8v8h-8zM1659 605h8v8h-8zM1699 613h8v8h-8zM1179 621h8v8h-8zM1691 621h8v8h-8zM1195 629h8v8h-8zM1211 629h8v8h-8zM1667 629h24v8h-24zM1067 637h8v8h-8zM1219 637h16v8h-16zM1675 637h8v8h-8zM1067 645h8v8h-8zM1235 645h32v8h-32zM1059 653h8v8h-8zM1043 661h8v8h-8zM1059 661h8v8h-8zM1075 661h8v8h-8zM1131 661h8v8h-8zM1163 661h8v8h-8zM1291 661h8v8h-8zM1043 669h8v8h-8zM1059 669h32v8h-32zM1131 669h8v8h-8zM1323 669h8v8h-8zM1347 669h8v8h-8zM1379 669h8v8h-8zM1035 677h8v8h-8zM1051 677h40v8h-40zM1379 677h8v8h-8zM1051 685h8v8h-8zM1067 685h16v8h-16zM1123 685h8v8h-8zM1371 685h16v8h-16zM1083 693h8v8h-8zM1115 693h8v8h-8zM1379 693h16v8h-16zM1115 709h8v8h-8zM1379 709h8v8h-8zM1403 709h8v8h-8zM1107 725h8v8h-8zM1379 725h8v8h-8zM1395 725h8v8h-8zM1411 725h16v8h-16zM1099 733h8v8h-8zM1251 733h8v8h-8zM1371 733h8v8h-8zM1395 733h32v8h-32zM1387 741h16v8h-16zM1411 741h16v8h-16zM1395 749h8v8h-8zM1411 749h16v8h-16zM1099 757h8v8h-8zM1299 757h16v8h-16zM1379 757h8v8h-8zM1395 757h8v8h-8zM1411 757h8v8h-8zM1091 765h8v8h-8zM1371 765h8v8h-8zM1387 765h32v8h-32zM1291 773h16v8h-16zM1363 773h16v8h-16zM1395 773h16v8h-16zM1075 781h8v8h-8zM1291 781h8v8h-8zM1363 781h8v8h-8zM1403 781h8v8h-8zM1067 789h16v8h-16zM1283 789h16v8h-16zM1403 789h8v8h-8zM1051 797h8v8h-8zM1283 797h8v8h-8zM1379 797h8v8h-8zM1043 805h8v8h-8zM1155 805h8v8h-8zM1395 805h8v8h-8zM1411 805h16v8h-16zM1035 813h16v8h-16zM1387 813h8v8h-8zM1403 813h16v8h-16zM1027 821h16v8h-16zM1147 821h8v8h-8zM1387 821h8v8h-8zM1411 821h8v8h-8z"/>
<path fill="#80ff92" d="M1243 101h8v8h-8zM1259 101h8v8h-8zM1275 101h24v8h-24zM1307 101h8v8h-8zM1331 101h8v8h-8zM1259 109h16v8h-16zM1299 109h8v8h-8zM1323 109h8v8h-8zM1115 117h16v8h-16zM1187 117h8v8h-8zM1211 117h8v8h-8zM1227 117h8v8h-8zM1243 117h8v8h-8zM1307 117h16v8h-16zM1371 117h16v8h-16zM1555 117h8v8h-8zM1123 125h8v8h-8zM1171 125h8v8h-8zM1315 125h8v8h-8zM1435 125h8v8h-8zM1531 125h8v8h-8zM1099 133h8v8h-8zM1155 133h8v8h-8zM1179 133h8v8h-8zM1243 133h8v8h-8zM1275 133h8v8h-8zM1315 133h8v8h-8zM1411 133h8v8h-8zM1099 141h8v8h-8zM1115 141h8v8h-8zM1147 141h8v8h-8zM1219 141h8v8h-8zM1243 141h24v8h-24zM1355 141h8v8h-8zM1379 141h8v8h-8zM1059 149h8v8h-8zM1187 149h16v8h-16zM1211 149h16v8h-16zM1243 149h8v8h-8zM1315 149h8v8h-8zM1355 149h8v8h-8zM1395 149h8v8h-8zM1051 157h8v8h-8zM1163 157h8v8h-8zM1211 157h16v8h-16zM1283 157h8v8h-8zM1347 157h8v8h-8zM1363 157h8v8h-8zM1387 157h8v8h-8zM1411 157h8v8h-8zM1499 157h8v8h-8zM1171 165h16v8h-16zM1323 165h8v8h-8zM1347 165h16v8h-16zM1411 165h8v8h-8zM1435 165h8v8h-8zM1099 173h8v8h-8zM1131 173h8v8h-8zM1163 173h16v8h-16zM1291 173h8v8h-8zM1323 173h8v8h-8zM1371 173h24v8h-24zM1411 173h8v8h-8zM1435 173h16v8h-16zM1139 181h8v8h-8zM1163 181h8v8h-8zM1283 181h8v8h-8zM1323 181h8v8h-8zM1347 181h8v8h-8zM1371 181h8v8h-8zM1187 189h8v8h-8zM1267 189h8v8h-8zM1331 189h16v8h-16zM1459 189h24v8h-24zM1499 189h8v8h-8zM1163 197h8v8h-8zM1131 205h16v8h-16zM1163 205h8v8h-8zM1699 205h8v8h-8zM1083 213h8v8h-8zM1699 213h8v8h-8zM1019 221h16v8h-16zM1075 221h8v8h-8zM1107 221h8v8h-8zM1547 221h16v8h-16zM1051 229h8v8h-8zM1555 229h8v8h-8zM1571 229h16v8h-16zM1587 237h8v8h-8zM1011 245h8v8h-8zM1587 245h8v8h-8zM1027 253h8v8h-8zM1043 253h8v8h-8zM1059 253h8v8h-8zM1059 261h8v8h-8zM1139 261h8v8h-8zM1059 269h8v8h-8zM1603 269h8v8h-8zM1027 277h8v8h-8zM1043 277h16v8h-16zM1131 277h8v8h-8zM1603 277h8v8h-8zM1027 285h8v8h-8zM1035 293h8v8h-8zM1059 293h8v8h-8zM1611 293h8v8h-8zM1003 301h8v8h-8zM1619 301h8v8h-8zM1059 309h8v8h-8zM1619 309h8v8h-8zM1027 317h8v8h-8zM1627 317h8v8h-8zM1051 325h8v8h-8zM1131 325h8v8h-8zM1635 325h8v8h-8zM1123 333h16v8h-16zM1635 333h8v8h-8zM1027 341h8v8h-8zM1643 341h8v8h-8zM1003 349h8v8h-8zM1019 349h8v8h-8zM1131 349h16v8h-16zM1643 349h8v8h-8zM1003 357h16v8h-16zM1059 357h16v8h-16zM1123 357h8v8h-8zM1139 357h8v8h-8zM1643 357h8v8h-8zM1003 365h8v8h-8zM1131 365h16v8h-16zM1051 373h8v8h-8zM1139 373h8v8h-8zM1643 373h8v8h-8zM995 381h8v8h-8zM1635 381h8v8h-8zM1027 389h8v8h-8zM1059 389h8v8h-8zM1651 389h8v8h-8zM987 397h8v8h-8zM1051 397h8v8h-8zM1075 397h24v8h-24zM1107 397h8v8h-8zM1139 397h8v8h-8zM1043 405h8v8h-8zM1067 405h8v8h-8zM1139 405h8v8h-8zM1651 405h8v8h-8zM1139 413h8v8h-8zM995 421h8v8h-8zM1075 421h8v8h-8zM1131 421h8v8h-8zM1651 421h8v8h-8zM987 429h8v8h-8zM1035 429h8v8h-8zM1051 429h8v8h-8zM1123 429h8v8h-8zM1651 429h8v8h-8zM1035 437h8v8h-8zM1067 437h32v8h-32zM1115 437h16v8h-16zM1075 445h16v8h-16zM1651 445h8v8h-8zM1075 453h8v8h-8zM1115 453h8v8h-8zM1147 453h8v8h-8zM1651 453h8v8h-8zM1123 461h24v8h-24zM1051 469h16v8h-16zM1107 469h8v8h-8zM1075 477h8v8h-8zM1139 477h8v8h-8zM1075 485h8v8h-8zM1139 485h8v8h-8zM1643 485h8v8h-8zM1043 493h8v8h-8zM1067 493h8v8h-8zM1139 493h16v8h-16zM1043 501h24v8h-24zM1091 509h8v8h-8zM1643 509h8v8h-8zM1643 517h8v8h-8zM1099 525h8v8h-8zM1651 525h8v8h-8zM1091 533h8v8h-8zM1651 533h8v8h-8zM1123 541h8v8h-8zM1123 549h16v8h-16zM1643 549h8v8h-8zM1115 557h8v8h-8zM1139 557h8v8h-8zM1139 565h16v8h-16zM1163 581h8v8h-8zM1643 589h8v8h-8zM1171 597h8v8h-8zM1643 597h16v8h-16zM1643 605h8v8h-8zM1179 613h16v8h-16zM1195 621h8v8h-8zM1203 629h8v8h-8zM1219 629h16v8h-16zM1659 629h8v8h-8zM1691 629h8v8h-8zM1235 637h32v8h-32zM1659 637h16v8h-16zM1683 637h8v8h-8zM1659 645h24v8h-24zM1267 653h24v8h-24zM1523 653h8v8h-8zM1659 653h16v8h-16zM1267 661h8v8h-8zM1299 661h24v8h-24zM1339 661h24v8h-24zM1371 661h16v8h-16zM1523 661h8v8h-8zM1651 661h24v8h-24zM1331 669h8v8h-8zM1515 669h8v8h-8zM1651 669h16v8h-16zM1699 669h8v8h-8zM1419 677h16v8h-16zM1515 677h8v8h-8zM1547 677h8v8h-8zM1651 677h16v8h-16zM1691 677h16v8h-16zM1387 685h16v8h-16zM1419 685h8v8h-8zM1467 685h8v8h-8zM1523 685h8v8h-8zM1547 685h8v8h-8zM1651 685h8v8h-8zM1403 693h24v8h-24zM1115 701h8v8h-8zM1387 701h40v8h-40zM1459 701h8v8h-8zM1515 701h8v8h-8zM1675 701h8v8h-8zM1699 701h8v8h-8zM1387 709h8v8h-8zM1411 709h24v8h-24zM1515 709h8v8h-8zM1691 709h8v8h-8zM1107 717h8v8h-8zM1379 717h8v8h-8zM1403 717h32v8h-32zM1507 717h8v8h-8zM1667 717h8v8h-8zM1403 725h8v8h-8zM1427 725h8v8h-8zM1507 725h8v8h-8zM1667 725h16v8h-16zM1427 733h8v8h-8zM1659 733h16v8h-16zM1659 741h16v8h-16zM1651 749h16v8h-16zM1419 757h8v8h-8zM1555 757h16v8h-16zM1651 757h16v8h-16zM1299 765h8v8h-8zM1443 765h8v8h-8zM1555 765h16v8h-16zM1651 765h8v8h-8zM1387 773h8v8h-8zM1411 773h8v8h-8zM1443 773h8v8h-8zM1547 773h16v8h-16zM1411 781h8v8h-8zM1435 781h8v8h-8zM1547 781h8v8h-8zM1627 781h8v8h-8zM1643 781h8v8h-8zM1379 789h16v8h-16zM1419 789h24v8h-24zM1451 789h8v8h-8zM1635 789h8v8h-8zM1403 797h32v8h-32zM1451 797h8v8h-8zM1627 797h16v8h-16zM1443 805h8v8h-8zM1627 805h8v8h-8zM1147 813h8v8h-8zM1395 813h8v8h-8zM1419 813h8v8h-8zM1595 813h8v8h-8zM1395 821h8v8h-8zM1587 821h8v8h-8z"/>
<path fill="#80ff80" d="M1251 101h8v8h-8zM1323 101h8v8h-8zM1187 109h8v8h-8zM1251 109h8v8h-8zM1275 109h8v8h-8zM1179 117h8v8h-8zM1219 117h8v8h-8zM1235 117h8v8h-8zM1251 117h16v8h-16zM1107 125h8v8h-8zM1203 125h8v8h-8zM1227 125h8v8h-8zM1243 125h8v8h-8zM1283 125h8v8h-8zM1371 125h8v8h-8zM1115 133h8v8h-8zM1195 133h8v8h-8zM1219 133h8v8h-8zM1235 133h8v8h-8zM1267 133h8v8h-8zM1395 133h8v8h-8zM1107 141h8v8h-8zM1171 141h8v8h-8zM1195 141h8v8h-8zM1211 141h8v8h-8zM1227 141h16v8h-16zM1403 141h8v8h-8zM1203 149h8v8h-8zM1227 149h16v8h-16zM1291 149h8v8h-8zM1363 149h8v8h-8zM1107 157h8v8h-8zM1179 157h8v8h-8zM1227 157h8v8h-8zM1259 157h8v8h-8zM1275 157h8v8h-8zM1331 157h8v8h-8zM1355 157h8v8h-8zM1163 165h8v8h-8zM1211 165h8v8h-8zM1299 165h8v8h-8zM1315 165h8v8h-8zM1379 165h8v8h-8zM1059 173h8v8h-8zM1123 173h8v8h-8zM1179 173h8v8h-8zM1203 173h16v8h-16zM1243 173h8v8h-8zM1299 173h8v8h-8zM1315 173h8v8h-8zM1147 181h16v8h-16zM1171 181h8v8h-8zM1203 181h8v8h-8zM1315 181h8v8h-8zM1435 181h16v8h-16zM1123 189h8v8h-8zM1163 189h24v8h-24zM1275 189h8v8h-8zM1307 189h8v8h-8zM1323 189h8v8h-8zM1347 189h24v8h-24zM1435 189h24v8h-24zM1147 197h16v8h-16zM1171 197h16v8h-16zM1315 197h8v8h-8zM1435 197h16v8h-16zM1459 197h16v8h-16zM1531 197h8v8h-8zM1147 205h8v8h-8zM1115 213h8v8h-8zM1139 213h16v8h-16zM1507 213h16v8h-16zM1531 213h16v8h-16zM1563 229h8v8h-8zM1011 237h16v8h-16zM1595 261h8v8h-8zM1139 269h8v8h-8zM1043 285h8v8h-8zM1059 285h8v8h-8zM1603 285h8v8h-8zM1003 293h8v8h-8zM1019 293h16v8h-16zM1131 293h8v8h-8zM1011 301h8v8h-8zM1123 301h8v8h-8zM1611 301h8v8h-8zM1051 309h8v8h-8zM1123 309h8v8h-8zM1139 309h8v8h-8zM1035 317h8v8h-8zM1051 317h8v8h-8zM1139 317h8v8h-8zM1123 325h8v8h-8zM1139 325h8v8h-8zM1043 333h8v8h-8zM1131 341h8v8h-8zM1147 341h8v8h-8zM1635 341h8v8h-8zM1123 349h8v8h-8zM1635 349h8v8h-8zM1635 357h8v8h-8zM1059 365h8v8h-8zM1075 365h8v8h-8zM1635 365h8v8h-8zM1131 373h8v8h-8zM1635 373h8v8h-8zM1123 381h16v8h-16zM1643 381h16v8h-16zM1019 389h8v8h-8zM1099 397h8v8h-8zM1147 397h8v8h-8zM1643 397h8v8h-8zM1107 405h8v8h-8zM1643 405h8v8h-8zM1059 413h8v8h-8zM1091 413h8v8h-8zM1131 413h8v8h-8zM1643 413h16v8h-16zM1051 421h8v8h-8zM1091 421h8v8h-8zM1147 421h8v8h-8zM1643 421h8v8h-8zM1043 429h8v8h-8zM1083 429h16v8h-16zM1643 429h8v8h-8zM1027 437h8v8h-8zM1059 437h8v8h-8zM1139 437h8v8h-8zM1643 437h8v8h-8zM1643 445h8v8h-8zM1131 453h8v8h-8zM1643 453h8v8h-8zM1091 461h8v8h-8zM1643 461h8v8h-8zM1067 469h8v8h-8zM1083 469h8v8h-8zM1131 469h8v8h-8zM1147 469h8v8h-8zM1043 477h16v8h-16zM1123 477h8v8h-8zM1643 477h8v8h-8zM1051 485h24v8h-24zM1131 485h8v8h-8zM1051 493h16v8h-16zM1643 493h8v8h-8zM1099 501h8v8h-8zM1139 501h8v8h-8zM1643 501h8v8h-8zM1147 509h8v8h-8zM1099 533h8v8h-8zM1131 541h8v8h-8zM1643 541h8v8h-8zM1139 549h16v8h-16zM1147 557h8v8h-8zM1635 565h8v8h-8zM1155 573h8v8h-8zM1635 573h8v8h-8zM1635 581h8v8h-8zM1163 589h16v8h-16zM1635 589h8v8h-8zM1179 597h8v8h-8zM1635 597h8v8h-8zM1179 605h8v8h-8zM1635 605h8v8h-8zM1651 605h8v8h-8zM1195 613h8v8h-8zM1635 613h16v8h-16zM1203 621h24v8h-24zM1627 621h16v8h-16zM1651 621h8v8h-8zM1699 621h8v8h-8zM1651 629h8v8h-8zM1267 645h8v8h-8zM1499 645h8v8h-8zM1531 645h40v8h-40zM1587 645h8v8h-8zM1627 645h8v8h-8zM1291 653h24v8h-24zM1387 653h8v8h-8zM1451 653h8v8h-8zM1491 653h8v8h-8zM1531 653h32v8h-32zM1571 653h16v8h-16zM1627 653h8v8h-8zM1651 653h8v8h-8zM1675 653h8v8h-8zM1323 661h16v8h-16zM1363 661h8v8h-8zM1387 661h8v8h-8zM1435 661h16v8h-16zM1483 661h16v8h-16zM1515 661h8v8h-8zM1531 661h48v8h-48zM1619 661h16v8h-16zM1643 661h8v8h-8zM1699 661h8v8h-8zM1387 669h8v8h-8zM1427 669h24v8h-24zM1475 669h16v8h-16zM1523 669h48v8h-48zM1619 669h8v8h-8zM1691 669h8v8h-8zM1387 677h16v8h-16zM1435 677h16v8h-16zM1475 677h8v8h-8zM1507 677h8v8h-8zM1523 677h24v8h-24zM1555 677h16v8h-16zM1643 677h8v8h-8zM1403 685h16v8h-16zM1427 685h8v8h-8zM1443 685h8v8h-8zM1507 685h16v8h-16zM1531 685h16v8h-16zM1555 685h8v8h-8zM1643 685h8v8h-8zM1683 685h24v8h-24zM1395 693h8v8h-8zM1435 693h8v8h-8zM1459 693h16v8h-16zM1491 693h8v8h-8zM1507 693h48v8h-48zM1635 693h24v8h-24zM1675 693h32v8h-32zM1427 701h16v8h-16zM1451 701h8v8h-8zM1483 701h16v8h-16zM1523 701h24v8h-24zM1571 701h8v8h-8zM1643 701h8v8h-8zM1683 701h16v8h-16zM1435 709h8v8h-8zM1451 709h8v8h-8zM1483 709h16v8h-16zM1507 709h8v8h-8zM1523 709h8v8h-8zM1539 709h8v8h-8zM1563 709h16v8h-16zM1635 709h8v8h-8zM1667 709h24v8h-24zM1699 709h8v8h-8zM1435 717h8v8h-8zM1451 717h8v8h-8zM1475 717h16v8h-16zM1499 717h8v8h-8zM1515 717h24v8h-24zM1563 717h8v8h-8zM1659 717h8v8h-8zM1675 717h24v8h-24zM1443 725h8v8h-8zM1475 725h16v8h-16zM1515 725h16v8h-16zM1563 725h8v8h-8zM1659 725h8v8h-8zM1683 725h8v8h-8zM1467 733h16v8h-16zM1499 733h24v8h-24zM1555 733h8v8h-8zM1651 733h8v8h-8zM1675 733h8v8h-8zM1427 741h8v8h-8zM1467 741h8v8h-8zM1499 741h16v8h-16zM1555 741h8v8h-8zM1571 741h8v8h-8zM1603 741h16v8h-16zM1643 741h16v8h-16zM1459 749h16v8h-16zM1499 749h8v8h-8zM1547 749h32v8h-32zM1595 749h16v8h-16zM1635 749h16v8h-16zM1667 749h8v8h-8zM1427 757h8v8h-8zM1451 757h16v8h-16zM1491 757h8v8h-8zM1547 757h8v8h-8zM1571 757h8v8h-8zM1595 757h16v8h-16zM1635 757h16v8h-16zM1419 765h8v8h-8zM1451 765h24v8h-24zM1483 765h16v8h-16zM1539 765h16v8h-16zM1571 765h8v8h-8zM1587 765h16v8h-16zM1635 765h16v8h-16zM1659 765h8v8h-8zM1419 773h8v8h-8zM1435 773h8v8h-8zM1451 773h40v8h-40zM1539 773h8v8h-8zM1563 773h32v8h-32zM1627 773h40v8h-40zM1387 781h8v8h-8zM1419 781h8v8h-8zM1443 781h48v8h-48zM1531 781h16v8h-16zM1555 781h32v8h-32zM1603 781h8v8h-8zM1619 781h8v8h-8zM1635 781h8v8h-8zM1651 781h8v8h-8zM1411 789h8v8h-8zM1443 789h8v8h-8zM1459 789h8v8h-8zM1475 789h8v8h-8zM1523 789h32v8h-32zM1571 789h8v8h-8zM1595 789h8v8h-8zM1619 789h16v8h-16zM1643 789h8v8h-8zM1435 797h16v8h-16zM1515 797h16v8h-16zM1539 797h16v8h-16zM1563 797h8v8h-8zM1587 797h8v8h-8zM1603 797h8v8h-8zM1619 797h8v8h-8zM1403 805h8v8h-8zM1427 805h8v8h-8zM1507 805h16v8h-16zM1539 805h8v8h-8zM1587 805h40v8h-40zM1667 805h16v8h-16zM1443 813h8v8h-8zM1499 813h24v8h-24zM1531 813h16v8h-16zM1579 813h16v8h-16zM1619 813h16v8h-16zM1667 813h16v8h-16zM1419 821h8v8h-8zM1435 821h8v8h-8zM1491 821h24v8h-24zM1523 821h16v8h-16zM1579 821h8v8h-8zM1595 821h8v8h-8zM1619 821h8v8h-8zM1659 821h16v8h-16zM1691 821h8v8h-8z"/>
<path fill="#90ff80" d="M1315 101h8v8h-8zM1243 109h8v8h-8zM1283 109h8v8h-8zM1307 109h16v8h-16zM1547 117h8v8h-8zM1115 125h8v8h-8zM1211 125h16v8h-16zM1235 125h8v8h-8zM1411 125h8v8h-8zM1107 133h8v8h-8zM1187 133h8v8h-8zM1203 133h16v8h-16zM1227 133h8v8h-8zM1307 133h8v8h-8zM1203 141h8v8h-8zM1299 141h8v8h-8zM1107 149h8v8h-8zM1195 157h16v8h-16zM1307 157h8v8h-8zM1067 165h8v8h-8zM1187 165h8v8h-8zM1219 165h16v8h-16zM1251 165h8v8h-8zM1403 165h8v8h-8zM1427 165h8v8h-8zM1459 165h8v8h-8zM1283 173h8v8h-8zM1403 173h8v8h-8zM1427 173h8v8h-8zM1115 181h8v8h-8zM1395 181h24v8h-24zM1115 189h8v8h-8zM1131 189h16v8h-16zM1155 189h8v8h-8zM1195 189h8v8h-8zM1315 189h8v8h-8zM1395 189h16v8h-16zM1427 189h8v8h-8zM1107 197h8v8h-8zM1259 197h8v8h-8zM1323 197h8v8h-8zM1355 197h8v8h-8zM1451 197h8v8h-8zM1475 197h8v8h-8zM1091 205h8v8h-8zM1123 205h8v8h-8zM1171 205h8v8h-8zM1315 205h8v8h-8zM1515 205h8v8h-8zM1107 213h8v8h-8zM1123 213h16v8h-16zM1155 213h8v8h-8zM1523 213h8v8h-8zM1091 221h16v8h-16zM1115 221h8v8h-8zM1539 221h8v8h-8zM1107 229h8v8h-8zM1547 229h8v8h-8zM1579 237h8v8h-8zM1043 245h8v8h-8zM1587 253h8v8h-8zM1147 261h8v8h-8zM1059 277h8v8h-8zM1155 277h8v8h-8zM1595 277h8v8h-8zM1011 293h8v8h-8zM1123 293h8v8h-8zM1115 301h8v8h-8zM1139 301h8v8h-8zM1603 301h8v8h-8zM1131 309h8v8h-8zM1611 309h8v8h-8zM1131 317h8v8h-8zM1619 317h8v8h-8zM1043 325h8v8h-8zM1627 325h8v8h-8zM1035 333h8v8h-8zM1139 333h16v8h-16zM1627 333h8v8h-8zM1011 341h8v8h-8zM1059 341h8v8h-8zM1139 341h8v8h-8zM1627 341h8v8h-8zM1011 349h8v8h-8zM1147 349h8v8h-8zM1147 357h8v8h-8zM1051 365h8v8h-8zM1147 365h8v8h-8zM1627 365h8v8h-8zM1035 373h8v8h-8zM1115 389h16v8h-16zM1635 389h16v8h-16zM1115 397h8v8h-8zM1075 405h8v8h-8zM1147 405h8v8h-8zM1099 413h16v8h-16zM1147 413h8v8h-8zM1059 421h8v8h-8zM1099 421h8v8h-8zM1123 421h8v8h-8zM1067 429h16v8h-16zM1635 429h8v8h-8zM1139 453h8v8h-8zM1155 453h8v8h-8zM1635 453h8v8h-8zM1083 461h8v8h-8zM1155 461h8v8h-8zM1643 469h8v8h-8zM1059 477h8v8h-8zM1147 477h8v8h-8zM1123 485h8v8h-8zM1147 485h16v8h-16zM1115 493h8v8h-8zM1635 493h8v8h-8zM1635 501h8v8h-8zM1155 509h8v8h-8zM1635 509h8v8h-8zM1643 525h8v8h-8zM1643 533h8v8h-8zM1139 541h16v8h-16zM1635 541h8v8h-8zM1155 549h8v8h-8zM1635 549h8v8h-8zM1155 557h8v8h-8zM1635 557h8v8h-8zM1155 565h8v8h-8zM1163 573h16v8h-16zM1171 581h8v8h-8zM1179 589h8v8h-8zM1627 589h8v8h-8zM1187 597h8v8h-8zM1187 605h16v8h-16zM1203 613h16v8h-16zM1627 613h8v8h-8zM1651 613h8v8h-8zM1227 621h8v8h-8zM1619 621h8v8h-8zM1643 621h8v8h-8zM1235 629h32v8h-32zM1619 629h32v8h-32zM1267 637h8v8h-8zM1507 637h8v8h-8zM1531 637h32v8h-32zM1619 637h24v8h-24zM1275 645h16v8h-16zM1379 645h8v8h-8zM1523 645h8v8h-8zM1579 645h8v8h-8zM1651 645h8v8h-8zM1683 645h8v8h-8zM1315 653h24v8h-24zM1347 653h40v8h-40zM1435 653h16v8h-16zM1483 653h8v8h-8zM1499 653h8v8h-8zM1563 653h8v8h-8zM1587 653h8v8h-8zM1619 653h8v8h-8zM1699 653h8v8h-8zM1395 661h8v8h-8zM1427 661h8v8h-8zM1451 661h8v8h-8zM1475 661h8v8h-8zM1579 661h8v8h-8zM1395 669h8v8h-8zM1507 669h8v8h-8zM1571 669h8v8h-8zM1611 669h8v8h-8zM1643 669h8v8h-8zM1667 669h8v8h-8zM1403 677h8v8h-8zM1467 677h8v8h-8zM1579 677h8v8h-8zM1611 677h16v8h-16zM1683 677h8v8h-8zM1435 685h8v8h-8zM1459 685h8v8h-8zM1499 685h8v8h-8zM1563 685h8v8h-8zM1579 685h8v8h-8zM1611 685h16v8h-16zM1635 685h8v8h-8zM1659 685h8v8h-8zM1675 685h8v8h-8zM1427 693h8v8h-8zM1443 693h8v8h-8zM1499 693h8v8h-8zM1555 693h8v8h-8zM1571 693h16v8h-16zM1611 693h16v8h-16zM1443 701h8v8h-8zM1499 701h16v8h-16zM1547 701h8v8h-8zM1579 701h8v8h-8zM1603 701h16v8h-16zM1635 701h8v8h-8zM1667 701h8v8h-8zM1443 709h8v8h-8zM1459 709h8v8h-8zM1475 709h8v8h-8zM1499 709h8v8h-8zM1531 709h8v8h-8zM1603 709h8v8h-8zM1659 709h8v8h-8zM1443 717h8v8h-8zM1491 717h8v8h-8zM1571 717h8v8h-8zM1619 717h16v8h-16zM1435 725h8v8h-8zM1467 725h8v8h-8zM1491 725h16v8h-16zM1555 725h8v8h-8zM1611 725h16v8h-16zM1651 725h8v8h-8zM1691 725h8v8h-8zM1435 733h16v8h-16zM1483 733h16v8h-16zM1523 733h8v8h-8zM1563 733h16v8h-16zM1603 733h24v8h-24zM1643 733h8v8h-8zM1683 733h8v8h-8zM1435 741h8v8h-8zM1459 741h8v8h-8zM1475 741h24v8h-24zM1515 741h8v8h-8zM1547 741h8v8h-8zM1563 741h8v8h-8zM1579 741h8v8h-8zM1595 741h8v8h-8zM1635 741h8v8h-8zM1675 741h8v8h-8zM1427 749h8v8h-8zM1451 749h8v8h-8zM1491 749h8v8h-8zM1579 749h16v8h-16zM1611 749h8v8h-8zM1699 749h8v8h-8zM1467 757h16v8h-16zM1539 757h8v8h-8zM1579 757h16v8h-16zM1627 757h8v8h-8zM1667 757h8v8h-8zM1699 757h8v8h-8zM1475 765h8v8h-8zM1579 765h8v8h-8zM1603 765h32v8h-32zM1691 765h8v8h-8zM1531 773h8v8h-8zM1595 773h32v8h-32zM1691 773h8v8h-8zM1427 781h8v8h-8zM1523 781h8v8h-8zM1595 781h8v8h-8zM1611 781h8v8h-8zM1683 781h8v8h-8zM1467 789h8v8h-8zM1483 789h8v8h-8zM1515 789h8v8h-8zM1555 789h16v8h-16zM1579 789h8v8h-8zM1603 789h16v8h-16zM1651 789h8v8h-8zM1667 789h24v8h-24zM1475 797h8v8h-8zM1531 797h8v8h-8zM1571 797h8v8h-8zM1595 797h8v8h-8zM1611 797h8v8h-8zM1643 797h8v8h-8zM1667 797h24v8h-24zM1475 805h8v8h-8zM1523 805h16v8h-16zM1563 805h8v8h-8zM1579 805h8v8h-8zM1635 805h8v8h-8zM1435 813h8v8h-8zM1467 813h16v8h-16zM1603 813h16v8h-16zM1659 813h8v8h-8zM1691 813h16v8h-16zM1427 821h8v8h-8zM1467 821h16v8h-16zM1515 821h8v8h-8zM1555 821h8v8h-8zM1571 821h8v8h-8zM1603 821h16v8h-16zM1675 821h8v8h-8zM1699 821h8v8h-8z"/>
<path fill="#a0ff80" d="M1291 109h8v8h-8zM1299 117h8v8h-8zM1187 141h8v8h-8zM1307 141h8v8h-8zM1171 149h8v8h-8zM1299 149h16v8h-16zM1467 149h8v8h-8zM1507 149h8v8h-8zM1099 157h8v8h-8zM1171 157h8v8h-8zM1091 165h8v8h-8zM1227 173h8v8h-8zM1395 173h8v8h-8zM1419 173h8v8h-8zM1179 181h16v8h-16zM1275 181h8v8h-8zM1379 181h8v8h-8zM1427 181h8v8h-8zM1107 189h8v8h-8zM1259 189h8v8h-8zM1411 189h8v8h-8zM1131 197h8v8h-8zM1267 197h8v8h-8zM1291 197h24v8h-24zM1331 197h16v8h-16zM1387 197h24v8h-24zM1427 197h8v8h-8zM1099 205h8v8h-8zM1323 205h8v8h-8zM1091 213h8v8h-8zM1499 213h8v8h-8zM1507 221h16v8h-16zM1531 221h8v8h-8zM1019 229h8v8h-8zM1099 229h8v8h-8zM1195 229h8v8h-8zM1539 229h8v8h-8zM1043 237h8v8h-8zM1571 237h8v8h-8zM1035 245h8v8h-8zM1579 245h8v8h-8zM1155 253h8v8h-8zM1579 253h8v8h-8zM1027 261h16v8h-16zM1587 261h8v8h-8zM1027 269h8v8h-8zM1595 269h8v8h-8zM1019 277h8v8h-8zM1011 285h16v8h-16zM1035 285h8v8h-8zM1139 285h8v8h-8zM1595 285h8v8h-8zM1139 293h8v8h-8zM1603 293h8v8h-8zM1131 301h8v8h-8zM1043 317h8v8h-8zM1123 317h8v8h-8zM1611 317h8v8h-8zM1035 325h8v8h-8zM1619 325h8v8h-8zM1019 341h8v8h-8zM1067 349h8v8h-8zM1627 357h8v8h-8zM1123 365h8v8h-8zM1043 373h8v8h-8zM1083 373h8v8h-8zM1627 373h8v8h-8zM1027 381h16v8h-16zM1627 381h8v8h-8zM1083 389h8v8h-8zM1147 389h8v8h-8zM1131 397h8v8h-8zM1635 397h8v8h-8zM1115 405h8v8h-8zM1635 405h8v8h-8zM1067 413h8v8h-8zM1083 421h8v8h-8zM1635 437h8v8h-8zM1139 445h8v8h-8zM1155 445h8v8h-8zM1635 445h8v8h-8zM1635 461h8v8h-8zM1075 469h8v8h-8zM1067 477h8v8h-8zM1131 477h8v8h-8zM1635 477h8v8h-8zM1635 485h8v8h-8zM1147 501h16v8h-16zM1155 517h8v8h-8zM1635 517h8v8h-8zM1107 525h8v8h-8zM1155 525h16v8h-16zM1147 533h16v8h-16zM1627 533h16v8h-16zM1155 541h8v8h-8zM1627 541h8v8h-8zM1163 565h16v8h-16zM1179 573h8v8h-8zM1179 581h8v8h-8zM1627 581h8v8h-8zM1619 589h8v8h-8zM1195 597h8v8h-8zM1627 597h8v8h-8zM1203 605h8v8h-8zM1627 605h8v8h-8zM1235 621h8v8h-8zM1267 629h16v8h-16zM1699 629h8v8h-8zM1275 637h16v8h-16zM1499 637h8v8h-8zM1515 637h8v8h-8zM1563 637h8v8h-8zM1579 637h24v8h-24zM1643 637h16v8h-16zM1691 637h8v8h-8zM1291 645h16v8h-16zM1443 645h24v8h-24zM1491 645h8v8h-8zM1507 645h8v8h-8zM1571 645h8v8h-8zM1619 645h8v8h-8zM1635 645h8v8h-8zM1339 653h8v8h-8zM1395 653h8v8h-8zM1635 653h16v8h-16zM1403 661h16v8h-16zM1611 661h8v8h-8zM1691 661h8v8h-8zM1403 669h24v8h-24zM1451 669h8v8h-8zM1467 669h8v8h-8zM1491 669h8v8h-8zM1579 669h16v8h-16zM1627 669h16v8h-16zM1411 677h8v8h-8zM1451 677h8v8h-8zM1483 677h8v8h-8zM1499 677h8v8h-8zM1571 677h8v8h-8zM1587 677h8v8h-8zM1627 677h16v8h-16zM1475 685h8v8h-8zM1491 685h8v8h-8zM1571 685h8v8h-8zM1587 685h8v8h-8zM1603 685h8v8h-8zM1627 685h8v8h-8zM1451 693h8v8h-8zM1563 693h8v8h-8zM1603 693h8v8h-8zM1667 693h8v8h-8zM1555 701h16v8h-16zM1627 701h8v8h-8zM1547 709h16v8h-16zM1595 709h8v8h-8zM1619 709h16v8h-16zM1643 709h8v8h-8zM1467 717h8v8h-8zM1539 717h24v8h-24zM1595 717h16v8h-16zM1635 717h8v8h-8zM1651 717h8v8h-8zM1699 717h8v8h-8zM1451 725h8v8h-8zM1531 725h8v8h-8zM1595 725h8v8h-8zM1627 725h8v8h-8zM1699 725h8v8h-8zM1451 733h8v8h-8zM1547 733h8v8h-8zM1579 733h16v8h-16zM1699 733h8v8h-8zM1443 741h8v8h-8zM1587 741h8v8h-8zM1619 741h8v8h-8zM1699 741h8v8h-8zM1435 749h8v8h-8zM1475 749h16v8h-16zM1507 749h8v8h-8zM1627 749h8v8h-8zM1675 749h8v8h-8zM1443 757h8v8h-8zM1483 757h8v8h-8zM1499 757h8v8h-8zM1611 757h16v8h-16zM1691 757h8v8h-8zM1427 765h8v8h-8zM1667 765h8v8h-8zM1699 765h8v8h-8zM1491 773h8v8h-8zM1683 773h8v8h-8zM1587 781h8v8h-8zM1659 781h8v8h-8zM1675 781h8v8h-8zM1691 781h16v8h-16zM1587 789h8v8h-8zM1691 789h8v8h-8zM1467 797h8v8h-8zM1507 797h8v8h-8zM1659 797h8v8h-8zM1435 805h8v8h-8zM1451 805h8v8h-8zM1467 805h8v8h-8zM1499 805h8v8h-8zM1659 805h8v8h-8zM1683 805h8v8h-8zM1699 805h8v8h-8zM1427 813h8v8h-8zM1491 813h8v8h-8zM1523 813h8v8h-8zM1555 813h24v8h-24zM1643 813h8v8h-8zM1443 821h8v8h-8zM1459 821h8v8h-8zM1563 821h8v8h-8zM1643 821h16v8h-16zM1683 821h8v8h-8z"/>
<path fill="#b0ff80" d="M1411 117h8v8h-8zM1251 133h8v8h-8zM1547 133h8v8h-8zM1179 141h8v8h-8zM1179 149h8v8h-8zM1267 157h8v8h-8zM1291 157h8v8h-8zM1099 165h8v8h-8zM1195 165h16v8h-16zM1283 165h8v8h-8zM1187 173h8v8h-8zM1219 173h8v8h-8zM1307 173h8v8h-8zM1211 181h8v8h-8zM1291 181h8v8h-8zM1387 181h8v8h-8zM1419 181h8v8h-8zM1203 189h8v8h-8zM1299 189h8v8h-8zM1371 189h24v8h-24zM1115 197h8v8h-8zM1251 197h8v8h-8zM1363 197h8v8h-8zM1419 197h8v8h-8zM1115 205h8v8h-8zM1243 205h16v8h-16zM1275 205h24v8h-24zM1347 205h8v8h-8zM1419 205h32v8h-32zM1083 221h8v8h-8zM1139 221h8v8h-8zM1203 221h16v8h-16zM1499 221h8v8h-8zM1523 221h8v8h-8zM1531 229h8v8h-8zM1179 237h24v8h-24zM1547 237h24v8h-24zM1571 245h8v8h-8zM1579 261h8v8h-8zM1123 269h8v8h-8zM1163 269h8v8h-8zM1587 269h8v8h-8zM1163 277h8v8h-8zM1131 285h8v8h-8zM1027 325h8v8h-8zM1019 333h16v8h-16zM1619 333h8v8h-8zM1123 341h8v8h-8zM1155 341h8v8h-8zM1627 349h8v8h-8zM1619 365h8v8h-8zM1147 373h16v8h-16zM1619 373h8v8h-8zM1139 381h8v8h-8zM1627 389h8v8h-8zM1123 397h8v8h-8zM1155 413h8v8h-8zM1635 413h8v8h-8zM1635 421h8v8h-8zM1147 429h8v8h-8zM1627 429h8v8h-8zM1627 453h8v8h-8zM1627 461h8v8h-8zM1155 477h8v8h-8zM1155 493h8v8h-8zM1163 501h8v8h-8zM1163 509h8v8h-8zM1163 517h8v8h-8zM1635 525h8v8h-8zM1163 533h8v8h-8zM1171 549h8v8h-8zM1627 549h8v8h-8zM1163 557h8v8h-8zM1179 565h8v8h-8zM1627 565h8v8h-8zM1627 573h8v8h-8zM1187 589h8v8h-8zM1619 597h8v8h-8zM1211 605h8v8h-8zM1219 613h8v8h-8zM1619 613h8v8h-8zM1243 621h32v8h-32zM1283 621h8v8h-8zM1611 621h8v8h-8zM1283 629h8v8h-8zM1507 629h16v8h-16zM1539 629h16v8h-16zM1611 629h8v8h-8zM1291 637h16v8h-16zM1491 637h8v8h-8zM1523 637h8v8h-8zM1571 637h8v8h-8zM1611 637h8v8h-8zM1307 645h32v8h-32zM1347 645h16v8h-16zM1371 645h8v8h-8zM1387 645h8v8h-8zM1595 645h8v8h-8zM1611 645h8v8h-8zM1643 645h8v8h-8zM1403 653h32v8h-32zM1459 653h8v8h-8zM1515 653h8v8h-8zM1611 653h8v8h-8zM1419 661h8v8h-8zM1499 661h8v8h-8zM1587 661h8v8h-8zM1635 661h8v8h-8zM1675 661h8v8h-8zM1683 669h8v8h-8zM1459 677h8v8h-8zM1491 677h8v8h-8zM1603 677h8v8h-8zM1667 677h8v8h-8zM1451 685h8v8h-8zM1667 685h8v8h-8zM1483 693h8v8h-8zM1627 693h8v8h-8zM1467 701h16v8h-16zM1619 701h8v8h-8zM1651 701h16v8h-16zM1579 709h8v8h-8zM1611 709h8v8h-8zM1459 717h8v8h-8zM1611 717h8v8h-8zM1459 725h8v8h-8zM1539 725h16v8h-16zM1571 725h8v8h-8zM1587 725h8v8h-8zM1603 725h8v8h-8zM1459 733h8v8h-8zM1539 733h8v8h-8zM1595 733h8v8h-8zM1627 733h16v8h-16zM1691 733h8v8h-8zM1451 741h8v8h-8zM1627 741h8v8h-8zM1683 741h16v8h-16zM1443 749h8v8h-8zM1539 749h8v8h-8zM1619 749h8v8h-8zM1691 749h8v8h-8zM1507 757h8v8h-8zM1435 765h8v8h-8zM1531 765h8v8h-8zM1427 773h8v8h-8zM1523 773h8v8h-8zM1699 773h8v8h-8zM1515 781h8v8h-8zM1507 789h8v8h-8zM1699 789h8v8h-8zM1459 797h8v8h-8zM1483 797h8v8h-8zM1579 797h8v8h-8zM1651 797h8v8h-8zM1699 797h8v8h-8zM1483 805h16v8h-16zM1547 805h16v8h-16zM1571 805h8v8h-8zM1643 805h16v8h-16zM1451 813h16v8h-16zM1483 813h8v8h-8zM1635 813h8v8h-8zM1651 813h8v8h-8zM1683 813h8v8h-8zM1451 821h8v8h-8zM1483 821h8v8h-8zM1539 821h8v8h-8zM1627 821h16v8h-16z"/>
<path fill="#c0ff80" d="M1267 117h8v8h-8zM1291 117h8v8h-8zM1275 125h8v8h-8zM1499 141h8v8h-8zM1291 165h8v8h-8zM1195 173h8v8h-8zM1307 181h8v8h-8zM1419 189h8v8h-8zM1099 197h8v8h-8zM1283 197h8v8h-8zM1347 197h8v8h-8zM1379 197h8v8h-8zM1411 197h8v8h-8zM1179 205h8v8h-8zM1259 205h16v8h-16zM1355 205h8v8h-8zM1387 205h32v8h-32zM1451 205h8v8h-8zM1499 205h8v8h-8zM1099 213h8v8h-8zM1219 213h8v8h-8zM1267 213h8v8h-8zM1315 213h16v8h-16zM1411 213h8v8h-8zM1491 213h8v8h-8zM1131 221h8v8h-8zM1219 221h8v8h-8zM1203 229h8v8h-8zM1539 237h8v8h-8zM1107 245h8v8h-8zM1179 245h16v8h-16zM1563 245h8v8h-8zM1035 253h8v8h-8zM1147 253h8v8h-8zM1571 253h8v8h-8zM1131 261h8v8h-8zM1579 269h8v8h-8zM1587 277h8v8h-8zM1147 285h8v8h-8zM1595 293h8v8h-8zM1603 309h8v8h-8zM1603 317h8v8h-8zM1147 325h8v8h-8zM1611 325h8v8h-8zM1155 333h8v8h-8zM1155 349h8v8h-8zM1155 365h8v8h-8zM1083 381h8v8h-8zM1131 389h8v8h-8zM1155 389h8v8h-8zM1155 397h8v8h-8zM1627 397h8v8h-8zM1155 405h8v8h-8zM1627 405h8v8h-8zM1627 421h8v8h-8zM1147 437h8v8h-8zM1627 437h8v8h-8zM1147 445h8v8h-8zM1627 445h8v8h-8zM1155 469h8v8h-8zM1627 469h16v8h-16zM1627 493h8v8h-8zM1627 501h8v8h-8zM1147 517h8v8h-8zM1147 525h8v8h-8zM1171 525h8v8h-8zM1115 533h8v8h-8zM1171 533h8v8h-8zM1163 541h16v8h-16zM1619 541h8v8h-8zM1163 549h8v8h-8zM1179 549h8v8h-8zM1171 557h16v8h-16zM1627 557h8v8h-8zM1187 565h8v8h-8zM1619 565h8v8h-8zM1611 573h16v8h-16zM1611 581h16v8h-16zM1195 589h8v8h-8zM1203 597h8v8h-8zM1219 605h16v8h-16zM1619 605h8v8h-8zM1227 613h32v8h-32zM1275 621h8v8h-8zM1603 621h8v8h-8zM1291 629h8v8h-8zM1523 629h16v8h-16zM1555 629h56v8h-56zM1307 637h16v8h-16zM1379 637h8v8h-8zM1603 637h8v8h-8zM1699 637h8v8h-8zM1339 645h8v8h-8zM1363 645h8v8h-8zM1435 645h8v8h-8zM1515 645h8v8h-8zM1603 645h8v8h-8zM1699 645h8v8h-8zM1507 653h8v8h-8zM1595 653h16v8h-16zM1459 661h16v8h-16zM1507 661h8v8h-8zM1595 661h16v8h-16zM1459 669h8v8h-8zM1499 669h8v8h-8zM1595 669h16v8h-16zM1595 677h8v8h-8zM1675 677h8v8h-8zM1483 685h8v8h-8zM1475 693h8v8h-8zM1587 693h8v8h-8zM1659 693h8v8h-8zM1595 701h8v8h-8zM1467 709h8v8h-8zM1651 709h8v8h-8zM1587 717h8v8h-8zM1579 725h8v8h-8zM1635 725h16v8h-16zM1531 733h8v8h-8zM1531 741h16v8h-16zM1515 749h16v8h-16zM1683 749h8v8h-8zM1435 757h8v8h-8zM1523 757h16v8h-16zM1675 757h16v8h-16zM1499 765h8v8h-8zM1523 765h8v8h-8zM1675 765h16v8h-16zM1515 773h8v8h-8zM1667 773h16v8h-16zM1491 781h8v8h-8zM1507 781h8v8h-8zM1667 781h8v8h-8zM1659 789h8v8h-8zM1499 797h8v8h-8zM1555 797h8v8h-8zM1691 797h8v8h-8zM1459 805h8v8h-8zM1691 805h8v8h-8z"/>
<path fill="#d0ff80" d="M1379 125h8v8h-8zM1403 125h8v8h-8zM1259 133h8v8h-8zM1363 133h8v8h-8zM1507 133h8v8h-8zM1371 141h8v8h-8zM1531 141h8v8h-8zM1123 197h8v8h-8zM1275 197h8v8h-8zM1371 197h8v8h-8zM1107 205h8v8h-8zM1307 205h8v8h-8zM1331 205h8v8h-8zM1363 205h8v8h-8zM1379 205h8v8h-8zM1163 213h8v8h-8zM1227 213h24v8h-24zM1259 213h8v8h-8zM1275 213h8v8h-8zM1419 213h8v8h-8zM1227 221h8v8h-8zM1491 221h8v8h-8zM1211 229h8v8h-8zM1515 229h16v8h-16zM1115 237h8v8h-8zM1203 237h8v8h-8zM1531 237h8v8h-8zM1195 245h8v8h-8zM1171 253h8v8h-8zM1187 253h8v8h-8zM1563 253h8v8h-8zM1155 261h32v8h-32zM1571 261h8v8h-8zM1155 269h8v8h-8zM1171 269h8v8h-8zM1115 277h8v8h-8zM1139 277h16v8h-16zM1171 277h8v8h-8zM1171 285h8v8h-8zM1587 285h8v8h-8zM1147 301h8v8h-8zM1595 301h8v8h-8zM1611 333h8v8h-8zM1611 341h16v8h-16zM1611 349h8v8h-8zM1155 357h8v8h-8zM1619 357h8v8h-8zM1123 373h8v8h-8zM1147 381h16v8h-16zM1619 381h8v8h-8zM1619 413h16v8h-16zM1155 421h8v8h-8zM1619 421h8v8h-8zM1163 437h8v8h-8zM1163 445h8v8h-8zM1163 453h8v8h-8zM1619 461h8v8h-8zM1619 469h8v8h-8zM1627 477h8v8h-8zM1627 485h8v8h-8zM1123 493h8v8h-8zM1163 493h8v8h-8zM1627 509h8v8h-8zM1171 517h8v8h-8zM1627 517h8v8h-8zM1627 525h8v8h-8zM1139 533h8v8h-8zM1619 533h8v8h-8zM1179 541h8v8h-8zM1619 549h8v8h-8zM1187 557h8v8h-8zM1195 565h8v8h-8zM1611 565h8v8h-8zM1187 573h16v8h-16zM1187 581h8v8h-8zM1611 589h8v8h-8zM1219 597h16v8h-16zM1235 605h8v8h-8zM1603 613h16v8h-16zM1539 621h32v8h-32zM1595 621h8v8h-8zM1299 629h8v8h-8zM1315 629h8v8h-8zM1499 629h8v8h-8zM1323 637h40v8h-40zM1443 637h16v8h-16zM1395 645h8v8h-8zM1411 645h24v8h-24zM1691 645h8v8h-8zM1475 653h8v8h-8zM1683 653h16v8h-16zM1675 669h8v8h-8zM1595 685h8v8h-8zM1595 693h8v8h-8zM1587 701h8v8h-8zM1587 709h8v8h-8zM1579 717h8v8h-8zM1643 717h8v8h-8zM1523 741h8v8h-8zM1531 749h8v8h-8zM1515 757h8v8h-8zM1507 765h16v8h-16zM1499 773h16v8h-16zM1491 789h16v8h-16zM1491 797h8v8h-8zM1547 813h8v8h-8zM1547 821h8v8h-8z"/>
<path fill="#e0ff80" d="M1283 117h8v8h-8zM1251 125h8v8h-8zM1555 125h8v8h-8zM1299 157h8v8h-8zM1491 157h8v8h-8zM1083 165h8v8h-8zM1467 165h8v8h-8zM1219 181h8v8h-8zM1299 181h8v8h-8zM1283 189h8v8h-8zM1187 197h8v8h-8zM1299 205h8v8h-8zM1371 205h8v8h-8zM1459 205h16v8h-16zM1211 213h8v8h-8zM1251 213h8v8h-8zM1283 213h8v8h-8zM1307 213h8v8h-8zM1331 213h16v8h-16zM1427 213h16v8h-16zM1483 213h8v8h-8zM1123 221h8v8h-8zM1475 221h16v8h-16zM1123 229h8v8h-8zM1507 229h8v8h-8zM1163 245h16v8h-16zM1203 245h8v8h-8zM1539 245h8v8h-8zM1555 245h8v8h-8zM1107 253h8v8h-8zM1179 253h8v8h-8zM1563 261h8v8h-8zM1179 269h16v8h-16zM1571 269h8v8h-8zM1179 277h16v8h-16zM1579 277h8v8h-8zM1147 293h8v8h-8zM1171 293h8v8h-8zM1603 325h8v8h-8zM1163 341h8v8h-8zM1603 341h8v8h-8zM1619 349h8v8h-8zM1611 357h8v8h-8zM1139 389h8v8h-8zM1619 405h8v8h-8zM1155 429h8v8h-8zM1619 429h8v8h-8zM1155 437h8v8h-8zM1619 437h8v8h-8zM1619 453h8v8h-8zM1163 477h8v8h-8zM1619 477h8v8h-8zM1163 485h8v8h-8zM1179 533h8v8h-8zM1187 549h8v8h-8zM1619 557h8v8h-8zM1603 581h8v8h-8zM1203 589h8v8h-8zM1211 597h8v8h-8zM1611 597h8v8h-8zM1243 605h8v8h-8zM1603 605h16v8h-16zM1259 613h8v8h-8zM1299 621h8v8h-8zM1515 621h24v8h-24zM1571 621h24v8h-24zM1307 629h8v8h-8zM1491 629h8v8h-8zM1363 637h8v8h-8zM1387 637h8v8h-8zM1403 645h8v8h-8zM1683 661h8v8h-8zM1499 781h8v8h-8z"/>
<path fill="#efff80" d="M1275 117h8v8h-8zM1387 125h8v8h-8zM1267 181h8v8h-8zM1531 189h8v8h-8zM1067 197h8v8h-8zM1483 197h8v8h-8zM1523 197h8v8h-8zM1339 205h8v8h-8zM1507 205h8v8h-8zM1379 213h16v8h-16zM1403 213h8v8h-8zM1235 221h8v8h-8zM1259 221h8v8h-8zM1283 221h8v8h-8zM1307 221h8v8h-8zM1331 221h8v8h-8zM1219 229h16v8h-16zM1483 229h16v8h-16zM1067 237h8v8h-8zM1171 237h8v8h-8zM1211 237h8v8h-8zM1531 245h8v8h-8zM1547 245h8v8h-8zM1163 253h8v8h-8zM1195 253h8v8h-8zM1555 253h8v8h-8zM1187 261h8v8h-8zM1555 261h8v8h-8zM1115 269h8v8h-8zM1147 269h8v8h-8zM1571 277h8v8h-8zM1115 285h8v8h-8zM1179 285h8v8h-8zM1115 293h8v8h-8zM1587 293h8v8h-8zM1595 309h8v8h-8zM1595 317h8v8h-8zM1603 333h8v8h-8zM1067 341h8v8h-8zM1163 349h8v8h-8zM1603 357h8v8h-8zM1611 365h8v8h-8zM1611 373h8v8h-8zM1611 381h8v8h-8zM1619 389h8v8h-8zM1619 397h8v8h-8zM1611 413h8v8h-8zM1611 445h16v8h-16zM1611 453h8v8h-8zM1163 461h8v8h-8zM1163 469h8v8h-8zM1611 469h8v8h-8zM1619 485h8v8h-8zM1619 493h8v8h-8zM1131 501h8v8h-8zM1171 501h8v8h-8zM1179 525h8v8h-8zM1619 525h8v8h-8zM1611 541h8v8h-8zM1611 549h8v8h-8zM1611 557h8v8h-8zM1603 565h8v8h-8zM1603 573h8v8h-8zM1195 581h16v8h-16zM1211 589h8v8h-8zM1603 589h8v8h-8zM1603 597h8v8h-8zM1563 613h8v8h-8zM1307 621h8v8h-8zM1507 621h8v8h-8zM1339 629h8v8h-8zM1371 637h8v8h-8zM1395 637h16v8h-16zM1435 637h8v8h-8zM1459 637h8v8h-8z"/>
<path fill="#ffff80" d="M1395 125h8v8h-8zM1363 141h8v8h-8zM1475 149h8v8h-8zM1459 157h8v8h-8zM1075 165h8v8h-8zM1267 165h8v8h-8zM1507 189h8v8h-8zM1235 205h8v8h-8zM1347 213h8v8h-8zM1395 213h8v8h-8zM1251 221h8v8h-8zM1275 221h8v8h-8zM1315 221h8v8h-8zM1067 229h8v8h-8zM1115 229h8v8h-8zM1131 229h8v8h-8zM1235 229h8v8h-8zM1499 229h8v8h-8zM1123 237h8v8h-8zM1219 237h8v8h-8zM1211 245h8v8h-8zM1203 253h8v8h-8zM1115 261h8v8h-8zM1195 269h8v8h-8zM1555 269h16v8h-16zM1155 285h8v8h-8zM1187 285h8v8h-8zM1179 293h8v8h-8zM1179 317h8v8h-8zM1595 325h8v8h-8zM1067 333h8v8h-8zM1163 333h16v8h-16zM1595 333h8v8h-8zM1171 341h8v8h-8zM1603 349h8v8h-8zM1163 365h8v8h-8zM1163 373h8v8h-8zM1163 389h8v8h-8zM1611 405h8v8h-8zM1163 421h8v8h-8zM1611 421h8v8h-8zM1163 429h8v8h-8zM1611 437h8v8h-8zM1611 485h8v8h-8zM1139 509h8v8h-8zM1171 509h8v8h-8zM1611 533h8v8h-8zM1187 541h8v8h-8zM1195 557h8v8h-8zM1603 557h8v8h-8zM1203 573h8v8h-8zM1595 581h8v8h-8zM1595 589h8v8h-8zM1595 597h8v8h-8zM1595 605h8v8h-8zM1539 613h24v8h-24zM1571 613h8v8h-8zM1587 613h16v8h-16zM1387 629h24v8h-24zM1443 629h8v8h-8zM1419 637h16v8h-16zM1467 653h8v8h-8z"/>
<path fill="#fff67a" d="M1387 133h8v8h-8zM1539 133h8v8h-8zM1259 165h8v8h-8zM1099 181h8v8h-8zM1099 189h8v8h-8zM1291 189h8v8h-8zM1491 205h8v8h-8zM1291 213h8v8h-8zM1371 213h8v8h-8zM1443 213h8v8h-8zM1243 221h8v8h-8zM1267 221h8v8h-8zM1291 221h16v8h-16zM1323 221h8v8h-8zM1339 221h8v8h-8zM1411 221h16v8h-16zM1187 229h8v8h-8zM1515 237h16v8h-16zM1531 253h24v8h-24zM1195 261h8v8h-8zM1195 277h8v8h-8zM1563 277h8v8h-8zM1579 285h8v8h-8zM1171 301h16v8h-16zM1587 301h8v8h-8zM1587 309h8v8h-8zM1587 317h8v8h-8zM1155 325h8v8h-8zM1171 325h8v8h-8zM1595 341h8v8h-8zM1163 357h8v8h-8zM1603 365h8v8h-8zM1611 389h8v8h-8zM1163 397h8v8h-8zM1611 397h8v8h-8zM1163 413h8v8h-8zM1611 461h8v8h-8zM1611 477h8v8h-8zM1171 493h8v8h-8zM1611 493h8v8h-8zM1107 501h8v8h-8zM1619 501h8v8h-8zM1619 509h8v8h-8zM1619 517h8v8h-8zM1123 533h16v8h-16zM1523 613h16v8h-16zM1579 613h8v8h-8zM1291 621h8v8h-8zM1491 621h16v8h-16zM1451 629h16v8h-16zM1483 629h8v8h-8zM1411 637h8v8h-8z"/>
<path fill="#ffec73" d="M1539 125h8v8h-8zM1371 133h8v8h-8zM1531 133h8v8h-8zM1483 149h8v8h-8zM1499 149h8v8h-8zM1075 197h8v8h-8zM1491 197h8v8h-8zM1355 213h16v8h-16zM1475 213h8v8h-8zM1427 221h8v8h-8zM1467 221h8v8h-8zM1243 229h8v8h-8zM1291 229h8v8h-8zM1467 229h16v8h-16zM1107 237h8v8h-8zM1499 237h16v8h-16zM1219 245h8v8h-8zM1523 245h8v8h-8zM1139 253h8v8h-8zM1211 253h8v8h-8zM1203 261h8v8h-8zM1547 261h8v8h-8zM1555 277h8v8h-8zM1163 285h8v8h-8zM1195 285h8v8h-8zM1571 285h8v8h-8zM1187 293h8v8h-8zM1579 293h8v8h-8zM1571 301h8v8h-8zM1115 309h8v8h-8zM1179 309h8v8h-8zM1179 325h8v8h-8zM1587 325h8v8h-8zM1171 349h8v8h-8zM1595 357h8v8h-8zM1163 381h8v8h-8zM1603 381h8v8h-8zM1603 413h8v8h-8zM1611 429h8v8h-8zM1171 437h8v8h-8zM1171 445h8v8h-8zM1603 445h8v8h-8zM1603 453h8v8h-8zM1171 477h8v8h-8zM1171 485h8v8h-8zM1611 509h8v8h-8zM1107 517h8v8h-8zM1179 517h8v8h-8zM1611 517h8v8h-8zM1611 525h8v8h-8zM1187 533h8v8h-8zM1603 533h8v8h-8zM1195 549h8v8h-8zM1603 549h8v8h-8zM1203 557h8v8h-8zM1595 557h8v8h-8zM1595 565h8v8h-8zM1595 573h8v8h-8zM1587 597h8v8h-8zM1571 605h24v8h-24zM1507 613h16v8h-16zM1483 621h8v8h-8zM1379 629h8v8h-8zM1411 629h16v8h-16zM1435 629h8v8h-8z"/>
<path fill="#ffe36d" d="M1267 125h8v8h-8zM1379 133h8v8h-8zM1523 141h8v8h-8zM1491 149h8v8h-8zM1475 157h8v8h-8zM1091 173h8v8h-8zM1211 189h8v8h-8zM1499 197h8v8h-8zM1475 205h8v8h-8zM1299 213h8v8h-8zM1195 221h8v8h-8zM1403 221h8v8h-8zM1435 221h8v8h-8zM1091 229h8v8h-8zM1251 229h40v8h-40zM1299 229h8v8h-8zM1419 229h8v8h-8zM1459 229h8v8h-8zM1227 237h8v8h-8zM1491 237h8v8h-8zM1227 245h8v8h-8zM1539 261h8v8h-8zM1547 269h8v8h-8zM1547 277h8v8h-8zM1563 285h8v8h-8zM1571 293h8v8h-8zM1187 301h8v8h-8zM1579 301h8v8h-8zM1187 309h8v8h-8zM1579 309h8v8h-8zM1579 317h8v8h-8zM1587 333h8v8h-8zM1603 373h8v8h-8zM1603 389h8v8h-8zM1603 397h8v8h-8zM1163 405h8v8h-8zM1603 405h8v8h-8zM1171 429h8v8h-8zM1603 429h8v8h-8zM1603 437h8v8h-8zM1171 453h8v8h-8zM1603 461h8v8h-8zM1603 469h8v8h-8zM1603 477h8v8h-8zM1603 501h16v8h-16zM1179 509h8v8h-8zM1187 525h8v8h-8zM1603 525h8v8h-8zM1195 541h8v8h-8zM1603 541h8v8h-8zM1595 549h8v8h-8zM1203 565h8v8h-8zM1587 573h8v8h-8zM1587 581h8v8h-8zM1587 589h8v8h-8zM1251 605h8v8h-8zM1539 605h16v8h-16zM1563 605h8v8h-8zM1283 613h8v8h-8zM1491 613h16v8h-16zM1387 621h24v8h-24zM1443 621h8v8h-8zM1475 621h8v8h-8zM1427 629h8v8h-8z"/>
<path fill="#ffd966" d="M1259 125h8v8h-8zM1523 133h8v8h-8zM1507 141h16v8h-16zM1515 189h8v8h-8zM1083 197h8v8h-8zM1243 197h8v8h-8zM1515 197h8v8h-8zM1451 213h8v8h-8zM1467 213h8v8h-8zM1379 221h24v8h-24zM1307 229h16v8h-16zM1427 229h16v8h-16zM1451 229h8v8h-8zM1235 237h8v8h-8zM1467 237h24v8h-24zM1067 245h8v8h-8zM1507 245h16v8h-16zM1523 253h8v8h-8zM1531 261h8v8h-8zM1547 285h16v8h-16zM1195 293h8v8h-8zM1067 301h8v8h-8zM1147 309h8v8h-8zM1171 309h8v8h-8zM1571 309h8v8h-8zM1187 317h8v8h-8zM1579 325h8v8h-8zM1179 333h8v8h-8zM1595 349h8v8h-8zM1171 357h8v8h-8zM1171 365h8v8h-8zM1595 365h8v8h-8zM1323 461h8v8h-8zM1171 469h8v8h-8zM1603 509h8v8h-8zM1603 517h8v8h-8zM1195 533h8v8h-8zM1595 533h8v8h-8zM1203 549h8v8h-8zM1211 557h8v8h-8zM1579 597h8v8h-8zM1555 605h8v8h-8zM1275 613h8v8h-8zM1411 621h8v8h-8zM1435 621h8v8h-8zM1331 629h8v8h-8z"/>
<path fill="#ffd060" d="M1547 125h8v8h-8zM1483 157h8v8h-8zM1523 189h8v8h-8zM1091 197h8v8h-8zM1483 205h8v8h-8zM1347 221h8v8h-8zM1459 221h8v8h-8zM1323 229h16v8h-16zM1411 229h8v8h-8zM1443 229h8v8h-8zM1243 237h8v8h-8zM1275 237h16v8h-16zM1235 245h8v8h-8zM1515 253h8v8h-8zM1563 293h8v8h-8zM1563 301h8v8h-8zM1179 341h8v8h-8zM1587 341h8v8h-8zM1171 373h8v8h-8zM1595 373h8v8h-8zM1171 381h8v8h-8zM1595 381h8v8h-8zM1171 389h8v8h-8zM1171 397h8v8h-8zM1595 405h8v8h-8zM1171 421h8v8h-8zM1603 421h8v8h-8zM1595 477h8v8h-8zM1603 485h8v8h-8zM1603 493h8v8h-8zM1179 501h8v8h-8zM1187 517h8v8h-8zM1595 525h8v8h-8zM1595 541h8v8h-8zM1587 565h8v8h-8zM1579 573h8v8h-8zM1219 589h8v8h-8zM1563 597h16v8h-16zM1515 605h24v8h-24zM1419 621h16v8h-16zM1451 621h24v8h-24zM1323 629h8v8h-8z"/>
<path fill="#ffc856" d="M1515 133h8v8h-8zM1467 157h8v8h-8zM1275 173h8v8h-8zM1227 181h16v8h-16zM1507 197h8v8h-8zM1171 213h8v8h-8zM1203 213h8v8h-8zM1459 213h8v8h-8zM1355 221h24v8h-24zM1443 221h16v8h-16zM1339 229h16v8h-16zM1379 229h8v8h-8zM1395 229h16v8h-16zM1251 237h24v8h-24zM1291 237h16v8h-16zM1419 237h16v8h-16zM1443 237h24v8h-24zM1243 245h24v8h-24zM1491 245h16v8h-16zM1243 253h8v8h-8zM1107 261h8v8h-8zM1523 261h8v8h-8zM1067 269h8v8h-8zM1539 269h8v8h-8zM1539 277h8v8h-8zM1539 285h8v8h-8zM1067 293h8v8h-8zM1555 293h8v8h-8zM1195 301h8v8h-8zM1067 309h8v8h-8zM1195 309h8v8h-8zM1563 309h8v8h-8zM1147 317h8v8h-8zM1171 317h8v8h-8zM1187 325h8v8h-8zM1579 333h8v8h-8zM1587 349h8v8h-8zM1115 357h8v8h-8zM1179 357h8v8h-8zM1587 357h8v8h-8zM1083 365h8v8h-8zM1179 365h8v8h-8zM1587 365h8v8h-8zM1595 389h8v8h-8zM1595 397h8v8h-8zM1595 413h8v8h-8zM1595 453h8v8h-8zM1171 461h8v8h-8zM1331 461h8v8h-8zM1595 461h8v8h-8zM1595 469h8v8h-8zM1179 485h8v8h-8zM1587 485h16v8h-16zM1179 493h8v8h-8zM1595 501h8v8h-8zM1107 509h8v8h-8zM1187 509h8v8h-8zM1595 509h8v8h-8zM1595 517h8v8h-8zM1203 541h8v8h-8zM1211 549h8v8h-8zM1587 549h8v8h-8zM1219 557h8v8h-8zM1587 557h8v8h-8zM1571 581h16v8h-16zM1563 589h24v8h-24zM1555 597h8v8h-8zM1507 605h8v8h-8zM1267 613h8v8h-8zM1435 613h16v8h-16zM1483 613h8v8h-8zM1475 629h8v8h-8z"/>
<path fill="#ffc04d" d="M1251 189h8v8h-8zM1355 229h24v8h-24zM1387 229h8v8h-8zM1307 237h16v8h-16zM1403 237h16v8h-16zM1435 237h8v8h-8zM1267 245h8v8h-8zM1435 245h56v8h-56zM1235 253h8v8h-8zM1251 253h8v8h-8zM1475 253h40v8h-40zM1491 261h32v8h-32zM1107 269h8v8h-8zM1507 269h32v8h-32zM1515 277h24v8h-24zM1067 285h8v8h-8zM1523 285h16v8h-16zM1203 293h8v8h-8zM1531 293h24v8h-24zM1203 301h8v8h-8zM1531 301h32v8h-32zM1531 309h32v8h-32zM1195 317h8v8h-8zM1539 317h8v8h-8zM1555 317h24v8h-24zM1067 325h8v8h-8zM1571 325h8v8h-8zM1571 333h8v8h-8zM1563 341h24v8h-24zM1179 349h8v8h-8zM1563 349h24v8h-24zM1563 357h24v8h-24zM1571 365h16v8h-16zM1179 373h8v8h-8zM1571 373h24v8h-24zM1579 381h16v8h-16zM1571 389h24v8h-24zM1571 397h24v8h-24zM1171 405h8v8h-8zM1587 405h8v8h-8zM1587 413h8v8h-8zM1587 421h16v8h-16zM1587 429h16v8h-16zM1595 437h8v8h-8zM1579 445h24v8h-24zM1587 453h8v8h-8zM1587 469h8v8h-8zM1579 477h16v8h-16zM1587 493h16v8h-16zM1587 501h8v8h-8zM1587 509h8v8h-8zM1587 517h8v8h-8zM1195 525h8v8h-8zM1579 525h16v8h-16zM1203 533h8v8h-8zM1587 533h8v8h-8zM1579 541h16v8h-16zM1579 549h8v8h-8zM1227 557h8v8h-8zM1579 557h8v8h-8zM1235 565h8v8h-8zM1579 565h8v8h-8zM1571 573h8v8h-8zM1555 581h16v8h-16zM1403 589h16v8h-16zM1555 589h8v8h-8zM1403 597h32v8h-32zM1403 605h24v8h-24zM1499 605h8v8h-8zM1395 613h24v8h-24zM1467 613h16v8h-16zM1483 637h8v8h-8z"/>
<path fill="#ffb843" d="M1251 173h8v8h-8zM1243 181h8v8h-8zM1075 237h8v8h-8zM1323 237h48v8h-48zM1387 237h16v8h-16zM1275 245h24v8h-24zM1411 245h24v8h-24zM1115 253h8v8h-8zM1259 253h8v8h-8zM1443 253h8v8h-8zM1459 253h16v8h-16zM1475 261h16v8h-16zM1491 269h16v8h-16zM1499 277h16v8h-16zM1507 285h16v8h-16zM1155 293h16v8h-16zM1515 293h16v8h-16zM1523 301h8v8h-8zM1203 309h8v8h-8zM1523 309h8v8h-8zM1067 317h8v8h-8zM1531 317h8v8h-8zM1547 317h8v8h-8zM1163 325h8v8h-8zM1195 325h8v8h-8zM1539 325h32v8h-32zM1187 333h8v8h-8zM1539 333h32v8h-32zM1547 341h16v8h-16zM1555 349h8v8h-8zM1075 357h8v8h-8zM1187 357h8v8h-8zM1547 357h16v8h-16zM1555 365h16v8h-16zM1555 373h16v8h-16zM1179 381h8v8h-8zM1555 381h24v8h-24zM1091 389h8v8h-8zM1107 389h8v8h-8zM1563 389h8v8h-8zM1563 397h8v8h-8zM1563 405h24v8h-24zM1171 413h8v8h-8zM1571 413h16v8h-16zM1571 421h16v8h-16zM1571 429h16v8h-16zM1179 437h8v8h-8zM1571 437h24v8h-24zM1179 445h8v8h-8zM1571 445h8v8h-8zM1571 453h16v8h-16zM1571 461h24v8h-24zM1571 469h16v8h-16zM1179 477h8v8h-8zM1571 477h8v8h-8zM1571 485h16v8h-16zM1571 493h16v8h-16zM1187 501h8v8h-8zM1571 501h16v8h-16zM1195 509h8v8h-8zM1571 509h16v8h-16zM1195 517h8v8h-8zM1571 517h16v8h-16zM1571 525h8v8h-8zM1571 533h16v8h-16zM1211 541h8v8h-8zM1563 541h16v8h-16zM1219 549h8v8h-8zM1563 549h16v8h-16zM1235 557h8v8h-8zM1443 557h8v8h-8zM1563 557h16v8h-16zM1427 565h32v8h-32zM1555 565h24v8h-24zM1259 573h8v8h-8zM1419 573h32v8h-32zM1555 573h16v8h-16zM1211 581h8v8h-8zM1403 581h40v8h-40zM1395 589h8v8h-8zM1419 589h40v8h-40zM1235 597h8v8h-8zM1435 597h8v8h-8zM1427 605h16v8h-16zM1467 605h32v8h-32zM1419 613h16v8h-16zM1451 613h16v8h-16zM1347 629h8v8h-8zM1483 645h8v8h-8z"/>
<path fill="#ffb03a" d="M1067 173h8v8h-8zM1067 181h8v8h-8zM1219 189h8v8h-8zM1371 237h16v8h-16zM1115 245h8v8h-8zM1299 245h16v8h-16zM1339 245h16v8h-16zM1267 253h8v8h-8zM1435 253h8v8h-8zM1451 253h8v8h-8zM1067 261h8v8h-8zM1251 261h8v8h-8zM1467 261h8v8h-8zM1203 269h8v8h-8zM1467 269h24v8h-24zM1483 277h16v8h-16zM1499 285h8v8h-8zM1507 293h8v8h-8zM1163 301h8v8h-8zM1211 301h8v8h-8zM1515 301h8v8h-8zM1163 309h8v8h-8zM1515 309h8v8h-8zM1155 317h16v8h-16zM1203 317h8v8h-8zM1523 317h8v8h-8zM1115 325h8v8h-8zM1531 325h8v8h-8zM1531 333h8v8h-8zM1187 341h8v8h-8zM1539 341h8v8h-8zM1187 349h8v8h-8zM1547 349h8v8h-8zM1187 365h8v8h-8zM1547 365h8v8h-8zM1547 373h8v8h-8zM1547 381h8v8h-8zM1179 389h8v8h-8zM1555 389h8v8h-8zM1179 397h8v8h-8zM1555 397h8v8h-8zM1563 413h8v8h-8zM1563 437h8v8h-8zM1563 445h8v8h-8zM1179 453h8v8h-8zM1563 453h8v8h-8zM1179 461h8v8h-8zM1563 461h8v8h-8zM1179 469h8v8h-8zM1563 469h8v8h-8zM1563 477h8v8h-8zM1563 485h8v8h-8zM1187 493h8v8h-8zM1563 493h8v8h-8zM1563 501h8v8h-8zM1563 509h8v8h-8zM1563 517h8v8h-8zM1203 525h8v8h-8zM1563 525h8v8h-8zM1555 533h16v8h-16zM1555 541h8v8h-8zM1435 557h8v8h-8zM1555 557h8v8h-8zM1227 565h8v8h-8zM1243 565h8v8h-8zM1411 573h8v8h-8zM1339 581h8v8h-8zM1443 581h24v8h-24zM1459 589h8v8h-8zM1443 597h48v8h-48zM1515 597h8v8h-8zM1443 605h24v8h-24zM1387 613h8v8h-8zM1315 621h8v8h-8zM1467 629h8v8h-8zM1467 645h8v8h-8z"/>
<path fill="#ffa830" d="M1083 181h16v8h-16zM1067 189h8v8h-8zM1083 189h8v8h-8zM1099 237h8v8h-8zM1155 245h8v8h-8zM1315 245h24v8h-24zM1355 245h56v8h-56zM1067 253h8v8h-8zM1219 253h8v8h-8zM1275 253h24v8h-24zM1355 253h8v8h-8zM1427 253h8v8h-8zM1259 261h8v8h-8zM1459 261h8v8h-8zM1251 269h8v8h-8zM1067 277h8v8h-8zM1107 277h8v8h-8zM1467 277h16v8h-16zM1483 285h16v8h-16zM1499 293h8v8h-8zM1155 301h8v8h-8zM1507 301h8v8h-8zM1155 309h8v8h-8zM1211 309h8v8h-8zM1507 309h8v8h-8zM1515 317h8v8h-8zM1523 325h8v8h-8zM1539 349h8v8h-8zM1539 357h8v8h-8zM1539 365h8v8h-8zM1475 381h8v8h-8zM1475 389h8v8h-8zM1547 389h8v8h-8zM1179 405h8v8h-8zM1483 405h16v8h-16zM1555 405h8v8h-8zM1475 413h24v8h-24zM1555 413h8v8h-8zM1563 421h8v8h-8zM1179 429h8v8h-8zM1491 429h8v8h-8zM1563 429h8v8h-8zM1483 437h16v8h-16zM1483 445h24v8h-24zM1315 453h8v8h-8zM1491 453h16v8h-16zM1483 461h24v8h-24zM1555 461h8v8h-8zM1483 469h24v8h-24zM1555 485h8v8h-8zM1555 493h8v8h-8zM1555 501h8v8h-8zM1555 509h8v8h-8zM1203 517h8v8h-8zM1555 517h8v8h-8zM1555 525h8v8h-8zM1211 533h8v8h-8zM1219 541h8v8h-8zM1227 549h8v8h-8zM1443 549h8v8h-8zM1243 557h8v8h-8zM1451 557h8v8h-8zM1251 565h8v8h-8zM1419 565h8v8h-8zM1403 573h8v8h-8zM1451 573h16v8h-16zM1307 581h32v8h-32zM1347 581h8v8h-8zM1395 581h8v8h-8zM1467 581h8v8h-8zM1467 589h8v8h-8zM1483 589h8v8h-8zM1395 597h8v8h-8zM1491 597h8v8h-8zM1523 597h8v8h-8zM1547 597h8v8h-8z"/>
<path fill="#ff9e24" d="M1075 173h16v8h-16zM1259 181h8v8h-8zM1091 189h8v8h-8zM1219 205h8v8h-8zM1075 229h8v8h-8zM1091 237h8v8h-8zM1091 245h8v8h-8zM1299 253h8v8h-8zM1339 253h16v8h-16zM1363 253h16v8h-16zM1411 253h16v8h-16zM1123 261h8v8h-8zM1211 261h8v8h-8zM1267 261h8v8h-8zM1435 261h24v8h-24zM1259 269h8v8h-8zM1459 269h8v8h-8zM1075 285h8v8h-8zM1203 285h8v8h-8zM1467 285h16v8h-16zM1075 293h8v8h-8zM1211 293h8v8h-8zM1491 293h8v8h-8zM1219 301h8v8h-8zM1499 301h8v8h-8zM1115 317h8v8h-8zM1507 317h8v8h-8zM1203 325h8v8h-8zM1515 325h8v8h-8zM1195 333h8v8h-8zM1523 333h8v8h-8zM1531 341h8v8h-8zM1443 349h8v8h-8zM1531 349h8v8h-8zM1451 357h32v8h-32zM1467 365h24v8h-24zM1187 373h8v8h-8zM1467 373h32v8h-32zM1539 373h8v8h-8zM1115 381h8v8h-8zM1467 381h8v8h-8zM1483 381h16v8h-16zM1539 381h8v8h-8zM1467 389h8v8h-8zM1483 389h16v8h-16zM1539 389h8v8h-8zM1475 397h24v8h-24zM1547 397h8v8h-8zM1475 405h8v8h-8zM1499 405h8v8h-8zM1547 405h8v8h-8zM1179 413h8v8h-8zM1179 421h8v8h-8zM1475 421h24v8h-24zM1555 421h8v8h-8zM1483 429h8v8h-8zM1499 429h8v8h-8zM1555 429h8v8h-8zM1475 437h8v8h-8zM1499 437h8v8h-8zM1555 437h8v8h-8zM1475 445h8v8h-8zM1507 445h8v8h-8zM1555 445h8v8h-8zM1475 453h16v8h-16zM1507 453h8v8h-8zM1555 453h8v8h-8zM1475 461h8v8h-8zM1507 461h8v8h-8zM1475 469h8v8h-8zM1507 469h8v8h-8zM1555 469h8v8h-8zM1475 477h40v8h-40zM1555 477h8v8h-8zM1187 485h8v8h-8zM1195 501h8v8h-8zM1203 509h8v8h-8zM1547 509h8v8h-8zM1547 517h8v8h-8zM1211 525h8v8h-8zM1547 525h8v8h-8zM1235 549h8v8h-8zM1435 549h8v8h-8zM1427 557h8v8h-8zM1235 573h8v8h-8zM1251 573h8v8h-8zM1467 573h8v8h-8zM1355 581h16v8h-16zM1475 581h8v8h-8zM1315 589h8v8h-8zM1475 589h8v8h-8zM1307 613h8v8h-8zM1363 629h8v8h-8z"/>
<path fill="#ff9418" d="M1075 181h8v8h-8zM1075 189h8v8h-8zM1227 205h8v8h-8zM1179 213h8v8h-8zM1147 221h8v8h-8zM1083 229h8v8h-8zM1083 237h8v8h-8zM1083 245h8v8h-8zM1099 245h8v8h-8zM1099 253h8v8h-8zM1307 253h32v8h-32zM1379 253h8v8h-8zM1395 253h16v8h-16zM1275 261h16v8h-16zM1339 261h32v8h-32zM1419 261h16v8h-16zM1443 269h16v8h-16zM1099 277h8v8h-8zM1251 277h8v8h-8zM1459 277h8v8h-8zM1099 285h16v8h-16zM1243 285h8v8h-8zM1459 285h8v8h-8zM1091 293h8v8h-8zM1483 293h8v8h-8zM1091 301h16v8h-16zM1227 301h8v8h-8zM1331 301h32v8h-32zM1491 301h8v8h-8zM1091 309h24v8h-24zM1331 309h48v8h-48zM1387 309h16v8h-16zM1091 317h16v8h-16zM1211 317h8v8h-8zM1395 317h16v8h-16zM1099 325h8v8h-8zM1507 325h8v8h-8zM1115 333h8v8h-8zM1435 333h8v8h-8zM1515 333h8v8h-8zM1195 341h8v8h-8zM1435 341h32v8h-32zM1523 341h8v8h-8zM1115 349h8v8h-8zM1195 349h8v8h-8zM1435 349h8v8h-8zM1451 349h32v8h-32zM1195 357h8v8h-8zM1443 357h8v8h-8zM1483 357h8v8h-8zM1531 357h8v8h-8zM1115 365h8v8h-8zM1451 365h16v8h-16zM1491 365h8v8h-8zM1531 365h8v8h-8zM1459 373h8v8h-8zM1499 373h8v8h-8zM1187 381h8v8h-8zM1499 381h8v8h-8zM1531 381h8v8h-8zM1187 389h8v8h-8zM1499 389h8v8h-8zM1467 397h8v8h-8zM1499 397h16v8h-16zM1507 405h8v8h-8zM1467 413h8v8h-8zM1499 413h8v8h-8zM1547 413h8v8h-8zM1467 421h8v8h-8zM1499 421h32v8h-32zM1547 421h8v8h-8zM1475 429h8v8h-8zM1507 429h16v8h-16zM1187 437h8v8h-8zM1507 437h16v8h-16zM1515 445h8v8h-8zM1547 445h8v8h-8zM1515 453h8v8h-8zM1547 453h8v8h-8zM1187 461h8v8h-8zM1515 461h8v8h-8zM1547 461h8v8h-8zM1187 469h8v8h-8zM1515 469h8v8h-8zM1547 469h8v8h-8zM1187 477h8v8h-8zM1515 477h8v8h-8zM1507 485h8v8h-8zM1547 485h8v8h-8zM1195 493h8v8h-8zM1547 493h8v8h-8zM1115 501h8v8h-8zM1203 501h8v8h-8zM1547 501h8v8h-8zM1539 509h8v8h-8zM1211 517h8v8h-8zM1219 533h8v8h-8zM1435 541h8v8h-8zM1243 549h8v8h-8zM1555 549h8v8h-8zM1251 557h8v8h-8zM1419 557h8v8h-8zM1259 565h16v8h-16zM1411 565h8v8h-8zM1267 573h16v8h-16zM1307 573h64v8h-64zM1395 573h8v8h-8zM1475 573h8v8h-8zM1491 589h8v8h-8zM1499 597h8v8h-8z"/>
<path fill="#ff8a0c" d="M1195 197h8v8h-8zM1163 221h8v8h-8zM1187 221h8v8h-8zM1131 237h8v8h-8zM1075 245h8v8h-8zM1091 253h8v8h-8zM1131 253h8v8h-8zM1227 253h8v8h-8zM1387 253h8v8h-8zM1243 261h8v8h-8zM1291 261h8v8h-8zM1315 261h24v8h-24zM1371 261h8v8h-8zM1411 261h8v8h-8zM1099 269h8v8h-8zM1267 269h16v8h-16zM1331 269h40v8h-40zM1419 269h24v8h-24zM1075 277h8v8h-8zM1091 277h8v8h-8zM1259 277h8v8h-8zM1331 277h16v8h-16zM1451 277h8v8h-8zM1083 285h16v8h-16zM1323 285h24v8h-24zM1451 285h8v8h-8zM1083 293h8v8h-8zM1099 293h8v8h-8zM1307 293h64v8h-64zM1459 293h24v8h-24zM1075 301h16v8h-16zM1107 301h8v8h-8zM1307 301h24v8h-24zM1363 301h32v8h-32zM1483 301h8v8h-8zM1075 309h16v8h-16zM1219 309h8v8h-8zM1315 309h16v8h-16zM1379 309h8v8h-8zM1403 309h24v8h-24zM1491 309h16v8h-16zM1075 317h16v8h-16zM1107 317h8v8h-8zM1355 317h40v8h-40zM1411 317h24v8h-24zM1499 317h8v8h-8zM1091 325h8v8h-8zM1107 325h8v8h-8zM1403 325h48v8h-48zM1499 325h8v8h-8zM1083 333h8v8h-8zM1107 333h8v8h-8zM1203 333h8v8h-8zM1427 333h8v8h-8zM1443 333h8v8h-8zM1507 333h8v8h-8zM1075 341h24v8h-24zM1467 341h8v8h-8zM1515 341h8v8h-8zM1075 349h8v8h-8zM1091 349h8v8h-8zM1107 349h8v8h-8zM1483 349h8v8h-8zM1523 349h8v8h-8zM1083 357h16v8h-16zM1107 357h8v8h-8zM1491 357h8v8h-8zM1515 357h16v8h-16zM1091 365h8v8h-8zM1195 365h8v8h-8zM1499 365h16v8h-16zM1091 373h8v8h-8zM1195 373h8v8h-8zM1451 373h8v8h-8zM1531 373h8v8h-8zM1091 381h8v8h-8zM1459 381h8v8h-8zM1507 381h8v8h-8zM1459 389h8v8h-8zM1507 389h32v8h-32zM1515 397h32v8h-32zM1467 405h8v8h-8zM1515 405h8v8h-8zM1539 405h8v8h-8zM1507 413h40v8h-40zM1531 421h16v8h-16zM1187 429h8v8h-8zM1467 429h8v8h-8zM1523 429h8v8h-8zM1547 429h8v8h-8zM1467 437h8v8h-8zM1523 437h32v8h-32zM1187 445h8v8h-8zM1467 445h8v8h-8zM1523 445h24v8h-24zM1187 453h8v8h-8zM1467 453h8v8h-8zM1523 453h24v8h-24zM1195 461h8v8h-8zM1467 461h8v8h-8zM1523 461h24v8h-24zM1467 469h8v8h-8zM1523 469h24v8h-24zM1523 477h8v8h-8zM1539 477h16v8h-16zM1195 485h8v8h-8zM1515 485h16v8h-16zM1539 493h8v8h-8zM1539 501h8v8h-8zM1123 509h8v8h-8zM1539 517h8v8h-8zM1139 525h8v8h-8zM1219 525h8v8h-8zM1547 533h8v8h-8zM1227 541h8v8h-8zM1443 541h8v8h-8zM1427 549h8v8h-8zM1259 557h8v8h-8zM1411 557h8v8h-8zM1275 565h8v8h-8zM1395 565h16v8h-16zM1459 565h8v8h-8zM1283 573h24v8h-24zM1547 573h8v8h-8zM1323 589h8v8h-8zM1379 621h8v8h-8zM1355 629h8v8h-8zM1467 637h8v8h-8z"/>
<path fill="#ff8000" d="M1211 205h8v8h-8zM1155 221h8v8h-8zM1075 253h16v8h-16zM1091 261h16v8h-16zM1299 261h16v8h-16zM1379 261h32v8h-32zM1075 269h8v8h-8zM1091 269h8v8h-8zM1283 269h24v8h-24zM1315 269h16v8h-16zM1371 269h48v8h-48zM1267 277h16v8h-16zM1315 277h16v8h-16zM1347 277h24v8h-24zM1411 277h40v8h-40zM1251 285h16v8h-16zM1315 285h8v8h-8zM1347 285h48v8h-48zM1435 285h16v8h-16zM1107 293h8v8h-8zM1219 293h8v8h-8zM1243 293h8v8h-8zM1299 293h8v8h-8zM1371 293h16v8h-16zM1403 293h8v8h-8zM1435 293h24v8h-24zM1235 301h8v8h-8zM1291 301h16v8h-16zM1395 301h88v8h-88zM1227 309h8v8h-8zM1299 309h16v8h-16zM1427 309h16v8h-16zM1467 309h24v8h-24zM1315 317h40v8h-40zM1435 317h24v8h-24zM1491 317h8v8h-8zM1075 325h16v8h-16zM1211 325h8v8h-8zM1395 325h8v8h-8zM1451 325h8v8h-8zM1483 325h16v8h-16zM1075 333h8v8h-8zM1091 333h16v8h-16zM1419 333h8v8h-8zM1451 333h56v8h-56zM1099 341h24v8h-24zM1427 341h8v8h-8zM1475 341h40v8h-40zM1083 349h8v8h-8zM1099 349h8v8h-8zM1491 349h32v8h-32zM1099 357h8v8h-8zM1435 357h8v8h-8zM1499 357h16v8h-16zM1099 365h16v8h-16zM1443 365h8v8h-8zM1515 365h16v8h-16zM1099 373h8v8h-8zM1507 373h24v8h-24zM1099 381h16v8h-16zM1515 381h16v8h-16zM1099 389h8v8h-8zM1187 397h8v8h-8zM1459 397h8v8h-8zM1187 405h8v8h-8zM1523 405h16v8h-16zM1187 413h8v8h-8zM1187 421h8v8h-8zM1459 421h8v8h-8zM1531 429h16v8h-16zM1195 469h8v8h-8zM1467 477h8v8h-8zM1531 477h8v8h-8zM1499 485h8v8h-8zM1531 485h16v8h-16zM1203 493h8v8h-8zM1515 493h16v8h-16zM1123 501h8v8h-8zM1131 509h8v8h-8zM1211 509h8v8h-8zM1531 509h8v8h-8zM1219 517h8v8h-8zM1459 525h8v8h-8zM1539 525h8v8h-8zM1227 533h8v8h-8zM1435 533h8v8h-8zM1235 541h8v8h-8zM1307 541h32v8h-32zM1427 541h8v8h-8zM1251 549h16v8h-16zM1339 549h8v8h-8zM1419 549h8v8h-8zM1267 557h24v8h-24zM1403 557h8v8h-8zM1219 565h8v8h-8zM1283 565h8v8h-8zM1315 565h16v8h-16zM1355 565h24v8h-24zM1547 565h8v8h-8zM1227 573h8v8h-8zM1507 573h8v8h-8zM1259 581h8v8h-8zM1283 581h24v8h-24zM1387 581h8v8h-8zM1483 581h8v8h-8zM1515 581h8v8h-8zM1227 589h8v8h-8zM1307 589h8v8h-8zM1387 589h8v8h-8zM1515 589h16v8h-16zM1243 597h8v8h-8zM1291 613h16v8h-16z"/>
<path fill="#f47502" d="M1219 197h8v8h-8zM1235 197h8v8h-8zM1171 229h16v8h-16zM1075 261h16v8h-16zM1083 269h8v8h-8zM1307 269h8v8h-8zM1083 277h8v8h-8zM1203 277h8v8h-8zM1283 277h32v8h-32zM1371 277h40v8h-40zM1235 285h8v8h-8zM1267 285h16v8h-16zM1299 285h16v8h-16zM1395 285h40v8h-40zM1235 293h8v8h-8zM1251 293h8v8h-8zM1291 293h8v8h-8zM1387 293h16v8h-16zM1411 293h24v8h-24zM1283 301h8v8h-8zM1283 309h16v8h-16zM1443 309h24v8h-24zM1219 317h8v8h-8zM1299 317h16v8h-16zM1459 317h32v8h-32zM1387 325h8v8h-8zM1459 325h24v8h-24zM1211 333h8v8h-8zM1403 333h16v8h-16zM1203 341h8v8h-8zM1203 349h8v8h-8zM1427 349h8v8h-8zM1107 373h16v8h-16zM1443 373h8v8h-8zM1195 381h8v8h-8zM1451 381h8v8h-8zM1459 405h8v8h-8zM1459 413h8v8h-8zM1195 429h8v8h-8zM1459 429h8v8h-8zM1195 437h8v8h-8zM1459 445h8v8h-8zM1195 453h8v8h-8zM1459 453h8v8h-8zM1459 461h8v8h-8zM1195 477h8v8h-8zM1203 485h8v8h-8zM1459 485h24v8h-24zM1507 493h8v8h-8zM1531 493h8v8h-8zM1211 501h8v8h-8zM1115 509h8v8h-8zM1523 509h8v8h-8zM1123 517h16v8h-16zM1459 517h8v8h-8zM1451 525h8v8h-8zM1235 533h8v8h-8zM1291 533h8v8h-8zM1307 533h16v8h-16zM1483 533h8v8h-8zM1523 533h8v8h-8zM1243 541h16v8h-16zM1299 541h8v8h-8zM1339 541h32v8h-32zM1523 541h8v8h-8zM1267 549h8v8h-8zM1291 549h48v8h-48zM1347 549h8v8h-8zM1403 549h16v8h-16zM1491 549h8v8h-8zM1531 549h8v8h-8zM1291 557h16v8h-16zM1323 557h16v8h-16zM1371 557h32v8h-32zM1483 557h16v8h-16zM1291 565h24v8h-24zM1331 565h24v8h-24zM1467 565h8v8h-8zM1491 565h8v8h-8zM1507 565h8v8h-8zM1539 565h8v8h-8zM1243 573h8v8h-8zM1499 573h8v8h-8zM1539 573h8v8h-8zM1507 581h8v8h-8zM1547 581h8v8h-8zM1363 589h8v8h-8zM1547 589h8v8h-8zM1259 605h8v8h-8zM1323 605h8v8h-8zM1339 605h8v8h-8zM1395 605h8v8h-8zM1315 613h8v8h-8zM1475 637h8v8h-8zM1475 645h8v8h-8z"/>
<path fill="#e96a03" d="M1259 173h16v8h-16zM1251 181h8v8h-8zM1203 197h8v8h-8zM1187 213h8v8h-8zM1139 229h8v8h-8zM1123 245h24v8h-24zM1235 261h8v8h-8zM1243 277h8v8h-8zM1283 285h16v8h-16zM1259 293h32v8h-32zM1243 301h16v8h-16zM1235 309h8v8h-8zM1275 309h8v8h-8zM1283 317h16v8h-16zM1219 325h8v8h-8zM1291 325h16v8h-16zM1363 325h8v8h-8zM1379 325h8v8h-8zM1419 341h8v8h-8zM1203 357h8v8h-8zM1203 365h8v8h-8zM1435 365h8v8h-8zM1195 389h8v8h-8zM1451 389h8v8h-8zM1195 397h8v8h-8zM1451 397h8v8h-8zM1195 405h8v8h-8zM1195 413h8v8h-8zM1211 421h16v8h-16zM1203 429h8v8h-8zM1459 437h8v8h-8zM1219 445h8v8h-8zM1203 453h8v8h-8zM1339 453h8v8h-8zM1459 469h8v8h-8zM1459 477h8v8h-8zM1491 485h8v8h-8zM1211 493h8v8h-8zM1451 493h16v8h-16zM1475 493h16v8h-16zM1483 501h8v8h-8zM1515 501h16v8h-16zM1219 509h8v8h-8zM1115 517h8v8h-8zM1139 517h8v8h-8zM1227 517h8v8h-8zM1267 517h8v8h-8zM1491 517h16v8h-16zM1531 517h8v8h-8zM1131 525h8v8h-8zM1227 525h8v8h-8zM1251 525h48v8h-48zM1483 525h16v8h-16zM1243 533h8v8h-8zM1259 533h32v8h-32zM1299 533h8v8h-8zM1323 533h16v8h-16zM1355 533h40v8h-40zM1427 533h8v8h-8zM1443 533h24v8h-24zM1475 533h8v8h-8zM1491 533h8v8h-8zM1515 533h8v8h-8zM1259 541h24v8h-24zM1291 541h8v8h-8zM1371 541h8v8h-8zM1419 541h8v8h-8zM1491 541h32v8h-32zM1531 541h8v8h-8zM1275 549h16v8h-16zM1355 549h8v8h-8zM1379 549h24v8h-24zM1451 549h16v8h-16zM1499 549h16v8h-16zM1523 549h8v8h-8zM1307 557h16v8h-16zM1339 557h32v8h-32zM1459 557h8v8h-8zM1475 557h8v8h-8zM1523 557h16v8h-16zM1211 565h8v8h-8zM1379 565h16v8h-16zM1475 565h16v8h-16zM1499 565h8v8h-8zM1515 565h8v8h-8zM1531 565h8v8h-8zM1371 573h8v8h-8zM1483 573h8v8h-8zM1515 573h8v8h-8zM1251 581h8v8h-8zM1275 581h8v8h-8zM1491 581h16v8h-16zM1523 581h8v8h-8zM1251 589h8v8h-8zM1339 589h8v8h-8zM1499 589h8v8h-8zM1315 597h16v8h-16zM1363 597h8v8h-8zM1507 597h8v8h-8zM1291 605h8v8h-8zM1315 605h8v8h-8zM1331 605h8v8h-8zM1347 605h8v8h-8zM1363 605h8v8h-8zM1339 621h8v8h-8zM1371 629h8v8h-8z"/>
<path fill="#de5e05" d="M1243 189h8v8h-8zM1211 197h8v8h-8zM1227 197h8v8h-8zM1187 205h8v8h-8zM1195 213h8v8h-8zM1171 221h16v8h-16zM1147 229h8v8h-8zM1163 229h8v8h-8zM1163 237h8v8h-8zM1147 245h8v8h-8zM1123 253h8v8h-8zM1235 269h8v8h-8zM1219 277h24v8h-24zM1219 285h16v8h-16zM1227 293h8v8h-8zM1259 301h24v8h-24zM1243 309h16v8h-16zM1267 309h8v8h-8zM1227 317h32v8h-32zM1267 317h16v8h-16zM1227 325h16v8h-16zM1267 325h24v8h-24zM1307 325h8v8h-8zM1355 325h8v8h-8zM1371 325h8v8h-8zM1219 333h8v8h-8zM1267 333h16v8h-16zM1395 333h8v8h-8zM1211 341h8v8h-8zM1259 341h16v8h-16zM1259 349h8v8h-8zM1427 357h8v8h-8zM1203 373h8v8h-8zM1243 373h8v8h-8zM1235 381h8v8h-8zM1443 381h8v8h-8zM1219 389h24v8h-24zM1203 397h8v8h-8zM1227 397h8v8h-8zM1203 405h8v8h-8zM1227 405h8v8h-8zM1451 405h8v8h-8zM1211 413h24v8h-24zM1195 421h16v8h-16zM1451 421h8v8h-8zM1211 429h16v8h-16zM1451 429h8v8h-8zM1203 437h8v8h-8zM1219 437h16v8h-16zM1195 445h8v8h-8zM1211 445h8v8h-8zM1227 445h8v8h-8zM1211 453h24v8h-24zM1203 461h8v8h-8zM1451 461h8v8h-8zM1203 469h8v8h-8zM1451 469h8v8h-8zM1203 477h8v8h-8zM1451 477h8v8h-8zM1211 485h8v8h-8zM1451 485h8v8h-8zM1483 485h8v8h-8zM1467 493h8v8h-8zM1491 493h8v8h-8zM1243 501h16v8h-16zM1451 501h8v8h-8zM1475 501h8v8h-8zM1491 501h8v8h-8zM1507 501h8v8h-8zM1531 501h8v8h-8zM1227 509h32v8h-32zM1443 509h8v8h-8zM1491 509h8v8h-8zM1515 509h8v8h-8zM1251 517h16v8h-16zM1275 517h8v8h-8zM1435 517h24v8h-24zM1507 517h8v8h-8zM1523 517h8v8h-8zM1115 525h16v8h-16zM1235 525h16v8h-16zM1299 525h16v8h-16zM1371 525h40v8h-40zM1419 525h24v8h-24zM1467 525h8v8h-8zM1499 525h24v8h-24zM1531 525h8v8h-8zM1251 533h8v8h-8zM1339 533h16v8h-16zM1395 533h32v8h-32zM1283 541h8v8h-8zM1379 541h40v8h-40zM1459 541h32v8h-32zM1539 541h8v8h-8zM1363 549h16v8h-16zM1483 549h8v8h-8zM1515 549h8v8h-8zM1467 557h8v8h-8zM1499 557h8v8h-8zM1515 557h8v8h-8zM1523 565h8v8h-8zM1491 573h8v8h-8zM1523 573h16v8h-16zM1227 581h24v8h-24zM1267 581h8v8h-8zM1371 581h16v8h-16zM1259 589h8v8h-8zM1331 589h8v8h-8zM1347 589h16v8h-16zM1371 589h16v8h-16zM1507 589h8v8h-8zM1251 597h8v8h-8zM1307 597h8v8h-8zM1331 597h16v8h-16zM1371 597h8v8h-8zM1531 597h16v8h-16zM1283 605h8v8h-8zM1307 605h8v8h-8zM1371 605h24v8h-24zM1323 613h32v8h-32zM1379 613h8v8h-8zM1347 621h8v8h-8z"/>
<path fill="#d35306" d="M1227 189h16v8h-16zM1195 205h16v8h-16zM1155 229h8v8h-8zM1139 237h24v8h-24zM1211 269h24v8h-24zM1243 269h8v8h-8zM1211 285h8v8h-8zM1259 309h8v8h-8zM1259 317h8v8h-8zM1243 325h24v8h-24zM1315 325h40v8h-40zM1227 333h40v8h-40zM1283 333h16v8h-16zM1387 333h8v8h-8zM1219 341h8v8h-8zM1243 341h16v8h-16zM1275 341h8v8h-8zM1411 341h8v8h-8zM1211 349h8v8h-8zM1235 349h24v8h-24zM1267 349h8v8h-8zM1419 349h8v8h-8zM1211 357h8v8h-8zM1227 357h40v8h-40zM1211 365h24v8h-24zM1243 365h16v8h-16zM1211 373h8v8h-8zM1227 373h16v8h-16zM1251 373h8v8h-8zM1203 381h32v8h-32zM1243 381h8v8h-8zM1203 389h16v8h-16zM1211 397h16v8h-16zM1235 397h8v8h-8zM1211 405h16v8h-16zM1235 405h8v8h-8zM1203 413h8v8h-8zM1451 413h8v8h-8zM1227 421h8v8h-8zM1227 429h8v8h-8zM1211 437h8v8h-8zM1451 437h8v8h-8zM1203 445h8v8h-8zM1315 445h8v8h-8zM1451 445h8v8h-8zM1451 453h8v8h-8zM1211 461h24v8h-24zM1211 469h8v8h-8zM1227 469h16v8h-16zM1443 469h8v8h-8zM1211 477h8v8h-8zM1227 477h16v8h-16zM1235 485h8v8h-8zM1443 485h8v8h-8zM1219 493h8v8h-8zM1243 493h8v8h-8zM1443 493h8v8h-8zM1219 501h8v8h-8zM1235 501h8v8h-8zM1443 501h8v8h-8zM1459 501h16v8h-16zM1499 501h8v8h-8zM1259 509h16v8h-16zM1411 509h8v8h-8zM1435 509h8v8h-8zM1459 509h8v8h-8zM1483 509h8v8h-8zM1499 509h8v8h-8zM1235 517h16v8h-16zM1283 517h16v8h-16zM1387 517h32v8h-32zM1427 517h8v8h-8zM1467 517h8v8h-8zM1483 517h8v8h-8zM1315 525h8v8h-8zM1363 525h8v8h-8zM1411 525h8v8h-8zM1443 525h8v8h-8zM1475 525h8v8h-8zM1523 525h8v8h-8zM1467 533h8v8h-8zM1507 533h8v8h-8zM1531 533h8v8h-8zM1451 541h8v8h-8zM1467 549h16v8h-16zM1539 549h8v8h-8zM1211 573h8v8h-8zM1387 573h8v8h-8zM1235 589h16v8h-16zM1267 589h24v8h-24zM1539 589h8v8h-8zM1259 597h32v8h-32zM1299 597h8v8h-8zM1355 597h8v8h-8zM1379 597h16v8h-16zM1355 605h8v8h-8zM1355 613h8v8h-8zM1371 613h8v8h-8zM1331 621h8v8h-8zM1355 621h8v8h-8z"/>
<path fill="#c84808" d="M1219 261h16v8h-16zM1211 277h8v8h-8zM1379 333h8v8h-8zM1227 341h16v8h-16zM1219 349h16v8h-16zM1219 357h8v8h-8zM1419 357h8v8h-8zM1235 365h8v8h-8zM1259 365h8v8h-8zM1427 365h8v8h-8zM1219 373h8v8h-8zM1435 373h8v8h-8zM1243 389h8v8h-8zM1443 389h8v8h-8zM1443 397h8v8h-8zM1443 405h8v8h-8zM1235 413h8v8h-8zM1235 421h8v8h-8zM1443 421h8v8h-8zM1235 429h8v8h-8zM1443 429h8v8h-8zM1235 437h8v8h-8zM1443 437h8v8h-8zM1235 445h8v8h-8zM1435 445h16v8h-16zM1235 453h8v8h-8zM1443 453h8v8h-8zM1235 461h8v8h-8zM1435 461h16v8h-16zM1219 469h8v8h-8zM1219 477h8v8h-8zM1435 477h16v8h-16zM1219 485h16v8h-16zM1243 485h8v8h-8zM1427 485h16v8h-16zM1227 493h16v8h-16zM1251 493h8v8h-8zM1419 493h24v8h-24zM1499 493h8v8h-8zM1227 501h8v8h-8zM1259 501h8v8h-8zM1411 501h32v8h-32zM1275 509h8v8h-8zM1403 509h8v8h-8zM1419 509h16v8h-16zM1451 509h8v8h-8zM1467 509h16v8h-16zM1507 509h8v8h-8zM1299 517h8v8h-8zM1379 517h8v8h-8zM1419 517h8v8h-8zM1475 517h8v8h-8zM1515 517h8v8h-8zM1323 525h8v8h-8zM1347 525h16v8h-16zM1499 533h8v8h-8zM1539 533h8v8h-8zM1547 541h8v8h-8zM1547 549h8v8h-8zM1507 557h8v8h-8zM1539 557h16v8h-16zM1379 573h8v8h-8zM1219 581h8v8h-8zM1531 581h16v8h-16zM1291 589h16v8h-16zM1531 589h8v8h-8zM1291 597h8v8h-8zM1347 597h8v8h-8zM1267 605h16v8h-16zM1299 605h8v8h-8zM1363 613h8v8h-8zM1323 621h8v8h-8zM1363 621h16v8h-16z"/>
<path fill="#be3e06" d="M1299 333h8v8h-8zM1363 333h16v8h-16zM1283 341h8v8h-8zM1395 341h16v8h-16zM1275 349h8v8h-8zM1411 349h8v8h-8zM1267 357h8v8h-8zM1259 373h8v8h-8zM1251 381h8v8h-8zM1435 381h8v8h-8zM1435 389h8v8h-8zM1243 397h8v8h-8zM1435 397h8v8h-8zM1435 405h8v8h-8zM1435 413h16v8h-16zM1435 421h8v8h-8zM1435 429h8v8h-8zM1435 437h8v8h-8zM1435 453h8v8h-8zM1243 469h8v8h-8zM1427 469h16v8h-16zM1243 477h8v8h-8zM1427 477h8v8h-8zM1419 485h8v8h-8zM1411 493h8v8h-8zM1267 501h8v8h-8zM1283 509h8v8h-8zM1395 509h8v8h-8zM1307 517h8v8h-8zM1371 517h8v8h-8zM1331 525h16v8h-16zM1219 573h8v8h-8z"/>
<path fill="#b43404" d="M1307 333h8v8h-8zM1355 333h8v8h-8zM1411 357h8v8h-8zM1419 365h8v8h-8zM1427 373h8v8h-8zM1427 381h8v8h-8zM1251 389h8v8h-8zM1427 389h8v8h-8zM1427 397h8v8h-8zM1243 405h8v8h-8zM1427 405h8v8h-8zM1427 413h8v8h-8zM1427 421h8v8h-8zM1243 461h8v8h-8zM1427 461h8v8h-8zM1251 485h8v8h-8zM1259 493h8v8h-8zM1403 501h8v8h-8zM1291 509h8v8h-8zM1387 509h8v8h-8zM1315 517h16v8h-16zM1363 517h8v8h-8z"/>
<path fill="#aa2a02" d="M1315 333h40v8h-40zM1291 341h8v8h-8zM1371 341h24v8h-24zM1283 349h8v8h-8zM1403 349h8v8h-8zM1267 365h8v8h-8zM1411 365h8v8h-8zM1419 373h8v8h-8zM1259 381h8v8h-8zM1419 381h8v8h-8zM1243 413h8v8h-8zM1243 421h8v8h-8zM1243 429h8v8h-8zM1427 429h8v8h-8zM1243 437h8v8h-8zM1427 437h8v8h-8zM1243 445h8v8h-8zM1427 445h8v8h-8zM1243 453h8v8h-8zM1427 453h8v8h-8zM1251 477h8v8h-8zM1419 477h8v8h-8zM1411 485h8v8h-8zM1275 501h8v8h-8zM1395 501h8v8h-8zM1299 509h8v8h-8zM1379 509h8v8h-8zM1331 517h8v8h-8zM1347 517h16v8h-16z"/>
<path fill="#a02000" d="M1395 349h8v8h-8zM1275 357h8v8h-8zM1403 357h8v8h-8zM1419 389h8v8h-8zM1251 397h8v8h-8zM1419 397h8v8h-8zM1339 445h8v8h-8zM1251 469h8v8h-8zM1419 469h8v8h-8zM1259 485h8v8h-8zM1267 493h8v8h-8zM1403 493h8v8h-8zM1283 501h8v8h-8zM1387 501h8v8h-8zM1371 509h8v8h-8zM1339 517h8v8h-8z"/>
<path fill="#981800" d="M1299 341h24v8h-24zM1363 341h8v8h-8zM1387 349h8v8h-8zM1275 365h8v8h-8zM1403 365h8v8h-8zM1267 373h8v8h-8zM1411 373h8v8h-8zM1259 389h8v8h-8zM1251 405h8v8h-8zM1419 405h8v8h-8zM1251 413h8v8h-8zM1251 421h8v8h-8zM1251 429h8v8h-8zM1251 437h8v8h-8zM1251 445h8v8h-8zM1251 453h8v8h-8zM1251 461h8v8h-8zM1419 461h8v8h-8zM1259 477h8v8h-8zM1411 477h8v8h-8zM1267 485h8v8h-8zM1275 493h8v8h-8zM1291 501h8v8h-8zM1307 509h16v8h-16z"/>
<path fill="#901000" d="M1323 341h8v8h-8zM1347 341h16v8h-16zM1291 349h8v8h-8zM1379 349h8v8h-8zM1283 357h8v8h-8zM1395 357h8v8h-8zM1275 373h8v8h-8zM1267 381h8v8h-8zM1267 389h8v8h-8zM1259 397h8v8h-8zM1259 405h8v8h-8zM1259 413h8v8h-8zM1419 413h8v8h-8zM1259 421h8v8h-8zM1419 421h8v8h-8zM1323 437h8v8h-8zM1259 445h8v8h-8zM1419 445h8v8h-8zM1419 453h8v8h-8zM1259 461h8v8h-8zM1259 469h8v8h-8zM1267 477h8v8h-8zM1403 485h8v8h-8zM1283 493h8v8h-8zM1395 493h8v8h-8zM1299 501h8v8h-8zM1379 501h8v8h-8zM1323 509h16v8h-16zM1355 509h16v8h-16z"/>
<path fill="#880800" d="M1331 341h16v8h-16zM1299 349h24v8h-24zM1371 349h8v8h-8zM1291 357h16v8h-16zM1283 365h8v8h-8zM1395 365h8v8h-8zM1283 373h8v8h-8zM1403 373h8v8h-8zM1275 381h8v8h-8zM1411 381h8v8h-8zM1411 389h8v8h-8zM1267 397h8v8h-8zM1411 397h8v8h-8zM1267 405h8v8h-8zM1267 413h8v8h-8zM1259 429h8v8h-8zM1419 429h8v8h-8zM1259 437h8v8h-8zM1331 437h8v8h-8zM1419 437h8v8h-8zM1259 453h8v8h-8zM1267 461h8v8h-8zM1315 461h8v8h-8zM1267 469h8v8h-8zM1411 469h8v8h-8zM1403 477h8v8h-8zM1275 485h8v8h-8zM1395 485h8v8h-8zM1387 493h8v8h-8zM1307 501h8v8h-8zM1371 501h8v8h-8zM1339 509h16v8h-16z"/>
<path fill="#800000" d="M1323 349h48v8h-48zM1307 357h24v8h-24zM1371 357h24v8h-24zM1291 365h24v8h-24zM1387 365h8v8h-8zM1291 373h8v8h-8zM1395 373h8v8h-8zM1283 381h16v8h-16zM1403 381h8v8h-8zM1275 389h16v8h-16zM1403 389h8v8h-8zM1275 397h8v8h-8zM1275 405h8v8h-8zM1411 405h8v8h-8zM1275 413h8v8h-8zM1411 413h8v8h-8zM1267 421h8v8h-8zM1411 421h8v8h-8zM1267 429h8v8h-8zM1267 437h8v8h-8zM1267 445h8v8h-8zM1411 445h8v8h-8zM1267 453h16v8h-16zM1411 453h8v8h-8zM1275 461h8v8h-8zM1411 461h8v8h-8zM1275 469h8v8h-8zM1403 469h8v8h-8zM1275 477h8v8h-8zM1395 477h8v8h-8zM1283 485h8v8h-8zM1387 485h8v8h-8zM1291 493h16v8h-16zM1379 493h8v8h-8zM1315 501h16v8h-16zM1355 501h16v8h-16z"/>
<path fill="#800000" d="M1331 357h40v8h-40zM1315 365h72v8h-72zM1299 373h24v8h-24zM1379 373h16v8h-16zM1299 381h16v8h-16zM1387 381h16v8h-16zM1291 389h8v8h-8zM1395 389h8v8h-8zM1283 397h16v8h-16zM1395 397h16v8h-16zM1283 405h8v8h-8zM1403 405h8v8h-8zM1283 413h8v8h-8zM1403 413h8v8h-8zM1275 421h16v8h-16zM1403 421h8v8h-8zM1275 429h16v8h-16zM1403 429h16v8h-16zM1275 437h16v8h-16zM1403 437h16v8h-16zM1275 445h16v8h-16zM1403 445h8v8h-8zM1283 453h8v8h-8zM1403 453h8v8h-8zM1283 461h8v8h-8zM1395 461h16v8h-16zM1283 469h16v8h-16zM1395 469h8v8h-8zM1283 477h16v8h-16zM1387 477h8v8h-8zM1291 485h24v8h-24zM1371 485h16v8h-16zM1307 493h72v8h-72zM1331 501h24v8h-24z"/>
<path fill="#800000" d="M1323 373h56v8h-56zM1315 381h24v8h-24zM1363 381h24v8h-24zM1299 389h24v8h-24zM1379 389h16v8h-16zM1299 397h8v8h-8zM1387 397h8v8h-8zM1291 405h16v8h-16zM1387 405h16v8h-16zM1291 413h8v8h-8zM1387 413h16v8h-16zM1291 421h8v8h-8zM1395 421h8v8h-8zM1291 429h8v8h-8zM1395 429h8v8h-8zM1291 437h8v8h-8zM1395 437h8v8h-8zM1291 445h8v8h-8zM1395 445h8v8h-8zM1291 453h8v8h-8zM1387 453h16v8h-16zM1291 461h16v8h-16zM1339 461h8v8h-8zM1387 461h8v8h-8zM1299 469h8v8h-8zM1379 469h16v8h-16zM1299 477h24v8h-24zM1363 477h24v8h-24zM1315 485h56v8h-56z"/>
<path fill="#800000" d="M1339 381h24v8h-24zM1323 389h56v8h-56zM1307 397h24v8h-24zM1371 397h16v8h-16zM1307 405h8v8h-8zM1379 405h8v8h-8zM1299 413h16v8h-16zM1379 413h8v8h-8zM1299 421h8v8h-8zM1379 421h16v8h-16zM1299 429h8v8h-8zM1379 429h16v8h-16zM1299 437h8v8h-8zM1379 437h16v8h-16zM1299 445h8v8h-8zM1379 445h16v8h-16zM1299 453h16v8h-16zM1379 453h8v8h-8zM1307 461h8v8h-8zM1371 461h16v8h-16zM1307 469h24v8h-24zM1355 469h24v8h-24zM1323 477h40v8h-40z"/>
<path fill="#800000" d="M1331 397h40v8h-40zM1315 405h32v8h-32zM1355 405h24v8h-24zM1315 413h8v8h-8zM1363 413h16v8h-16zM1307 421h16v8h-16zM1371 421h8v8h-8zM1307 429h8v8h-8zM1371 429h8v8h-8zM1307 437h16v8h-16zM1371 437h8v8h-8zM1307 445h8v8h-8zM1371 445h8v8h-8zM1363 453h16v8h-16zM1347 461h24v8h-24zM1331 469h24v8h-24z"/>
<path fill="#800000" d="M1347 405h8v8h-8zM1323 413h40v8h-40zM1323 421h16v8h-16zM1355 421h16v8h-16zM1315 429h16v8h-16zM1363 429h8v8h-8zM1363 437h8v8h-8zM1355 445h16v8h-16zM1347 453h16v8h-16z"/>
<path fill="#800000" d="M1339 421h16v8h-16zM1331 429h32v8h-32zM1347 437h16v8h-16zM1347 445h8v8h-8z"/>
<path fill="#800000" d="M1339 437h8v8h-8z"/></g></g>
<path d="M1063 101.3V829.5 M1209 101.3V829.5 M1355 101.3V829.5 M1501 101.3V829.5 M1647 101.3V829.5 M979.5 127H1707.3 M979.5 272.5H1707.3 M979.5 418H1707.3 M979.5 563.5H1707.3 M979.5 709H1707.3" stroke="#fff" stroke-width="2" stroke-dasharray="2 3.5" fill="none"/>
</g>
<rect x="979.5" y="101.3" width="727.8" height="728.2" fill="none" stroke="#000" stroke-width="2.6"/>
<text x="972.0" y="131.8" font-size="13.99" textLength="33.3" lengthAdjust="spacingAndGlyphs" text-anchor="end">28°N</text>
<text x="972.0" y="277.3" font-size="13.99" textLength="33.3" lengthAdjust="spacingAndGlyphs" text-anchor="end">26°N</text>
<text x="972.0" y="422.8" font-size="13.99" textLength="33.3" lengthAdjust="spacingAndGlyphs" text-anchor="end">24°N</text>
<text x="972.0" y="568.3" font-size="13.99" textLength="33.3" lengthAdjust="spacingAndGlyphs" text-anchor="end">22°N</text>
<text x="972.0" y="713.8" font-size="13.99" textLength="33.3" lengthAdjust="spacingAndGlyphs" text-anchor="end">20°N</text>
<text x="1063.0" y="850.8" font-size="13.99" textLength="36.4" lengthAdjust="spacingAndGlyphs" text-anchor="middle">66°W</text>
<text x="1209.0" y="850.8" font-size="13.99" textLength="36.4" lengthAdjust="spacingAndGlyphs" text-anchor="middle">64°W</text>
<text x="1355.0" y="850.8" font-size="13.99" textLength="36.4" lengthAdjust="spacingAndGlyphs" text-anchor="middle">62°W</text>
<text x="1501.0" y="850.8" font-size="13.99" textLength="36.4" lengthAdjust="spacingAndGlyphs" text-anchor="middle">60°W</text>
<text x="1647.0" y="850.8" font-size="13.99" textLength="36.4" lengthAdjust="spacingAndGlyphs" text-anchor="middle">58°W</text>
<rect x="839.5" y="101.5" width="15.5" height="727.5" fill="url(#cb0)" stroke="#000" stroke-width="1.3"/>
<rect x="1714.5" y="101.5" width="15.5" height="727.5" fill="url(#cb1)" stroke="#000" stroke-width="1.3"/>
<text x="862.0" y="161.6" font-size="17.60" textLength="21.1" lengthAdjust="spacingAndGlyphs">40</text>
<text x="862.0" y="215.6" font-size="17.60" textLength="21.1" lengthAdjust="spacingAndGlyphs">30</text>
<text x="862.0" y="269.6" font-size="17.60" textLength="21.1" lengthAdjust="spacingAndGlyphs">20</text>
<text x="862.0" y="323.6" font-size="17.60" textLength="21.1" lengthAdjust="spacingAndGlyphs">10</text>
<text x="862.0" y="377.6" font-size="17.60" textLength="10.6" lengthAdjust="spacingAndGlyphs">0</text>
<text x="862.0" y="431.6" font-size="17.60" textLength="35.0" lengthAdjust="spacingAndGlyphs">−10</text>
<text x="862.0" y="485.6" font-size="17.60" textLength="35.0" lengthAdjust="spacingAndGlyphs">−20</text>
<text x="862.0" y="539.6" font-size="17.60" textLength="35.0" lengthAdjust="spacingAndGlyphs">−30</text>
<text x="862.0" y="593.6" font-size="17.60" textLength="35.0" lengthAdjust="spacingAndGlyphs">−40</text>
<text x="862.0" y="647.6" font-size="17.60" textLength="35.0" lengthAdjust="spacingAndGlyphs">−50</text>
<text x="862.0" y="701.6" font-size="17.60" textLength="35.0" lengthAdjust="spacingAndGlyphs">−60</text>
<text x="862.0" y="755.6" font-size="17.60" textLength="35.0" lengthAdjust="spacingAndGlyphs">−70</text>
<text x="862.0" y="809.6" font-size="17.60" textLength="35.0" lengthAdjust="spacingAndGlyphs">−80</text>
<text x="1737.0" y="156.9" font-size="17.60" textLength="21.1" lengthAdjust="spacingAndGlyphs">40</text>
<text x="1737.0" y="205.5" font-size="17.60" textLength="21.1" lengthAdjust="spacingAndGlyphs">30</text>
<text x="1737.0" y="254.1" font-size="17.60" textLength="21.1" lengthAdjust="spacingAndGlyphs">20</text>
<text x="1737.0" y="302.7" font-size="17.60" textLength="21.1" lengthAdjust="spacingAndGlyphs">10</text>
<text x="1737.0" y="351.3" font-size="17.60" textLength="10.6" lengthAdjust="spacingAndGlyphs">0</text>
<text x="1737.0" y="399.9" font-size="17.60" textLength="35.0" lengthAdjust="spacingAndGlyphs">−10</text>
<text x="1737.0" y="448.5" font-size="17.60" textLength="35.0" lengthAdjust="spacingAndGlyphs">−20</text>
<text x="1737.0" y="497.1" font-size="17.60" textLength="35.0" lengthAdjust="spacingAndGlyphs">−30</text>
<text x="1737.0" y="545.7" font-size="17.60" textLength="35.0" lengthAdjust="spacingAndGlyphs">−40</text>
<text x="1737.0" y="594.3" font-size="17.60" textLength="35.0" lengthAdjust="spacingAndGlyphs">−50</text>
<text x="1737.0" y="642.9" font-size="17.60" textLength="35.0" lengthAdjust="spacingAndGlyphs">−60</text>
<text x="1737.0" y="691.5" font-size="17.60" textLength="35.0" lengthAdjust="spacingAndGlyphs">−70</text>
<text x="1737.0" y="740.1" font-size="17.60" textLength="35.0" lengthAdjust="spacingAndGlyphs">−80</text>
<text x="1737.0" y="788.7" font-size="17.60" textLength="35.0" lengthAdjust="spacingAndGlyphs">−90</text>
<text x="849.0" y="94.0" font-size="18.44" textLength="20.8" lengthAdjust="spacingAndGlyphs">°C</text>
<text x="1724.0" y="94.0" font-size="18.44" textLength="20.8" lengthAdjust="spacingAndGlyphs">°C</text>
<polyline points="135.2,1260.9 166.4,1260.9 197.6,1260.9 228.8,1260.9 260.0,1260.9 291.2,1246.7 322.4,1246.7 353.6,1232.6 384.8,1232.6 416.0,1218.4 447.2,1204.2 478.4,1204.2 509.6,1204.2 540.8,1175.9 572.0,1161.7 603.2,1133.4 634.4,1105.0 665.6,1048.4 696.8,977.5 728.0,949.2 759.2,949.2 790.4,935.0 821.6,920.8" fill="none" stroke="#0000ff" stroke-width="5" stroke-linejoin="round"/>
<rect x="112.8" y="911.4" width="227.2" height="36.7" rx="4" fill="#fff" fill-opacity="0.8" stroke="#d4d4d4" stroke-width="3"/>
<line x1="119" y1="928" x2="162" y2="928" stroke="#0000ff" stroke-width="5"/>
<text x="176.0" y="936.3" font-size="20.03" textLength="155.7" lengthAdjust="spacingAndGlyphs">Wind[max=140]</text>
<polyline points="135.2,920.4 166.4,920.4 197.6,920.4 228.8,920.4 260.0,920.4 291.2,924.3 322.4,924.3 353.6,924.3 384.8,924.3 416.0,932.2 447.2,936.1 478.4,936.1 509.6,940.0 540.8,963.5 572.0,971.3 603.2,1002.6 634.4,1033.9 665.6,1096.6 696.8,1190.5 728.0,1221.8 759.2,1221.8 790.4,1241.4 821.6,1260.9" fill="none" stroke="#1f77b4" stroke-width="5" stroke-linejoin="round"/>
<rect x="625.5" y="912" width="219" height="35.5" rx="4" fill="#fff" fill-opacity="0.8" stroke="#d4d4d4" stroke-width="3"/>
<line x1="632" y1="928.6" x2="673.5" y2="928.6" stroke="#1f77b4" stroke-width="5"/>
<text x="687.0" y="936.3" font-size="20.03" textLength="148.9" lengthAdjust="spacingAndGlyphs">Pres.[min=924]</text>
<polyline points="135.2,1636.4 166.4,1636.4 197.6,1636.4 228.8,1636.4 260.0,1636.4 291.2,1636.4 322.4,1636.4 353.6,1636.4 384.8,1636.4 416.0,1632.8 447.2,1628.1 478.4,1623.4 509.6,1618.7 540.8,1611.4 572.0,1602.6 603.2,1590.2 634.4,1573.7 665.6,1547.3 696.8,1505.1 728.0,1455.5 759.2,1406.0 790.4,1352.6 821.6,1295.2" fill="none" stroke="#008000" stroke-width="5" stroke-linejoin="round"/>
<rect x="112.7" y="1287.3" width="247.8" height="35.3" rx="4" fill="#fff" fill-opacity="0.8" stroke="#d4d4d4" stroke-width="3"/>
<line x1="119" y1="1303.4" x2="162" y2="1303.4" stroke="#008000" stroke-width="5"/>
<text x="174.3" y="1311.6" font-size="20.03" textLength="176.0" lengthAdjust="spacingAndGlyphs">ACE[max=11.645]</text>
<rect x="104.4" y="903.6" width="750" height="374.8" fill="none" stroke="#000" stroke-width="2.6"/>
<rect x="104.4" y="1278.4" width="750" height="375" fill="none" stroke="#000" stroke-width="2.6"/>
<path d="M92.5 1260.9H104.4 M92.5 1204.2H104.4 M92.5 1147.5H104.4 M92.5 1090.9H104.4 M92.5 1034.2H104.4 M92.5 977.5H104.4 M92.5 920.8H104.4 M92.5 1636.4H104.4 M92.5 1577.8H104.4 M92.5 1519.2H104.4 M92.5 1460.6H104.4 M92.5 1402.0H104.4 M92.5 1343.4H104.4 M92.5 1284.8H104.4 M854.4 1276.6H866.3 M854.4 1198.3H866.3 M854.4 1120.0H866.3 M854.4 1041.8H866.3 M854.4 963.5H866.3" stroke="#000" stroke-width="2.2" fill="none"/>
<text x="78.5" y="1265.7" font-size="13.99" textLength="16.8" lengthAdjust="spacingAndGlyphs" text-anchor="end">20</text>
<text x="78.5" y="1209.0" font-size="13.99" textLength="16.8" lengthAdjust="spacingAndGlyphs" text-anchor="end">40</text>
<text x="78.5" y="1152.4" font-size="13.99" textLength="16.8" lengthAdjust="spacingAndGlyphs" text-anchor="end">60</text>
<text x="78.5" y="1095.7" font-size="13.99" textLength="16.8" lengthAdjust="spacingAndGlyphs" text-anchor="end">80</text>
<text x="78.5" y="1039.0" font-size="13.99" textLength="25.2" lengthAdjust="spacingAndGlyphs" text-anchor="end">100</text>
<text x="78.5" y="982.3" font-size="13.99" textLength="25.2" lengthAdjust="spacingAndGlyphs" text-anchor="end">120</text>
<text x="78.5" y="925.6" font-size="13.99" textLength="25.2" lengthAdjust="spacingAndGlyphs" text-anchor="end">140</text>
<text x="78.5" y="1641.2" font-size="13.99" textLength="8.4" lengthAdjust="spacingAndGlyphs" text-anchor="end">0</text>
<text x="78.5" y="1582.6" font-size="13.99" textLength="8.4" lengthAdjust="spacingAndGlyphs" text-anchor="end">2</text>
<text x="78.5" y="1524.0" font-size="13.99" textLength="8.4" lengthAdjust="spacingAndGlyphs" text-anchor="end">4</text>
<text x="78.5" y="1465.4" font-size="13.99" textLength="8.4" lengthAdjust="spacingAndGlyphs" text-anchor="end">6</text>
<text x="78.5" y="1406.8" font-size="13.99" textLength="8.4" lengthAdjust="spacingAndGlyphs" text-anchor="end">8</text>
<text x="78.5" y="1348.2" font-size="13.99" textLength="16.8" lengthAdjust="spacingAndGlyphs" text-anchor="end">10</text>
<text x="78.5" y="1289.6" font-size="13.99" textLength="16.8" lengthAdjust="spacingAndGlyphs" text-anchor="end">12</text>
<text x="879.5" y="1281.4" font-size="13.99" textLength="25.2" lengthAdjust="spacingAndGlyphs">920</text>
<text x="879.5" y="1203.1" font-size="13.99" textLength="25.2" lengthAdjust="spacingAndGlyphs">940</text>
<text x="879.5" y="1124.9" font-size="13.99" textLength="25.2" lengthAdjust="spacingAndGlyphs">960</text>
<text x="879.5" y="1046.6" font-size="13.99" textLength="25.2" lengthAdjust="spacingAndGlyphs">980</text>
<text x="879.5" y="968.3" font-size="13.99" textLength="33.6" lengthAdjust="spacingAndGlyphs">1000</text>
<text x="35.1" y="1092.3" font-size="14.42" textLength="34.5" lengthAdjust="spacingAndGlyphs" text-anchor="middle" transform="rotate(-90 35.1 1092.3)">Wind</text>
<text x="44.3" y="1466.4" font-size="14.42" textLength="27.4" lengthAdjust="spacingAndGlyphs" text-anchor="middle" transform="rotate(-90 44.3 1466.4)">ACE</text>
<text x="938.2" y="1092.6" font-size="14.42" textLength="58.9" lengthAdjust="spacingAndGlyphs" text-anchor="middle" transform="rotate(-90 938.2 1092.6)">Pressure</text>
<text x="479.4" y="882.0" font-size="23.85" textLength="318.2" lengthAdjust="spacingAndGlyphs" text-anchor="middle">Wind / Pres. / ACE Diagnosis</text>
<g clip-path="url(#clipw)" shape-rendering="crispEdges">
<path fill="#000000" d="M1235 948L1250 948L1249 965L1233 965ZM1156 966L1172 965L1170 982L1155 982ZM1233 964L1264 963L1262 980L1232 981ZM1155 981L1170 981L1168 998L1153 998ZM1216 980L1370 977L1369 993L1215 997ZM1122 998L1400 992L1398 1008L1120 1014ZM1105 1014L1413 1007L1412 1023L1103 1030ZM1119 1029L1180 1028L1179 1044L1117 1046ZM1319 1025L1458 1022L1456 1038L1318 1041ZM1071 1046L1086 1046L1085 1062L1069 1062ZM1102 1045L1133 1044L1131 1061L1100 1062ZM1348 1040L1472 1037L1470 1053L1347 1056ZM1054 1062L1116 1060L1114 1077L1052 1078ZM1378 1055L1470 1053L1468 1069L1376 1071ZM1052 1078L1114 1076L1112 1093L1051 1094ZM1391 1070L1484 1068L1482 1084L1390 1086ZM1051 1093L1112 1092L1111 1108L1049 1110ZM1405 1085L1513 1083L1511 1099L1403 1102ZM1049 1109L1095 1108L1094 1124L1047 1125ZM1403 1101L1527 1098L1525 1115L1402 1117ZM1047 1125L1094 1124L1092 1140L1046 1141ZM1417 1116L1525 1114L1523 1130L1416 1133ZM1030 1141L1092 1139L1090 1156L1029 1157ZM1416 1132L1539 1129L1537 1146L1414 1148ZM1029 1156L1075 1155L1073 1172L1027 1173ZM1398 1148L1537 1145L1536 1161L1397 1164ZM1042 1172L1073 1171L1072 1187L1041 1188ZM1397 1164L1551 1160L1549 1177L1395 1180ZM1041 1187L1087 1186L1085 1203L1039 1204ZM1395 1179L1488 1177L1486 1194L1394 1196ZM1503 1177L1549 1176L1548 1192L1501 1193ZM1039 1203L1085 1202L1084 1218L1037 1219ZM1394 1195L1455 1194L1454 1210L1392 1211ZM1471 1193L1486 1193L1484 1209L1469 1210ZM1517 1192L1532 1192L1531 1208L1515 1209ZM1053 1218L1084 1218L1082 1234L1051 1235ZM1392 1211L1423 1210L1421 1226L1390 1227ZM1438 1210L1454 1209L1452 1226L1437 1226ZM1469 1209L1500 1208L1498 1225L1467 1225ZM1515 1208L1531 1208L1529 1224L1514 1224ZM1051 1234L1097 1233L1096 1249L1050 1250ZM1390 1226L1421 1226L1419 1242L1389 1243ZM1452 1225L1467 1225L1466 1241L1450 1241ZM1575 1222L1606 1222L1604 1238L1574 1239ZM1050 1250L1096 1249L1094 1265L1048 1266ZM1373 1242L1419 1241L1418 1258L1372 1259ZM1574 1238L1604 1237L1603 1254L1572 1254ZM1063 1265L1094 1264L1093 1281L1062 1281ZM1341 1259L1418 1257L1416 1273L1339 1275ZM1572 1254L1603 1253L1601 1269L1570 1270ZM1062 1281L1108 1280L1106 1296L1060 1297ZM1324 1275L1401 1273L1399 1289L1322 1291ZM1570 1269L1601 1269L1599 1285L1569 1286ZM1091 1296L1137 1294L1135 1311L1089 1312ZM1307 1291L1368 1289L1367 1306L1305 1307ZM1569 1285L1599 1284L1598 1301L1567 1301ZM1105 1311L1182 1309L1180 1326L1103 1327ZM1213 1308L1243 1308L1242 1324L1211 1325ZM1274 1307L1367 1305L1365 1321L1273 1324ZM1567 1301L1629 1299L1627 1316L1565 1317ZM1103 1327L1319 1322L1317 1338L1101 1343ZM1535 1317L1627 1315L1625 1331L1533 1333ZM1101 1342L1240 1339L1238 1356L1100 1359ZM1286 1338L1302 1338L1300 1354L1285 1355ZM1533 1333L1625 1331L1624 1347L1531 1349ZM1192 1356L1223 1355L1221 1372L1191 1372ZM1531 1348L1624 1346L1622 1363L1530 1365ZM1530 1364L1622 1362L1620 1378L1528 1380ZM1528 1380L1620 1378L1619 1394L1526 1396ZM1542 1395L1619 1393L1617 1410L1540 1411ZM1525 1411L1617 1409L1615 1425L1523 1427ZM1523 1427L1585 1425L1583 1442L1521 1443ZM1521 1442L1583 1441L1581 1457L1520 1459ZM1535 1458L1566 1457L1564 1473L1533 1474ZM1470 1490L1486 1490L1484 1506L1469 1507ZM958 1533L989 1532L987 1549L957 1549ZM957 1549L1049 1547L1047 1563L955 1565ZM955 1564L1094 1561L1092 1578L953 1581ZM953 1580L1030 1578L1029 1595L952 1596ZM964 1627L1056 1625L1055 1641L962 1643ZM962 1642L1055 1640L1053 1657L961 1659Z"/>
<path fill="#a0a0a0" d="M1180 1028L1319 1025L1318 1041L1179 1044ZM1133 1044L1348 1040L1347 1056L1131 1061ZM1116 1060L1208 1058L1206 1075L1114 1077ZM1270 1057L1378 1055L1376 1071L1268 1074ZM1114 1076L1176 1075L1174 1091L1112 1093ZM1314 1072L1391 1070L1390 1086L1313 1088ZM1112 1092L1158 1091L1157 1107L1111 1108ZM1328 1087L1405 1085L1403 1102L1326 1103ZM1095 1108L1141 1107L1140 1123L1094 1124ZM1342 1102L1403 1101L1402 1117L1340 1119ZM1094 1124L1140 1122L1138 1139L1092 1140ZM1340 1118L1417 1116L1416 1133L1338 1134ZM1092 1139L1123 1138L1121 1155L1090 1156ZM1338 1134L1416 1132L1414 1148L1337 1150ZM1075 1155L1121 1154L1119 1171L1073 1172ZM1337 1149L1398 1148L1397 1164L1335 1166ZM1073 1171L1119 1170L1118 1186L1072 1187ZM1335 1165L1397 1164L1395 1180L1334 1181ZM1087 1186L1102 1186L1101 1202L1085 1203ZM1334 1181L1395 1179L1394 1196L1332 1197ZM1085 1202L1116 1201L1115 1218L1084 1218ZM1347 1196L1394 1195L1392 1211L1346 1212ZM1084 1218L1115 1217L1113 1233L1082 1234ZM1330 1212L1392 1211L1390 1227L1329 1228ZM1097 1233L1128 1232L1127 1249L1096 1249ZM1313 1228L1390 1226L1389 1243L1312 1245ZM1096 1249L1142 1247L1140 1264L1094 1265ZM1296 1244L1373 1242L1372 1259L1295 1261ZM1094 1264L1156 1263L1154 1279L1093 1281ZM1279 1260L1341 1259L1339 1275L1277 1277ZM1108 1280L1170 1278L1168 1295L1106 1296ZM1200 1277L1324 1275L1322 1291L1199 1294ZM1137 1294L1307 1291L1305 1307L1135 1311ZM1182 1309L1213 1308L1211 1325L1180 1326ZM1243 1308L1274 1307L1273 1324L1242 1324Z"/>
<path fill="#707070" d="M1208 1058L1270 1057L1268 1074L1206 1075ZM1176 1075L1314 1072L1313 1088L1174 1091ZM1158 1091L1174 1090L1172 1107L1157 1107ZM1282 1088L1328 1087L1326 1103L1280 1105ZM1141 1107L1157 1106L1155 1123L1140 1123ZM1296 1103L1342 1102L1340 1119L1294 1120ZM1309 1119L1340 1118L1338 1134L1308 1135ZM1123 1138L1138 1138L1137 1155L1121 1155ZM1308 1134L1338 1134L1337 1150L1306 1151ZM1121 1154L1137 1154L1135 1170L1119 1171ZM1321 1150L1337 1149L1335 1166L1320 1166ZM1119 1170L1135 1169L1133 1186L1118 1186ZM1320 1165L1335 1165L1334 1181L1318 1182ZM1102 1186L1133 1185L1132 1202L1101 1202ZM1318 1181L1334 1181L1332 1197L1317 1197ZM1116 1201L1132 1201L1130 1217L1115 1218ZM1317 1197L1347 1196L1346 1212L1315 1213ZM1115 1217L1145 1216L1144 1233L1113 1233ZM1161 1216L1176 1215L1175 1232L1159 1232ZM1315 1212L1330 1212L1329 1228L1313 1229ZM1128 1232L1159 1231L1157 1248L1127 1249ZM1298 1228L1313 1228L1312 1245L1296 1245ZM1142 1247L1157 1247L1156 1264L1140 1264ZM1235 1245L1250 1245L1248 1262L1233 1262ZM1156 1263L1202 1262L1200 1278L1154 1279ZM1264 1260L1279 1260L1277 1277L1262 1277ZM1170 1278L1200 1277L1199 1294L1168 1295Z"/>
<path fill="#3c3c3c" d="M1174 1090L1282 1088L1280 1105L1172 1107ZM1157 1106L1172 1106L1171 1123L1155 1123ZM1265 1104L1296 1103L1294 1120L1263 1121ZM1140 1122L1155 1122L1154 1139L1138 1139ZM1294 1119L1309 1119L1308 1135L1292 1136ZM1292 1135L1308 1134L1306 1151L1291 1151ZM1306 1150L1321 1150L1320 1166L1304 1167ZM1303 1181L1318 1181L1317 1197L1301 1198ZM1132 1201L1147 1200L1145 1217L1130 1217ZM1301 1197L1317 1197L1315 1213L1299 1214ZM1299 1213L1315 1212L1313 1229L1298 1229ZM1157 1247L1173 1247L1171 1263L1156 1264ZM1281 1244L1296 1244L1295 1261L1279 1261ZM1202 1262L1217 1261L1216 1278L1200 1278Z"/>
<path fill="#c8c8c8" d="M1172 1106L1188 1106L1186 1122L1171 1123ZM1218 1105L1265 1104L1263 1121L1217 1122ZM1155 1122L1171 1122L1169 1138L1154 1139ZM1278 1119L1294 1119L1292 1136L1277 1136ZM1138 1138L1154 1138L1152 1154L1137 1155ZM1137 1154L1152 1153L1150 1170L1135 1170ZM1135 1169L1150 1169L1149 1186L1133 1186ZM1304 1166L1320 1165L1318 1182L1303 1182ZM1133 1185L1149 1185L1147 1201L1132 1202ZM1226 1183L1241 1183L1239 1199L1224 1200ZM1145 1216L1161 1216L1159 1232L1144 1233ZM1252 1229L1267 1229L1265 1246L1250 1246ZM1248 1261L1264 1260L1262 1277L1247 1277Z"/>
<path fill="#b8b8b8" d="M1188 1106L1218 1105L1217 1122L1186 1122ZM1248 1120L1278 1119L1277 1136L1246 1137ZM1277 1135L1292 1135L1291 1151L1275 1152ZM1291 1150L1306 1150L1304 1167L1289 1167ZM1210 1183L1226 1183L1224 1200L1209 1200ZM1162 1200L1178 1200L1176 1216L1161 1217ZM1239 1198L1255 1198L1253 1215L1238 1215ZM1190 1231L1221 1230L1219 1247L1188 1247ZM1217 1261L1233 1261L1231 1278L1216 1278Z"/>
<path fill="#a8a8a8" d="M1171 1122L1186 1121L1184 1138L1169 1138ZM1232 1120L1248 1120L1246 1137L1231 1137ZM1154 1138L1169 1137L1167 1154L1152 1154ZM1246 1136L1277 1135L1275 1152L1244 1152ZM1260 1151L1291 1150L1289 1167L1258 1168ZM1289 1166L1304 1166L1303 1182L1287 1183ZM1179 1184L1210 1183L1209 1200L1178 1201ZM1287 1182L1303 1181L1301 1198L1286 1198ZM1224 1199L1239 1198L1238 1215L1222 1215ZM1286 1197L1301 1197L1299 1214L1284 1214ZM1238 1214L1253 1214L1252 1230L1236 1231ZM1284 1213L1299 1213L1298 1229L1282 1230ZM1159 1231L1175 1231L1173 1248L1157 1248ZM1221 1230L1252 1229L1250 1246L1219 1247ZM1282 1229L1298 1228L1296 1245L1281 1245ZM1173 1247L1204 1246L1202 1263L1171 1263ZM1233 1261L1248 1261L1247 1277L1231 1278Z"/>
<path fill="#989898" d="M1186 1121L1232 1120L1231 1137L1184 1138ZM1169 1137L1184 1137L1183 1154L1167 1154ZM1231 1136L1246 1136L1244 1152L1229 1153ZM1152 1153L1167 1153L1166 1170L1150 1170ZM1274 1166L1289 1166L1287 1183L1272 1183ZM1209 1199L1224 1199L1222 1215L1207 1216ZM1265 1245L1281 1244L1279 1261L1264 1261Z"/>
<path fill="#888888" d="M1184 1137L1231 1136L1229 1153L1183 1154ZM1167 1153L1183 1153L1181 1169L1166 1170ZM1229 1152L1260 1151L1258 1168L1227 1168ZM1258 1167L1274 1166L1272 1183L1257 1183ZM1272 1182L1287 1182L1286 1198L1270 1199ZM1147 1200L1162 1200L1161 1217L1145 1217ZM1178 1200L1209 1199L1207 1216L1176 1216ZM1176 1215L1238 1214L1236 1231L1175 1232ZM1204 1246L1219 1246L1217 1262L1202 1263ZM1266 1385L1297 1385L1295 1401L1264 1402ZM1249 1401L1264 1401L1263 1418L1247 1418Z"/>
<path fill="#808080" d="M1183 1153L1229 1152L1227 1168L1181 1169ZM1150 1169L1166 1169L1164 1185L1149 1186ZM1243 1167L1258 1167L1257 1183L1241 1184ZM1149 1185L1164 1184L1162 1201L1147 1201ZM1270 1198L1286 1197L1284 1214L1269 1214Z"/>
<path fill="#787878" d="M1166 1169L1181 1168L1179 1185L1164 1185ZM1227 1167L1243 1167L1241 1184L1226 1184ZM1257 1182L1272 1182L1270 1199L1255 1199ZM1269 1213L1284 1213L1282 1230L1267 1230ZM1267 1229L1282 1229L1281 1245L1265 1246ZM1250 1245L1265 1245L1264 1261L1248 1262Z"/>
<path fill="#f5f5f5" d="M1181 1168L1197 1168L1195 1185L1179 1185ZM1212 1168L1227 1167L1226 1184L1210 1184ZM1241 1183L1257 1182L1255 1199L1239 1199ZM1255 1198L1270 1198L1269 1214L1253 1215ZM1219 1246L1235 1245L1233 1262L1217 1262Z"/>
<path fill="#e0e0e0" d="M1197 1168L1212 1168L1210 1184L1195 1185ZM1164 1184L1179 1184L1178 1201L1162 1201ZM1253 1214L1269 1213L1267 1230L1252 1230ZM1175 1231L1190 1231L1188 1247L1173 1248Z"/>
</g>
<rect x="991.3" y="917.2" width="194.3" height="32" rx="5" fill="#000"/>
<text x="998.2" y="939.4" font-size="22.22" textLength="183.0" lengthAdjust="spacingAndGlyphs" font-weight="bold" fill="#fff">WMG Count: 29</text>
<rect x="979.5" y="903.4" width="750" height="750.1" fill="none" stroke="#000" stroke-width="2.8"/>
</svg></body></html>
